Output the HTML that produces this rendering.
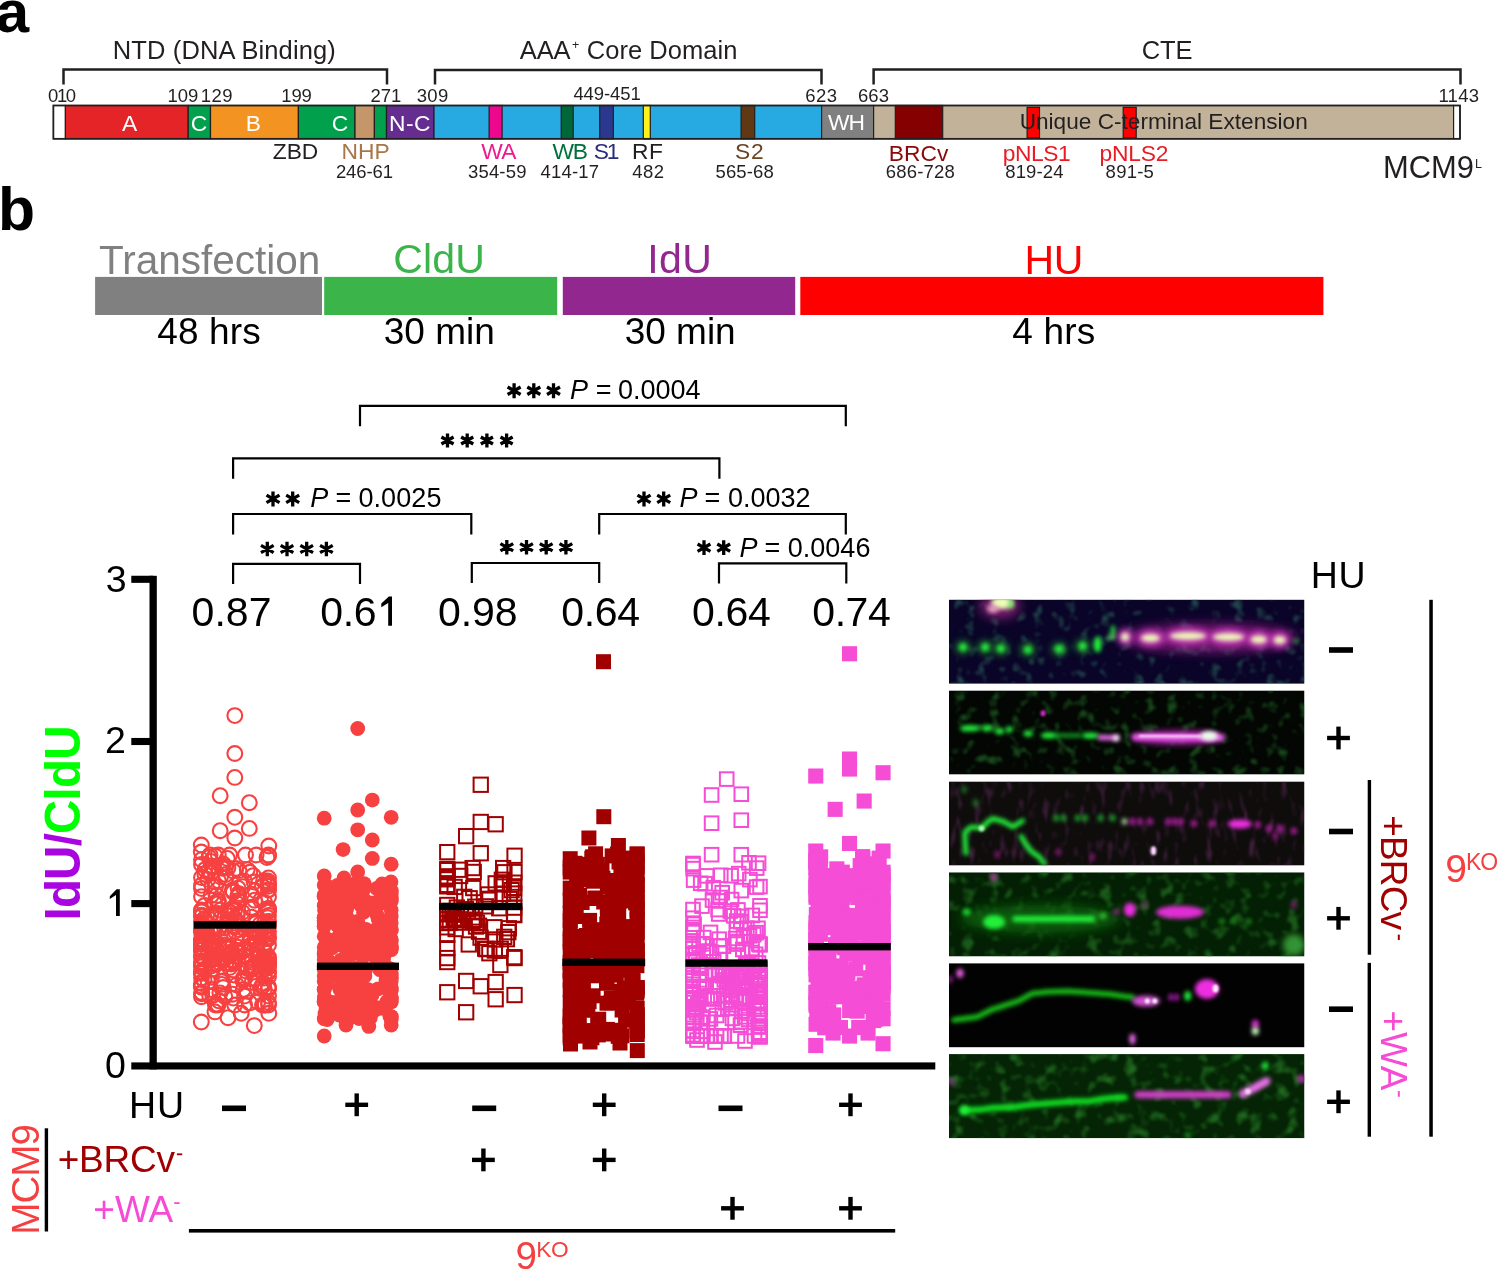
<!DOCTYPE html>
<html><head><meta charset="utf-8"><style>
html,body{margin:0;padding:0;background:#fff;overflow:hidden}
svg{display:block;will-change:transform}
text{font-family:"Liberation Sans", sans-serif}
</style></head><body>
<svg width="1498" height="1270" viewBox="0 0 1498 1270">
<defs><filter id="b2" filterUnits="userSpaceOnUse" x="900" y="550" width="450" height="620"><feGaussianBlur stdDeviation="2.0"/></filter><filter id="b3" filterUnits="userSpaceOnUse" x="900" y="550" width="450" height="620"><feGaussianBlur stdDeviation="3.2"/></filter><filter id="b6" filterUnits="userSpaceOnUse" x="900" y="550" width="450" height="620"><feGaussianBlur stdDeviation="6"/></filter><filter id="b1" filterUnits="userSpaceOnUse" x="900" y="550" width="450" height="620"><feGaussianBlur stdDeviation="1.2"/></filter><filter id="n0" filterUnits="userSpaceOnUse" x="900" y="550" width="450" height="620"><feTurbulence type="fractalNoise" baseFrequency="0.09" numOctaves="2" seed="3"/><feColorMatrix type="matrix" values="0 0 0 0 0.05  0 0 0 0 0.3  0 0 0 0 0.18  4.0 0 0 0 -2.2"/><feGaussianBlur stdDeviation="1.3"/></filter><filter id="n1" filterUnits="userSpaceOnUse" x="900" y="550" width="450" height="620"><feTurbulence type="fractalNoise" baseFrequency="0.09" numOctaves="2" seed="5"/><feColorMatrix type="matrix" values="0 0 0 0 0.04  0 0 0 0 0.4  0 0 0 0 0.05  4.0 0 0 0 -2.15"/><feGaussianBlur stdDeviation="1.3"/></filter><filter id="n2" filterUnits="userSpaceOnUse" x="900" y="550" width="450" height="620"><feTurbulence type="fractalNoise" baseFrequency="0.16 0.05" numOctaves="2" seed="7"/><feColorMatrix type="matrix" values="0 0 0 0 0.3  0 0 0 0 0.05  0 0 0 0 0.28  4.0 0 0 0 -2.2"/><feGaussianBlur stdDeviation="1.3"/></filter><filter id="n3" filterUnits="userSpaceOnUse" x="900" y="550" width="450" height="620"><feTurbulence type="fractalNoise" baseFrequency="0.08" numOctaves="2" seed="9"/><feColorMatrix type="matrix" values="0 0 0 0 0.04  0 0 0 0 0.35  0 0 0 0 0.04  4.0 0 0 0 -2.1"/><feGaussianBlur stdDeviation="1.3"/></filter><filter id="n5" filterUnits="userSpaceOnUse" x="900" y="550" width="450" height="620"><feTurbulence type="fractalNoise" baseFrequency="0.08" numOctaves="2" seed="11"/><feColorMatrix type="matrix" values="0 0 0 0 0.04  0 0 0 0 0.4  0 0 0 0 0.04  3.5 0 0 0 -1.8"/><feGaussianBlur stdDeviation="1.3"/></filter><clipPath id="cp0"><rect x="949" y="599.6" width="355.5" height="84.2"/></clipPath><clipPath id="cp1"><rect x="949" y="690.4" width="355.5" height="84.2"/></clipPath><clipPath id="cp2"><rect x="949" y="781.4" width="355.5" height="84.2"/></clipPath><clipPath id="cp3"><rect x="949" y="872.3" width="355.5" height="84.2"/></clipPath><clipPath id="cp4"><rect x="949" y="963.2" width="355.5" height="84.2"/></clipPath><clipPath id="cp5"><rect x="949" y="1054.1" width="355.5" height="84.2"/></clipPath></defs>
<text x="-4.15" y="32.20" font-size="60" fill="#000" font-weight="bold" >a</text>
<path d="M63.5 84.5 V69.6 H387 V84.5" stroke="#231f20" stroke-width="2.5" fill="none" />
<path d="M435 84.5 V70 H821.5 V84.5" stroke="#231f20" stroke-width="2.5" fill="none" />
<path d="M873.6 84.5 V69.6 H1460.5 V84.5" stroke="#231f20" stroke-width="2.5" fill="none" />
<text x="112.80" y="59.00" font-size="25.5" fill="#231f20" style="letter-spacing:0.120px" >NTD (DNA Binding)</text>
<text x="519.84" y="59.00" font-size="25.5" fill="#231f20" style="letter-spacing:-0.118px" >AAA</text>
<text x="571.91" y="48.60" font-size="12.5" fill="#231f20" >+</text>
<text x="586.73" y="59.00" font-size="25.5" fill="#231f20" style="letter-spacing:0.057px" >Core Domain</text>
<text x="1141.72" y="58.80" font-size="25.5" fill="#231f20" style="letter-spacing:-0.121px" >CTE</text>
<text x="47.96" y="101.80" font-size="18.5" fill="#231f20" >0</text>
<text x="57.11" y="101.80" font-size="18.5" fill="#231f20" style="letter-spacing:-1.554px" >10</text>
<text x="167.41" y="101.80" font-size="18.5" fill="#231f20" style="letter-spacing:0.036px" >109</text>
<text x="200.81" y="101.80" font-size="18.5" fill="#231f20" style="letter-spacing:0.386px" >129</text>
<text x="281.21" y="101.80" font-size="18.5" fill="#231f20" style="letter-spacing:-0.114px" >199</text>
<text x="370.38" y="101.80" font-size="18.5" fill="#231f20" style="letter-spacing:-0.023px" >271</text>
<text x="416.71" y="101.80" font-size="18.5" fill="#231f20" style="letter-spacing:0.339px" >309</text>
<text x="573.38" y="100.40" font-size="18.5" fill="#231f20" style="letter-spacing:-0.083px" >449-451</text>
<text x="805.18" y="101.80" font-size="18.5" fill="#231f20" style="letter-spacing:0.481px" >623</text>
<text x="857.88" y="101.80" font-size="18.5" fill="#231f20" style="letter-spacing:0.181px" >663</text>
<text x="1438.41" y="101.80" font-size="18.5" fill="#231f20" style="letter-spacing:0.266px" >1143</text>
<rect x="53.4" y="105.5" width="12.00" height="33.3" fill="#ffffff" stroke="#231f20" stroke-width="1.2"/>
<rect x="65.4" y="105.5" width="122.80" height="33.3" fill="#e52428" stroke="#231f20" stroke-width="1.2"/>
<rect x="188.2" y="105.5" width="22.30" height="33.3" fill="#00a04c" stroke="#231f20" stroke-width="1.2"/>
<rect x="210.5" y="105.5" width="87.90" height="33.3" fill="#f39322" stroke="#231f20" stroke-width="1.2"/>
<rect x="298.4" y="105.5" width="56.60" height="33.3" fill="#00a04c" stroke="#231f20" stroke-width="1.2"/>
<rect x="355" y="105.5" width="19.40" height="33.3" fill="#c4966a" stroke="#231f20" stroke-width="1.2"/>
<rect x="374.4" y="105.5" width="12.10" height="33.3" fill="#00a04c" stroke="#231f20" stroke-width="1.2"/>
<rect x="386.5" y="105.5" width="47.50" height="33.3" fill="#652d90" stroke="#231f20" stroke-width="1.2"/>
<rect x="434" y="105.5" width="387.60" height="33.3" fill="#27aae1" stroke="#231f20" stroke-width="1.2"/>
<rect x="489.1" y="105.5" width="13.00" height="33.3" fill="#ec078c" stroke="#231f20" stroke-width="1.2"/>
<rect x="561.2" y="105.5" width="12.00" height="33.3" fill="#006838" stroke="#231f20" stroke-width="1.2"/>
<rect x="599.7" y="105.5" width="13.60" height="33.3" fill="#2b388f" stroke="#231f20" stroke-width="1.2"/>
<rect x="643.3" y="105.5" width="7.00" height="33.3" fill="#fff21a" stroke="#231f20" stroke-width="1.2"/>
<rect x="741.1" y="105.5" width="13.60" height="33.3" fill="#603813" stroke="#231f20" stroke-width="1.2"/>
<rect x="821.6" y="105.5" width="52.00" height="33.3" fill="#808080" stroke="#231f20" stroke-width="1.2"/>
<rect x="873.6" y="105.5" width="580.00" height="33.3" fill="#c2b299" stroke="#231f20" stroke-width="1.2"/>
<rect x="895.3" y="105.5" width="47.40" height="33.3" fill="#850000" stroke="#231f20" stroke-width="1.2"/>
<rect x="1453.6" y="105.5" width="6.40" height="33.3" fill="#ffffff" stroke="#231f20" stroke-width="1.2"/>
<rect x="1027.1" y="107.3" width="12.40" height="30.6" fill="#ff0000" stroke="#231f20" stroke-width="1.2"/>
<rect x="1123.2" y="107.3" width="13.00" height="30.6" fill="#ff0000" stroke="#231f20" stroke-width="1.2"/>
<rect x="53.4" y="105.5" width="1406.60" height="33.3" fill="none" stroke="#231f20" stroke-width="1.7"/>
<text x="122.04" y="130.90" font-size="22.8" fill="#fff" >A</text>
<text x="190.86" y="130.90" font-size="22.8" fill="#fff" >C</text>
<text x="245.82" y="130.90" font-size="22.8" fill="#fff" >B</text>
<text x="331.86" y="130.90" font-size="22.8" fill="#fff" >C</text>
<text x="389.02" y="130.90" font-size="22.8" fill="#fff" style="letter-spacing:0.405px" >N-C</text>
<text x="828.09" y="129.90" font-size="22.8" fill="#fff" style="letter-spacing:-1.024px" >WH</text>
<text x="1019.65" y="128.80" font-size="22.6" fill="#231f20" style="letter-spacing:0.020px" >Unique C-terminal Extension</text>
<text x="272.86" y="158.60" font-size="22.8" fill="#231f20" style="letter-spacing:-0.138px" >ZBD</text>
<text x="341.52" y="158.60" font-size="22.8" fill="#a87748" >NHP</text>
<text x="481.19" y="158.70" font-size="22.8" fill="#ec1c8c" style="letter-spacing:-0.639px" >WA</text>
<text x="552.39" y="158.70" font-size="22.8" fill="#00703c" style="letter-spacing:-1.054px" >WB</text>
<text x="593.87" y="158.70" font-size="22.8" fill="#282d7c" style="letter-spacing:-2.264px" >S1</text>
<text x="631.92" y="158.70" font-size="22.8" fill="#231f20" style="letter-spacing:0.512px" >RF</text>
<text x="734.97" y="158.70" font-size="22.8" fill="#6b4420" style="letter-spacing:0.793px" >S2</text>
<text x="888.82" y="160.90" font-size="22.8" fill="#8a0a0a" style="letter-spacing:0.024px" >BRCv</text>
<text x="1002.82" y="160.80" font-size="22.8" fill="#e81c24" style="letter-spacing:-0.436px" >pNLS1</text>
<text x="1099.52" y="160.80" font-size="22.8" fill="#e81c24" style="letter-spacing:-0.197px" >pNLS2</text>
<text x="335.88" y="178.30" font-size="18.5" fill="#231f20" style="letter-spacing:-0.095px" >246-61</text>
<text x="468.01" y="178.30" font-size="18.5" fill="#231f20" style="letter-spacing:0.169px" >354-59</text>
<text x="540.58" y="178.30" font-size="18.5" fill="#231f20" style="letter-spacing:0.172px" >414-17</text>
<text x="632.28" y="178.30" font-size="18.5" fill="#231f20" style="letter-spacing:0.396px" >482</text>
<text x="715.46" y="178.30" font-size="18.5" fill="#231f20" style="letter-spacing:0.149px" >565-68</text>
<text x="885.68" y="178.30" font-size="18.5" fill="#231f20" style="letter-spacing:0.219px" >686-728</text>
<text x="1005.31" y="178.30" font-size="18.5" fill="#231f20" style="letter-spacing:0.103px" >819-24</text>
<text x="1105.61" y="178.30" font-size="18.5" fill="#231f20" style="letter-spacing:0.228px" >891-5</text>
<text x="1382.95" y="177.80" font-size="30.9" fill="#231f20" >MCM9</text>
<text x="1474.97" y="167.80" font-size="12.5" fill="#231f20" >L</text>
<text x="-1.95" y="230.20" font-size="60.7" fill="#000" font-weight="bold" >b</text>
<rect x="95.10" y="276.90" width="226.90" height="38.10" fill="#808080" />
<rect x="324.20" y="276.90" width="233.00" height="38.10" fill="#3bb44a" />
<rect x="562.80" y="276.90" width="232.40" height="38.10" fill="#92278f" />
<rect x="800.30" y="276.90" width="523.10" height="38.10" fill="#ff0000" />
<text x="98.99" y="273.60" font-size="40.5" fill="#808080" >Transfection</text>
<text x="393.35" y="273.20" font-size="41" fill="#3bb44a" style="letter-spacing:0.102px" >CldU</text>
<text x="647.31" y="273.20" font-size="41" fill="#92278f" style="letter-spacing:0.356px" >IdU</text>
<text x="1024.42" y="273.60" font-size="41" fill="#ff0000" style="letter-spacing:-0.185px" >HU</text>
<text x="157.27" y="344.20" font-size="37" fill="#000" style="letter-spacing:0.134px" >48 hrs</text>
<text x="383.81" y="344.00" font-size="37" fill="#000" >30 min</text>
<text x="624.81" y="344.00" font-size="37" fill="#000" style="letter-spacing:-0.040px" >30 min</text>
<text x="1012.27" y="343.90" font-size="37" fill="#000" style="letter-spacing:0.199px" >4 hrs</text>
<path d="M360 426.3 V405.9 H845.8 V426.3" stroke="#000" stroke-width="2.2" fill="none" />
<path d="M233.1 478.7 V458.3 H719.4 V478.7" stroke="#000" stroke-width="2.2" fill="none" />
<path d="M233.1 534.4 V514.0 H471.3 V534.4" stroke="#000" stroke-width="2.2" fill="none" />
<path d="M599.2 534.4 V514.0 H845.8 V534.4" stroke="#000" stroke-width="2.2" fill="none" />
<path d="M233.1 583.9 V563.9 H360 V583.9" stroke="#000" stroke-width="2.2" fill="none" />
<path d="M471.8 583.0 V563.0 H599.2 V583.0" stroke="#000" stroke-width="2.2" fill="none" />
<path d="M719.0 583.5 V563.3 H846.3 V583.5" stroke="#000" stroke-width="2.2" fill="none" />
<path d="M514.10 383.30V398.30M507.61 387.05L520.60 394.55M507.61 394.55L520.60 387.05M533.80 383.30V398.30M527.31 387.05L540.30 394.55M527.31 394.55L540.30 387.05M553.50 383.30V398.30M547.00 387.05L560.00 394.55M547.00 394.55L560.00 387.05" stroke="#000" stroke-width="3.3" fill="none" />
<text x="570.09" y="399.40" font-size="27" fill="#000" font-style="italic" >P</text>
<text x="595.72" y="399.40" font-size="27" fill="#000" >=</text>
<text x="617.92" y="399.40" font-size="27" fill="#000" >0.0004</text>
<path d="M447.50 433.50V447.50M441.44 437.00L453.56 444.00M441.44 444.00L453.56 437.00M467.20 433.50V447.50M461.14 437.00L473.26 444.00M461.14 444.00L473.26 437.00M486.90 433.50V447.50M480.84 437.00L492.96 444.00M480.84 444.00L492.96 437.00M506.60 433.50V447.50M500.54 437.00L512.66 444.00M500.54 444.00L512.66 437.00" stroke="#000" stroke-width="3.3" fill="none" />
<path d="M273.00 491.40V506.40M266.50 495.15L279.50 502.65M266.50 502.65L279.50 495.15M292.70 491.40V506.40M286.20 495.15L299.19 502.65M286.20 502.65L299.19 495.15" stroke="#000" stroke-width="3.3" fill="none" />
<text x="310.29" y="506.80" font-size="27" fill="#000" font-style="italic" >P</text>
<text x="335.42" y="506.80" font-size="27" fill="#000" >=</text>
<text x="358.42" y="506.80" font-size="27" fill="#000" style="letter-spacing:0.082px" >0.0025</text>
<path d="M644.00 491.40V506.40M637.50 495.15L650.50 502.65M637.50 502.65L650.50 495.15M663.70 491.40V506.40M657.21 495.15L670.20 502.65M657.21 502.65L670.20 495.15" stroke="#000" stroke-width="3.3" fill="none" />
<text x="679.59" y="507.40" font-size="27" fill="#000" font-style="italic" >P</text>
<text x="704.52" y="507.40" font-size="27" fill="#000" >=</text>
<text x="728.02" y="507.40" font-size="27" fill="#000" >0.0032</text>
<path d="M267.30 541.70V556.30M260.98 545.35L273.62 552.65M260.98 552.65L273.62 545.35M287.00 541.70V556.30M280.68 545.35L293.32 552.65M280.68 552.65L293.32 545.35M306.70 541.70V556.30M300.38 545.35L313.02 552.65M300.38 552.65L313.02 545.35M326.40 541.70V556.30M320.08 545.35L332.72 552.65M320.08 552.65L332.72 545.35" stroke="#000" stroke-width="3.3" fill="none" />
<path d="M506.80 539.90V554.60M500.43 543.58L513.17 550.92M500.43 550.92L513.17 543.58M526.50 539.90V554.60M520.13 543.58L532.87 550.92M520.13 550.92L532.87 543.58M546.20 539.90V554.60M539.83 543.58L552.57 550.92M539.83 550.92L552.57 543.58M565.90 539.90V554.60M559.53 543.58L572.27 550.92M559.53 550.92L572.27 543.58" stroke="#000" stroke-width="3.3" fill="none" />
<path d="M704.00 540.30V555.10M697.59 544.00L710.41 551.40M697.59 551.40L710.41 544.00M723.70 540.30V555.10M717.29 544.00L730.11 551.40M717.29 551.40L730.11 544.00" stroke="#000" stroke-width="3.3" fill="none" />
<text x="739.59" y="556.60" font-size="27" fill="#000" font-style="italic" >P</text>
<text x="764.52" y="556.60" font-size="27" fill="#000" >=</text>
<text x="787.82" y="556.60" font-size="27" fill="#000" >0.0046</text>
<text x="320.36" y="626.00" font-size="41" fill="#000" style="letter-spacing:-0.354px" >0.6</text>
<path d="M392.0 596.5L392.0 625.8L388.2 625.8L388.2 603.0L381.3 607.3L381.3 603.5L388.80 596.5Z" fill="#000"/>
<text x="191.56" y="626.00" font-size="41" fill="#000" style="letter-spacing:0.048px" >0.87</text>
<text x="437.96" y="626.00" font-size="41" fill="#000" style="letter-spacing:-0.087px" >0.98</text>
<text x="561.26" y="626.00" font-size="41" fill="#000" style="letter-spacing:-0.359px" >0.64</text>
<text x="692.06" y="626.00" font-size="41" fill="#000" style="letter-spacing:-0.359px" >0.64</text>
<text x="812.36" y="626.00" font-size="41" fill="#000" style="letter-spacing:-0.492px" >0.74</text>
<rect x="149.50" y="575.80" width="7.30" height="493.60" fill="#000" />
<rect x="131.30" y="1062.40" width="804.00" height="7.10" fill="#000" />
<rect x="131.30" y="575.75" width="22.00" height="7.10" fill="#000" />
<rect x="131.30" y="737.95" width="22.00" height="7.10" fill="#000" />
<rect x="131.30" y="900.05" width="22.00" height="7.10" fill="#000" />
<path d="M119.8 889.3L119.8 915.9L116.0 915.9L116.0 895.0L109.8 898.9L109.8 896.3L116.60 889.3Z" fill="#000"/>
<text x="105.69" y="591.60" font-size="37.5" fill="#000" >3</text>
<text x="104.92" y="753.40" font-size="37.5" fill="#000" >2</text>
<text x="105.10" y="1078.40" font-size="37.5" fill="#000" >0</text>
<text transform="translate(80.45,917.3) rotate(-90) scale(1,1.035)" x="-3.21" y="0" font-size="47.5" font-weight="bold" fill="#a805e0" style="letter-spacing:-0.787px">IdU/</text>
<text transform="translate(80.45,917.3) rotate(-90) scale(1,1.035)" x="83.36" y="0" font-size="47.5" font-weight="bold" fill="#00ff00" style="letter-spacing:-0.787px">CldU</text>
<circle cx="234.8" cy="715.6" r="7.4" fill="none" stroke="#f74141" stroke-width="2.1"/>
<circle cx="234.8" cy="753.5" r="7.4" fill="none" stroke="#f74141" stroke-width="2.1"/>
<circle cx="234.8" cy="777.4" r="7.4" fill="none" stroke="#f74141" stroke-width="2.1"/>
<circle cx="220.2" cy="795.7" r="7.4" fill="none" stroke="#f74141" stroke-width="2.1"/>
<circle cx="249.3" cy="802.7" r="7.4" fill="none" stroke="#f74141" stroke-width="2.1"/>
<circle cx="234.8" cy="817.3" r="7.4" fill="none" stroke="#f74141" stroke-width="2.1"/>
<circle cx="220.2" cy="830.7" r="7.4" fill="none" stroke="#f74141" stroke-width="2.1"/>
<circle cx="249.3" cy="828.4" r="7.4" fill="none" stroke="#f74141" stroke-width="2.1"/>
<circle cx="234.8" cy="838.0" r="7.4" fill="none" stroke="#f74141" stroke-width="2.1"/>
<circle cx="201.3" cy="1022.0" r="7.4" fill="none" stroke="#f74141" stroke-width="2.1"/>
<circle cx="254.3" cy="1025.6" r="7.4" fill="none" stroke="#f74141" stroke-width="2.1"/>
<circle cx="228.0" cy="1017.7" r="7.4" fill="none" stroke="#f74141" stroke-width="2.1"/>
<circle cx="268.8" cy="1013.3" r="7.4" fill="none" stroke="#f74141" stroke-width="2.1"/>
<circle cx="215.0" cy="1011.9" r="7.4" fill="none" stroke="#f74141" stroke-width="2.1"/>
<circle cx="241.2" cy="1013.3" r="7.4" fill="none" stroke="#f74141" stroke-width="2.1"/>
<circle cx="201.3" cy="845.0" r="7.4" fill="none" stroke="#f74141" stroke-width="2.1"/>
<circle cx="268.8" cy="846.0" r="7.4" fill="none" stroke="#f74141" stroke-width="2.1"/>
<circle cx="201.3" cy="852.0" r="7.4" fill="none" stroke="#f74141" stroke-width="2.1"/>
<circle cx="215.0" cy="856.0" r="7.4" fill="none" stroke="#f74141" stroke-width="2.1"/>
<circle cx="211.6" cy="865.9" r="7.4" fill="none" stroke="#f74141" stroke-width="2.1"/>
<circle cx="226.0" cy="924.5" r="7.4" fill="none" stroke="#f74141" stroke-width="2.1"/>
<circle cx="206.2" cy="934.5" r="7.4" fill="none" stroke="#f74141" stroke-width="2.1"/>
<circle cx="256.9" cy="943.9" r="7.4" fill="none" stroke="#f74141" stroke-width="2.1"/>
<circle cx="268.5" cy="987.6" r="7.4" fill="none" stroke="#f74141" stroke-width="2.1"/>
<circle cx="238.8" cy="893.6" r="7.4" fill="none" stroke="#f74141" stroke-width="2.1"/>
<circle cx="239.0" cy="870.5" r="7.4" fill="none" stroke="#f74141" stroke-width="2.1"/>
<circle cx="214.1" cy="958.1" r="7.4" fill="none" stroke="#f74141" stroke-width="2.1"/>
<circle cx="239.3" cy="929.5" r="7.4" fill="none" stroke="#f74141" stroke-width="2.1"/>
<circle cx="253.6" cy="966.9" r="7.4" fill="none" stroke="#f74141" stroke-width="2.1"/>
<circle cx="213.5" cy="867.3" r="7.4" fill="none" stroke="#f74141" stroke-width="2.1"/>
<circle cx="234.7" cy="918.3" r="7.4" fill="none" stroke="#f74141" stroke-width="2.1"/>
<circle cx="242.3" cy="912.2" r="7.4" fill="none" stroke="#f74141" stroke-width="2.1"/>
<circle cx="264.0" cy="933.3" r="7.4" fill="none" stroke="#f74141" stroke-width="2.1"/>
<circle cx="201.5" cy="941.0" r="7.4" fill="none" stroke="#f74141" stroke-width="2.1"/>
<circle cx="268.5" cy="908.8" r="7.4" fill="none" stroke="#f74141" stroke-width="2.1"/>
<circle cx="201.5" cy="996.7" r="7.4" fill="none" stroke="#f74141" stroke-width="2.1"/>
<circle cx="246.0" cy="971.0" r="7.4" fill="none" stroke="#f74141" stroke-width="2.1"/>
<circle cx="244.9" cy="978.3" r="7.4" fill="none" stroke="#f74141" stroke-width="2.1"/>
<circle cx="227.3" cy="858.4" r="7.4" fill="none" stroke="#f74141" stroke-width="2.1"/>
<circle cx="212.8" cy="995.6" r="7.4" fill="none" stroke="#f74141" stroke-width="2.1"/>
<circle cx="218.1" cy="958.5" r="7.4" fill="none" stroke="#f74141" stroke-width="2.1"/>
<circle cx="201.5" cy="910.0" r="7.4" fill="none" stroke="#f74141" stroke-width="2.1"/>
<circle cx="230.3" cy="952.8" r="7.4" fill="none" stroke="#f74141" stroke-width="2.1"/>
<circle cx="267.6" cy="912.1" r="7.4" fill="none" stroke="#f74141" stroke-width="2.1"/>
<circle cx="207.1" cy="931.8" r="7.4" fill="none" stroke="#f74141" stroke-width="2.1"/>
<circle cx="201.5" cy="930.0" r="7.4" fill="none" stroke="#f74141" stroke-width="2.1"/>
<circle cx="229.6" cy="855.0" r="7.4" fill="none" stroke="#f74141" stroke-width="2.1"/>
<circle cx="236.0" cy="956.4" r="7.4" fill="none" stroke="#f74141" stroke-width="2.1"/>
<circle cx="261.8" cy="986.2" r="7.4" fill="none" stroke="#f74141" stroke-width="2.1"/>
<circle cx="268.5" cy="896.9" r="7.4" fill="none" stroke="#f74141" stroke-width="2.1"/>
<circle cx="233.8" cy="975.0" r="7.4" fill="none" stroke="#f74141" stroke-width="2.1"/>
<circle cx="208.9" cy="870.4" r="7.4" fill="none" stroke="#f74141" stroke-width="2.1"/>
<circle cx="237.5" cy="947.1" r="7.4" fill="none" stroke="#f74141" stroke-width="2.1"/>
<circle cx="215.4" cy="1005.0" r="7.4" fill="none" stroke="#f74141" stroke-width="2.1"/>
<circle cx="265.5" cy="926.1" r="7.4" fill="none" stroke="#f74141" stroke-width="2.1"/>
<circle cx="234.2" cy="927.1" r="7.4" fill="none" stroke="#f74141" stroke-width="2.1"/>
<circle cx="211.2" cy="966.1" r="7.4" fill="none" stroke="#f74141" stroke-width="2.1"/>
<circle cx="247.9" cy="961.0" r="7.4" fill="none" stroke="#f74141" stroke-width="2.1"/>
<circle cx="247.7" cy="968.7" r="7.4" fill="none" stroke="#f74141" stroke-width="2.1"/>
<circle cx="244.6" cy="1005.0" r="7.4" fill="none" stroke="#f74141" stroke-width="2.1"/>
<circle cx="268.5" cy="908.4" r="7.4" fill="none" stroke="#f74141" stroke-width="2.1"/>
<circle cx="237.8" cy="900.7" r="7.4" fill="none" stroke="#f74141" stroke-width="2.1"/>
<circle cx="201.5" cy="977.7" r="7.4" fill="none" stroke="#f74141" stroke-width="2.1"/>
<circle cx="216.7" cy="895.4" r="7.4" fill="none" stroke="#f74141" stroke-width="2.1"/>
<circle cx="203.4" cy="929.6" r="7.4" fill="none" stroke="#f74141" stroke-width="2.1"/>
<circle cx="265.6" cy="963.9" r="7.4" fill="none" stroke="#f74141" stroke-width="2.1"/>
<circle cx="268.5" cy="909.7" r="7.4" fill="none" stroke="#f74141" stroke-width="2.1"/>
<circle cx="216.7" cy="950.0" r="7.4" fill="none" stroke="#f74141" stroke-width="2.1"/>
<circle cx="201.5" cy="986.0" r="7.4" fill="none" stroke="#f74141" stroke-width="2.1"/>
<circle cx="255.1" cy="890.6" r="7.4" fill="none" stroke="#f74141" stroke-width="2.1"/>
<circle cx="201.5" cy="864.5" r="7.4" fill="none" stroke="#f74141" stroke-width="2.1"/>
<circle cx="254.4" cy="966.8" r="7.4" fill="none" stroke="#f74141" stroke-width="2.1"/>
<circle cx="228.4" cy="963.7" r="7.4" fill="none" stroke="#f74141" stroke-width="2.1"/>
<circle cx="210.0" cy="855.0" r="7.4" fill="none" stroke="#f74141" stroke-width="2.1"/>
<circle cx="201.5" cy="944.4" r="7.4" fill="none" stroke="#f74141" stroke-width="2.1"/>
<circle cx="264.3" cy="927.5" r="7.4" fill="none" stroke="#f74141" stroke-width="2.1"/>
<circle cx="201.5" cy="932.6" r="7.4" fill="none" stroke="#f74141" stroke-width="2.1"/>
<circle cx="268.5" cy="884.2" r="7.4" fill="none" stroke="#f74141" stroke-width="2.1"/>
<circle cx="201.5" cy="927.5" r="7.4" fill="none" stroke="#f74141" stroke-width="2.1"/>
<circle cx="218.9" cy="962.2" r="7.4" fill="none" stroke="#f74141" stroke-width="2.1"/>
<circle cx="262.5" cy="886.4" r="7.4" fill="none" stroke="#f74141" stroke-width="2.1"/>
<circle cx="268.5" cy="986.7" r="7.4" fill="none" stroke="#f74141" stroke-width="2.1"/>
<circle cx="211.7" cy="948.1" r="7.4" fill="none" stroke="#f74141" stroke-width="2.1"/>
<circle cx="201.5" cy="971.4" r="7.4" fill="none" stroke="#f74141" stroke-width="2.1"/>
<circle cx="211.0" cy="873.1" r="7.4" fill="none" stroke="#f74141" stroke-width="2.1"/>
<circle cx="247.2" cy="869.6" r="7.4" fill="none" stroke="#f74141" stroke-width="2.1"/>
<circle cx="201.5" cy="942.2" r="7.4" fill="none" stroke="#f74141" stroke-width="2.1"/>
<circle cx="253.2" cy="875.6" r="7.4" fill="none" stroke="#f74141" stroke-width="2.1"/>
<circle cx="268.5" cy="910.7" r="7.4" fill="none" stroke="#f74141" stroke-width="2.1"/>
<circle cx="201.5" cy="922.9" r="7.4" fill="none" stroke="#f74141" stroke-width="2.1"/>
<circle cx="233.5" cy="959.9" r="7.4" fill="none" stroke="#f74141" stroke-width="2.1"/>
<circle cx="268.5" cy="988.9" r="7.4" fill="none" stroke="#f74141" stroke-width="2.1"/>
<circle cx="231.5" cy="909.2" r="7.4" fill="none" stroke="#f74141" stroke-width="2.1"/>
<circle cx="230.2" cy="955.7" r="7.4" fill="none" stroke="#f74141" stroke-width="2.1"/>
<circle cx="209.7" cy="995.9" r="7.4" fill="none" stroke="#f74141" stroke-width="2.1"/>
<circle cx="226.0" cy="962.8" r="7.4" fill="none" stroke="#f74141" stroke-width="2.1"/>
<circle cx="207.8" cy="879.4" r="7.4" fill="none" stroke="#f74141" stroke-width="2.1"/>
<circle cx="216.5" cy="1004.1" r="7.4" fill="none" stroke="#f74141" stroke-width="2.1"/>
<circle cx="229.7" cy="967.4" r="7.4" fill="none" stroke="#f74141" stroke-width="2.1"/>
<circle cx="226.0" cy="877.8" r="7.4" fill="none" stroke="#f74141" stroke-width="2.1"/>
<circle cx="236.2" cy="950.2" r="7.4" fill="none" stroke="#f74141" stroke-width="2.1"/>
<circle cx="201.5" cy="973.3" r="7.4" fill="none" stroke="#f74141" stroke-width="2.1"/>
<circle cx="201.5" cy="923.7" r="7.4" fill="none" stroke="#f74141" stroke-width="2.1"/>
<circle cx="252.1" cy="982.4" r="7.4" fill="none" stroke="#f74141" stroke-width="2.1"/>
<circle cx="264.9" cy="1005.0" r="7.4" fill="none" stroke="#f74141" stroke-width="2.1"/>
<circle cx="236.0" cy="920.7" r="7.4" fill="none" stroke="#f74141" stroke-width="2.1"/>
<circle cx="201.5" cy="962.2" r="7.4" fill="none" stroke="#f74141" stroke-width="2.1"/>
<circle cx="264.4" cy="975.2" r="7.4" fill="none" stroke="#f74141" stroke-width="2.1"/>
<circle cx="258.9" cy="962.2" r="7.4" fill="none" stroke="#f74141" stroke-width="2.1"/>
<circle cx="238.6" cy="895.2" r="7.4" fill="none" stroke="#f74141" stroke-width="2.1"/>
<circle cx="236.8" cy="903.3" r="7.4" fill="none" stroke="#f74141" stroke-width="2.1"/>
<circle cx="212.3" cy="944.8" r="7.4" fill="none" stroke="#f74141" stroke-width="2.1"/>
<circle cx="252.4" cy="966.4" r="7.4" fill="none" stroke="#f74141" stroke-width="2.1"/>
<circle cx="213.4" cy="963.7" r="7.4" fill="none" stroke="#f74141" stroke-width="2.1"/>
<circle cx="250.6" cy="938.3" r="7.4" fill="none" stroke="#f74141" stroke-width="2.1"/>
<circle cx="233.3" cy="870.9" r="7.4" fill="none" stroke="#f74141" stroke-width="2.1"/>
<circle cx="268.5" cy="936.9" r="7.4" fill="none" stroke="#f74141" stroke-width="2.1"/>
<circle cx="268.5" cy="1002.4" r="7.4" fill="none" stroke="#f74141" stroke-width="2.1"/>
<circle cx="257.3" cy="950.4" r="7.4" fill="none" stroke="#f74141" stroke-width="2.1"/>
<circle cx="224.8" cy="945.0" r="7.4" fill="none" stroke="#f74141" stroke-width="2.1"/>
<circle cx="218.6" cy="945.6" r="7.4" fill="none" stroke="#f74141" stroke-width="2.1"/>
<circle cx="257.9" cy="955.6" r="7.4" fill="none" stroke="#f74141" stroke-width="2.1"/>
<circle cx="217.7" cy="913.5" r="7.4" fill="none" stroke="#f74141" stroke-width="2.1"/>
<circle cx="219.1" cy="1000.9" r="7.4" fill="none" stroke="#f74141" stroke-width="2.1"/>
<circle cx="217.9" cy="901.4" r="7.4" fill="none" stroke="#f74141" stroke-width="2.1"/>
<circle cx="201.6" cy="940.6" r="7.4" fill="none" stroke="#f74141" stroke-width="2.1"/>
<circle cx="235.2" cy="931.2" r="7.4" fill="none" stroke="#f74141" stroke-width="2.1"/>
<circle cx="207.5" cy="934.9" r="7.4" fill="none" stroke="#f74141" stroke-width="2.1"/>
<circle cx="203.0" cy="940.4" r="7.4" fill="none" stroke="#f74141" stroke-width="2.1"/>
<circle cx="251.8" cy="962.4" r="7.4" fill="none" stroke="#f74141" stroke-width="2.1"/>
<circle cx="268.5" cy="963.1" r="7.4" fill="none" stroke="#f74141" stroke-width="2.1"/>
<circle cx="220.5" cy="876.7" r="7.4" fill="none" stroke="#f74141" stroke-width="2.1"/>
<circle cx="268.5" cy="976.8" r="7.4" fill="none" stroke="#f74141" stroke-width="2.1"/>
<circle cx="236.6" cy="985.1" r="7.4" fill="none" stroke="#f74141" stroke-width="2.1"/>
<circle cx="201.5" cy="942.6" r="7.4" fill="none" stroke="#f74141" stroke-width="2.1"/>
<circle cx="201.5" cy="987.2" r="7.4" fill="none" stroke="#f74141" stroke-width="2.1"/>
<circle cx="268.5" cy="938.8" r="7.4" fill="none" stroke="#f74141" stroke-width="2.1"/>
<circle cx="243.5" cy="928.4" r="7.4" fill="none" stroke="#f74141" stroke-width="2.1"/>
<circle cx="254.9" cy="930.4" r="7.4" fill="none" stroke="#f74141" stroke-width="2.1"/>
<circle cx="245.7" cy="949.1" r="7.4" fill="none" stroke="#f74141" stroke-width="2.1"/>
<circle cx="218.4" cy="929.0" r="7.4" fill="none" stroke="#f74141" stroke-width="2.1"/>
<circle cx="251.1" cy="929.1" r="7.4" fill="none" stroke="#f74141" stroke-width="2.1"/>
<circle cx="233.6" cy="970.0" r="7.4" fill="none" stroke="#f74141" stroke-width="2.1"/>
<circle cx="244.6" cy="996.1" r="7.4" fill="none" stroke="#f74141" stroke-width="2.1"/>
<circle cx="218.5" cy="900.7" r="7.4" fill="none" stroke="#f74141" stroke-width="2.1"/>
<circle cx="202.3" cy="928.3" r="7.4" fill="none" stroke="#f74141" stroke-width="2.1"/>
<circle cx="246.8" cy="991.3" r="7.4" fill="none" stroke="#f74141" stroke-width="2.1"/>
<circle cx="232.6" cy="994.2" r="7.4" fill="none" stroke="#f74141" stroke-width="2.1"/>
<circle cx="267.0" cy="857.6" r="7.4" fill="none" stroke="#f74141" stroke-width="2.1"/>
<circle cx="256.4" cy="922.4" r="7.4" fill="none" stroke="#f74141" stroke-width="2.1"/>
<circle cx="215.6" cy="886.6" r="7.4" fill="none" stroke="#f74141" stroke-width="2.1"/>
<circle cx="211.0" cy="989.5" r="7.4" fill="none" stroke="#f74141" stroke-width="2.1"/>
<circle cx="201.5" cy="949.8" r="7.4" fill="none" stroke="#f74141" stroke-width="2.1"/>
<circle cx="209.0" cy="857.3" r="7.4" fill="none" stroke="#f74141" stroke-width="2.1"/>
<circle cx="212.2" cy="957.2" r="7.4" fill="none" stroke="#f74141" stroke-width="2.1"/>
<circle cx="250.2" cy="936.0" r="7.4" fill="none" stroke="#f74141" stroke-width="2.1"/>
<circle cx="209.6" cy="919.4" r="7.4" fill="none" stroke="#f74141" stroke-width="2.1"/>
<circle cx="264.5" cy="965.8" r="7.4" fill="none" stroke="#f74141" stroke-width="2.1"/>
<circle cx="251.1" cy="969.7" r="7.4" fill="none" stroke="#f74141" stroke-width="2.1"/>
<circle cx="201.5" cy="950.0" r="7.4" fill="none" stroke="#f74141" stroke-width="2.1"/>
<circle cx="219.9" cy="992.9" r="7.4" fill="none" stroke="#f74141" stroke-width="2.1"/>
<circle cx="264.2" cy="978.0" r="7.4" fill="none" stroke="#f74141" stroke-width="2.1"/>
<circle cx="235.7" cy="868.5" r="7.4" fill="none" stroke="#f74141" stroke-width="2.1"/>
<circle cx="268.5" cy="996.1" r="7.4" fill="none" stroke="#f74141" stroke-width="2.1"/>
<circle cx="249.7" cy="1002.9" r="7.4" fill="none" stroke="#f74141" stroke-width="2.1"/>
<circle cx="231.7" cy="951.7" r="7.4" fill="none" stroke="#f74141" stroke-width="2.1"/>
<circle cx="204.8" cy="874.1" r="7.4" fill="none" stroke="#f74141" stroke-width="2.1"/>
<circle cx="224.5" cy="927.8" r="7.4" fill="none" stroke="#f74141" stroke-width="2.1"/>
<circle cx="245.5" cy="855.0" r="7.4" fill="none" stroke="#f74141" stroke-width="2.1"/>
<circle cx="227.9" cy="948.7" r="7.4" fill="none" stroke="#f74141" stroke-width="2.1"/>
<circle cx="268.5" cy="957.0" r="7.4" fill="none" stroke="#f74141" stroke-width="2.1"/>
<circle cx="223.8" cy="919.1" r="7.4" fill="none" stroke="#f74141" stroke-width="2.1"/>
<circle cx="217.9" cy="903.7" r="7.4" fill="none" stroke="#f74141" stroke-width="2.1"/>
<circle cx="255.7" cy="923.5" r="7.4" fill="none" stroke="#f74141" stroke-width="2.1"/>
<circle cx="259.8" cy="934.3" r="7.4" fill="none" stroke="#f74141" stroke-width="2.1"/>
<circle cx="251.9" cy="908.9" r="7.4" fill="none" stroke="#f74141" stroke-width="2.1"/>
<circle cx="225.6" cy="934.4" r="7.4" fill="none" stroke="#f74141" stroke-width="2.1"/>
<circle cx="201.5" cy="964.8" r="7.4" fill="none" stroke="#f74141" stroke-width="2.1"/>
<circle cx="230.4" cy="912.4" r="7.4" fill="none" stroke="#f74141" stroke-width="2.1"/>
<circle cx="201.5" cy="877.5" r="7.4" fill="none" stroke="#f74141" stroke-width="2.1"/>
<circle cx="268.5" cy="964.2" r="7.4" fill="none" stroke="#f74141" stroke-width="2.1"/>
<circle cx="263.6" cy="983.3" r="7.4" fill="none" stroke="#f74141" stroke-width="2.1"/>
<circle cx="201.5" cy="888.6" r="7.4" fill="none" stroke="#f74141" stroke-width="2.1"/>
<circle cx="266.6" cy="961.9" r="7.4" fill="none" stroke="#f74141" stroke-width="2.1"/>
<circle cx="268.5" cy="882.5" r="7.4" fill="none" stroke="#f74141" stroke-width="2.1"/>
<circle cx="201.6" cy="925.5" r="7.4" fill="none" stroke="#f74141" stroke-width="2.1"/>
<circle cx="266.0" cy="934.2" r="7.4" fill="none" stroke="#f74141" stroke-width="2.1"/>
<circle cx="252.7" cy="930.6" r="7.4" fill="none" stroke="#f74141" stroke-width="2.1"/>
<circle cx="264.7" cy="930.4" r="7.4" fill="none" stroke="#f74141" stroke-width="2.1"/>
<circle cx="237.5" cy="896.8" r="7.4" fill="none" stroke="#f74141" stroke-width="2.1"/>
<circle cx="257.7" cy="1002.0" r="7.4" fill="none" stroke="#f74141" stroke-width="2.1"/>
<circle cx="238.1" cy="888.2" r="7.4" fill="none" stroke="#f74141" stroke-width="2.1"/>
<circle cx="214.5" cy="952.1" r="7.4" fill="none" stroke="#f74141" stroke-width="2.1"/>
<circle cx="216.8" cy="964.0" r="7.4" fill="none" stroke="#f74141" stroke-width="2.1"/>
<circle cx="234.5" cy="962.7" r="7.4" fill="none" stroke="#f74141" stroke-width="2.1"/>
<circle cx="228.1" cy="915.8" r="7.4" fill="none" stroke="#f74141" stroke-width="2.1"/>
<circle cx="234.7" cy="1005.0" r="7.4" fill="none" stroke="#f74141" stroke-width="2.1"/>
<circle cx="214.5" cy="927.5" r="7.4" fill="none" stroke="#f74141" stroke-width="2.1"/>
<circle cx="243.3" cy="989.5" r="7.4" fill="none" stroke="#f74141" stroke-width="2.1"/>
<circle cx="262.5" cy="1005.0" r="7.4" fill="none" stroke="#f74141" stroke-width="2.1"/>
<circle cx="263.3" cy="985.6" r="7.4" fill="none" stroke="#f74141" stroke-width="2.1"/>
<circle cx="249.1" cy="942.6" r="7.4" fill="none" stroke="#f74141" stroke-width="2.1"/>
<circle cx="249.2" cy="946.7" r="7.4" fill="none" stroke="#f74141" stroke-width="2.1"/>
<circle cx="214.3" cy="933.7" r="7.4" fill="none" stroke="#f74141" stroke-width="2.1"/>
<circle cx="222.4" cy="980.9" r="7.4" fill="none" stroke="#f74141" stroke-width="2.1"/>
<circle cx="268.5" cy="945.1" r="7.4" fill="none" stroke="#f74141" stroke-width="2.1"/>
<circle cx="220.2" cy="953.8" r="7.4" fill="none" stroke="#f74141" stroke-width="2.1"/>
<circle cx="201.5" cy="929.6" r="7.4" fill="none" stroke="#f74141" stroke-width="2.1"/>
<circle cx="222.2" cy="868.2" r="7.4" fill="none" stroke="#f74141" stroke-width="2.1"/>
<circle cx="214.6" cy="903.3" r="7.4" fill="none" stroke="#f74141" stroke-width="2.1"/>
<circle cx="233.3" cy="892.2" r="7.4" fill="none" stroke="#f74141" stroke-width="2.1"/>
<circle cx="228.6" cy="946.1" r="7.4" fill="none" stroke="#f74141" stroke-width="2.1"/>
<circle cx="255.3" cy="939.6" r="7.4" fill="none" stroke="#f74141" stroke-width="2.1"/>
<circle cx="225.8" cy="947.9" r="7.4" fill="none" stroke="#f74141" stroke-width="2.1"/>
<circle cx="201.5" cy="928.1" r="7.4" fill="none" stroke="#f74141" stroke-width="2.1"/>
<circle cx="201.8" cy="992.5" r="7.4" fill="none" stroke="#f74141" stroke-width="2.1"/>
<circle cx="264.7" cy="902.6" r="7.4" fill="none" stroke="#f74141" stroke-width="2.1"/>
<circle cx="233.3" cy="998.1" r="7.4" fill="none" stroke="#f74141" stroke-width="2.1"/>
<circle cx="218.3" cy="855.0" r="7.4" fill="none" stroke="#f74141" stroke-width="2.1"/>
<circle cx="255.3" cy="978.4" r="7.4" fill="none" stroke="#f74141" stroke-width="2.1"/>
<circle cx="242.2" cy="938.6" r="7.4" fill="none" stroke="#f74141" stroke-width="2.1"/>
<circle cx="225.7" cy="866.9" r="7.4" fill="none" stroke="#f74141" stroke-width="2.1"/>
<circle cx="251.9" cy="944.2" r="7.4" fill="none" stroke="#f74141" stroke-width="2.1"/>
<circle cx="223.3" cy="987.5" r="7.4" fill="none" stroke="#f74141" stroke-width="2.1"/>
<circle cx="268.5" cy="886.3" r="7.4" fill="none" stroke="#f74141" stroke-width="2.1"/>
<circle cx="267.7" cy="881.0" r="7.4" fill="none" stroke="#f74141" stroke-width="2.1"/>
<circle cx="232.4" cy="890.2" r="7.4" fill="none" stroke="#f74141" stroke-width="2.1"/>
<circle cx="253.3" cy="972.0" r="7.4" fill="none" stroke="#f74141" stroke-width="2.1"/>
<circle cx="220.2" cy="938.9" r="7.4" fill="none" stroke="#f74141" stroke-width="2.1"/>
<circle cx="218.9" cy="945.9" r="7.4" fill="none" stroke="#f74141" stroke-width="2.1"/>
<circle cx="262.3" cy="960.6" r="7.4" fill="none" stroke="#f74141" stroke-width="2.1"/>
<circle cx="218.4" cy="880.7" r="7.4" fill="none" stroke="#f74141" stroke-width="2.1"/>
<circle cx="232.6" cy="925.9" r="7.4" fill="none" stroke="#f74141" stroke-width="2.1"/>
<circle cx="260.6" cy="900.2" r="7.4" fill="none" stroke="#f74141" stroke-width="2.1"/>
<circle cx="201.5" cy="946.7" r="7.4" fill="none" stroke="#f74141" stroke-width="2.1"/>
<circle cx="266.7" cy="968.2" r="7.4" fill="none" stroke="#f74141" stroke-width="2.1"/>
<circle cx="268.5" cy="971.2" r="7.4" fill="none" stroke="#f74141" stroke-width="2.1"/>
<circle cx="201.9" cy="961.5" r="7.4" fill="none" stroke="#f74141" stroke-width="2.1"/>
<circle cx="204.0" cy="919.4" r="7.4" fill="none" stroke="#f74141" stroke-width="2.1"/>
<circle cx="268.5" cy="925.6" r="7.4" fill="none" stroke="#f74141" stroke-width="2.1"/>
<circle cx="268.5" cy="855.0" r="7.4" fill="none" stroke="#f74141" stroke-width="2.1"/>
<circle cx="243.1" cy="978.6" r="7.4" fill="none" stroke="#f74141" stroke-width="2.1"/>
<circle cx="228.8" cy="954.6" r="7.4" fill="none" stroke="#f74141" stroke-width="2.1"/>
<circle cx="237.3" cy="914.7" r="7.4" fill="none" stroke="#f74141" stroke-width="2.1"/>
<circle cx="267.7" cy="917.7" r="7.4" fill="none" stroke="#f74141" stroke-width="2.1"/>
<circle cx="251.4" cy="917.1" r="7.4" fill="none" stroke="#f74141" stroke-width="2.1"/>
<circle cx="252.9" cy="951.7" r="7.4" fill="none" stroke="#f74141" stroke-width="2.1"/>
<circle cx="228.6" cy="920.1" r="7.4" fill="none" stroke="#f74141" stroke-width="2.1"/>
<circle cx="209.1" cy="943.7" r="7.4" fill="none" stroke="#f74141" stroke-width="2.1"/>
<circle cx="225.9" cy="874.5" r="7.4" fill="none" stroke="#f74141" stroke-width="2.1"/>
<circle cx="211.0" cy="914.5" r="7.4" fill="none" stroke="#f74141" stroke-width="2.1"/>
<circle cx="263.6" cy="880.8" r="7.4" fill="none" stroke="#f74141" stroke-width="2.1"/>
<circle cx="212.3" cy="969.1" r="7.4" fill="none" stroke="#f74141" stroke-width="2.1"/>
<circle cx="254.6" cy="900.2" r="7.4" fill="none" stroke="#f74141" stroke-width="2.1"/>
<circle cx="201.5" cy="927.4" r="7.4" fill="none" stroke="#f74141" stroke-width="2.1"/>
<circle cx="263.6" cy="950.3" r="7.4" fill="none" stroke="#f74141" stroke-width="2.1"/>
<circle cx="201.5" cy="983.5" r="7.4" fill="none" stroke="#f74141" stroke-width="2.1"/>
<circle cx="242.7" cy="886.6" r="7.4" fill="none" stroke="#f74141" stroke-width="2.1"/>
<circle cx="264.4" cy="943.3" r="7.4" fill="none" stroke="#f74141" stroke-width="2.1"/>
<circle cx="211.5" cy="977.3" r="7.4" fill="none" stroke="#f74141" stroke-width="2.1"/>
<circle cx="260.7" cy="955.8" r="7.4" fill="none" stroke="#f74141" stroke-width="2.1"/>
<circle cx="223.2" cy="863.9" r="7.4" fill="none" stroke="#f74141" stroke-width="2.1"/>
<circle cx="245.0" cy="955.3" r="7.4" fill="none" stroke="#f74141" stroke-width="2.1"/>
<circle cx="227.6" cy="911.2" r="7.4" fill="none" stroke="#f74141" stroke-width="2.1"/>
<circle cx="267.6" cy="934.5" r="7.4" fill="none" stroke="#f74141" stroke-width="2.1"/>
<circle cx="242.9" cy="980.5" r="7.4" fill="none" stroke="#f74141" stroke-width="2.1"/>
<circle cx="268.5" cy="962.9" r="7.4" fill="none" stroke="#f74141" stroke-width="2.1"/>
<circle cx="231.1" cy="964.1" r="7.4" fill="none" stroke="#f74141" stroke-width="2.1"/>
<circle cx="244.1" cy="928.2" r="7.4" fill="none" stroke="#f74141" stroke-width="2.1"/>
<circle cx="205.1" cy="869.5" r="7.4" fill="none" stroke="#f74141" stroke-width="2.1"/>
<circle cx="265.2" cy="1005.0" r="7.4" fill="none" stroke="#f74141" stroke-width="2.1"/>
<circle cx="256.1" cy="855.0" r="7.4" fill="none" stroke="#f74141" stroke-width="2.1"/>
<circle cx="268.5" cy="960.3" r="7.4" fill="none" stroke="#f74141" stroke-width="2.1"/>
<circle cx="249.8" cy="872.3" r="7.4" fill="none" stroke="#f74141" stroke-width="2.1"/>
<circle cx="268.5" cy="959.3" r="7.4" fill="none" stroke="#f74141" stroke-width="2.1"/>
<circle cx="201.5" cy="916.6" r="7.4" fill="none" stroke="#f74141" stroke-width="2.1"/>
<circle cx="268.5" cy="931.4" r="7.4" fill="none" stroke="#f74141" stroke-width="2.1"/>
<circle cx="204.0" cy="980.0" r="7.4" fill="none" stroke="#f74141" stroke-width="2.1"/>
<circle cx="264.2" cy="989.3" r="7.4" fill="none" stroke="#f74141" stroke-width="2.1"/>
<circle cx="254.1" cy="882.0" r="7.4" fill="none" stroke="#f74141" stroke-width="2.1"/>
<circle cx="260.0" cy="924.6" r="7.4" fill="none" stroke="#f74141" stroke-width="2.1"/>
<circle cx="260.6" cy="988.5" r="7.4" fill="none" stroke="#f74141" stroke-width="2.1"/>
<circle cx="254.9" cy="932.6" r="7.4" fill="none" stroke="#f74141" stroke-width="2.1"/>
<circle cx="201.5" cy="938.8" r="7.4" fill="none" stroke="#f74141" stroke-width="2.1"/>
<circle cx="251.3" cy="894.1" r="7.4" fill="none" stroke="#f74141" stroke-width="2.1"/>
<circle cx="268.5" cy="1005.0" r="7.4" fill="none" stroke="#f74141" stroke-width="2.1"/>
<circle cx="268.5" cy="967.1" r="7.4" fill="none" stroke="#f74141" stroke-width="2.1"/>
<circle cx="221.0" cy="917.7" r="7.4" fill="none" stroke="#f74141" stroke-width="2.1"/>
<circle cx="204.7" cy="918.7" r="7.4" fill="none" stroke="#f74141" stroke-width="2.1"/>
<circle cx="204.6" cy="905.5" r="7.4" fill="none" stroke="#f74141" stroke-width="2.1"/>
<circle cx="237.3" cy="921.8" r="7.4" fill="none" stroke="#f74141" stroke-width="2.1"/>
<circle cx="210.5" cy="945.6" r="7.4" fill="none" stroke="#f74141" stroke-width="2.1"/>
<circle cx="255.2" cy="922.6" r="7.4" fill="none" stroke="#f74141" stroke-width="2.1"/>
<circle cx="211.2" cy="895.5" r="7.4" fill="none" stroke="#f74141" stroke-width="2.1"/>
<circle cx="201.5" cy="915.3" r="7.4" fill="none" stroke="#f74141" stroke-width="2.1"/>
<circle cx="268.5" cy="889.6" r="7.4" fill="none" stroke="#f74141" stroke-width="2.1"/>
<circle cx="234.5" cy="910.6" r="7.4" fill="none" stroke="#f74141" stroke-width="2.1"/>
<circle cx="205.6" cy="943.8" r="7.4" fill="none" stroke="#f74141" stroke-width="2.1"/>
<circle cx="201.5" cy="955.6" r="7.4" fill="none" stroke="#f74141" stroke-width="2.1"/>
<circle cx="264.5" cy="951.2" r="7.4" fill="none" stroke="#f74141" stroke-width="2.1"/>
<circle cx="244.5" cy="881.2" r="7.4" fill="none" stroke="#f74141" stroke-width="2.1"/>
<circle cx="221.6" cy="984.4" r="7.4" fill="none" stroke="#f74141" stroke-width="2.1"/>
<circle cx="268.5" cy="856.0" r="7.4" fill="none" stroke="#f74141" stroke-width="2.1"/>
<circle cx="268.5" cy="921.8" r="7.4" fill="none" stroke="#f74141" stroke-width="2.1"/>
<circle cx="268.5" cy="915.4" r="7.4" fill="none" stroke="#f74141" stroke-width="2.1"/>
<circle cx="224.0" cy="959.3" r="7.4" fill="none" stroke="#f74141" stroke-width="2.1"/>
<circle cx="201.5" cy="896.6" r="7.4" fill="none" stroke="#f74141" stroke-width="2.1"/>
<circle cx="268.5" cy="921.5" r="7.4" fill="none" stroke="#f74141" stroke-width="2.1"/>
<circle cx="201.5" cy="911.8" r="7.4" fill="none" stroke="#f74141" stroke-width="2.1"/>
<circle cx="201.5" cy="966.9" r="7.4" fill="none" stroke="#f74141" stroke-width="2.1"/>
<circle cx="260.5" cy="933.9" r="7.4" fill="none" stroke="#f74141" stroke-width="2.1"/>
<circle cx="262.3" cy="958.9" r="7.4" fill="none" stroke="#f74141" stroke-width="2.1"/>
<circle cx="267.1" cy="966.4" r="7.4" fill="none" stroke="#f74141" stroke-width="2.1"/>
<circle cx="268.5" cy="890.1" r="7.4" fill="none" stroke="#f74141" stroke-width="2.1"/>
<circle cx="201.5" cy="885.3" r="7.4" fill="none" stroke="#f74141" stroke-width="2.1"/>
<circle cx="239.4" cy="953.1" r="7.4" fill="none" stroke="#f74141" stroke-width="2.1"/>
<circle cx="212.3" cy="960.1" r="7.4" fill="none" stroke="#f74141" stroke-width="2.1"/>
<circle cx="210.8" cy="861.4" r="7.4" fill="none" stroke="#f74141" stroke-width="2.1"/>
<circle cx="204.6" cy="969.3" r="7.4" fill="none" stroke="#f74141" stroke-width="2.1"/>
<circle cx="265.5" cy="938.8" r="7.4" fill="none" stroke="#f74141" stroke-width="2.1"/>
<circle cx="260.4" cy="961.7" r="7.4" fill="none" stroke="#f74141" stroke-width="2.1"/>
<circle cx="218.0" cy="1005.0" r="7.4" fill="none" stroke="#f74141" stroke-width="2.1"/>
<circle cx="201.5" cy="949.7" r="7.4" fill="none" stroke="#f74141" stroke-width="2.1"/>
<circle cx="208.2" cy="954.6" r="7.4" fill="none" stroke="#f74141" stroke-width="2.1"/>
<circle cx="215.2" cy="928.1" r="7.4" fill="none" stroke="#f74141" stroke-width="2.1"/>
<circle cx="220.4" cy="910.2" r="7.4" fill="none" stroke="#f74141" stroke-width="2.1"/>
<circle cx="266.1" cy="938.6" r="7.4" fill="none" stroke="#f74141" stroke-width="2.1"/>
<circle cx="201.5" cy="859.7" r="7.4" fill="none" stroke="#f74141" stroke-width="2.1"/>
<circle cx="208.1" cy="981.9" r="7.4" fill="none" stroke="#f74141" stroke-width="2.1"/>
<circle cx="257.0" cy="949.6" r="7.4" fill="none" stroke="#f74141" stroke-width="2.1"/>
<circle cx="230.7" cy="919.9" r="7.4" fill="none" stroke="#f74141" stroke-width="2.1"/>
<circle cx="224.8" cy="996.5" r="7.4" fill="none" stroke="#f74141" stroke-width="2.1"/>
<circle cx="256.8" cy="943.9" r="7.4" fill="none" stroke="#f74141" stroke-width="2.1"/>
<circle cx="268.5" cy="972.8" r="7.4" fill="none" stroke="#f74141" stroke-width="2.1"/>
<circle cx="201.5" cy="993.7" r="7.4" fill="none" stroke="#f74141" stroke-width="2.1"/>
<circle cx="244.1" cy="948.9" r="7.4" fill="none" stroke="#f74141" stroke-width="2.1"/>
<circle cx="268.5" cy="877.9" r="7.4" fill="none" stroke="#f74141" stroke-width="2.1"/>
<circle cx="227.9" cy="867.9" r="7.4" fill="none" stroke="#f74141" stroke-width="2.1"/>
<circle cx="201.5" cy="921.8" r="7.4" fill="none" stroke="#f74141" stroke-width="2.1"/>
<circle cx="213.0" cy="949.6" r="7.4" fill="none" stroke="#f74141" stroke-width="2.1"/>
<circle cx="201.5" cy="973.0" r="7.4" fill="none" stroke="#f74141" stroke-width="2.1"/>
<circle cx="252.0" cy="907.3" r="7.4" fill="none" stroke="#f74141" stroke-width="2.1"/>
<circle cx="211.9" cy="954.3" r="7.4" fill="none" stroke="#f74141" stroke-width="2.1"/>
<circle cx="212.9" cy="942.3" r="7.4" fill="none" stroke="#f74141" stroke-width="2.1"/>
<circle cx="232.5" cy="890.7" r="7.4" fill="none" stroke="#f74141" stroke-width="2.1"/>
<circle cx="221.7" cy="981.5" r="7.4" fill="none" stroke="#f74141" stroke-width="2.1"/>
<circle cx="212.0" cy="885.5" r="7.4" fill="none" stroke="#f74141" stroke-width="2.1"/>
<circle cx="236.5" cy="923.4" r="7.4" fill="none" stroke="#f74141" stroke-width="2.1"/>
<circle cx="201.5" cy="956.7" r="7.4" fill="none" stroke="#f74141" stroke-width="2.1"/>
<rect x="194.00" y="921.30" width="82.30" height="7.40" fill="#000" />
<circle cx="357.7" cy="728.5" r="7.4" fill="#f74141"/>
<circle cx="372.3" cy="800.1" r="7.4" fill="#f74141"/>
<circle cx="357.7" cy="810.0" r="7.4" fill="#f74141"/>
<circle cx="324.2" cy="818.2" r="7.4" fill="#f74141"/>
<circle cx="391.2" cy="817.3" r="7.4" fill="#f74141"/>
<circle cx="357.7" cy="829.8" r="7.4" fill="#f74141"/>
<circle cx="372.3" cy="840.0" r="7.4" fill="#f74141"/>
<circle cx="343.1" cy="849.6" r="7.4" fill="#f74141"/>
<circle cx="372.3" cy="858.4" r="7.4" fill="#f74141"/>
<circle cx="391.2" cy="864.2" r="7.4" fill="#f74141"/>
<circle cx="357.7" cy="872.0" r="7.4" fill="#f74141"/>
<circle cx="324.2" cy="1036.0" r="7.4" fill="#f74141"/>
<circle cx="346.0" cy="1025.0" r="7.4" fill="#f74141"/>
<circle cx="368.8" cy="1026.4" r="7.4" fill="#f74141"/>
<circle cx="391.2" cy="1025.0" r="7.4" fill="#f74141"/>
<circle cx="324.2" cy="876.0" r="7.4" fill="#f74141"/>
<circle cx="344.0" cy="878.0" r="7.4" fill="#f74141"/>
<circle cx="391.0" cy="882.0" r="7.4" fill="#f74141"/>
<circle cx="324.2" cy="895.0" r="7.4" fill="#f74141"/>
<circle cx="391.0" cy="900.0" r="7.4" fill="#f74141"/>
<circle cx="337.3" cy="903.7" r="7.4" fill="#f74141"/>
<circle cx="344.4" cy="923.7" r="7.4" fill="#f74141"/>
<circle cx="331.5" cy="1007.9" r="7.4" fill="#f74141"/>
<circle cx="383.5" cy="946.6" r="7.4" fill="#f74141"/>
<circle cx="381.4" cy="942.8" r="7.4" fill="#f74141"/>
<circle cx="389.9" cy="923.6" r="7.4" fill="#f74141"/>
<circle cx="341.4" cy="984.1" r="7.4" fill="#f74141"/>
<circle cx="340.4" cy="999.8" r="7.4" fill="#f74141"/>
<circle cx="363.6" cy="971.7" r="7.4" fill="#f74141"/>
<circle cx="324.2" cy="976.1" r="7.4" fill="#f74141"/>
<circle cx="354.6" cy="925.9" r="7.4" fill="#f74141"/>
<circle cx="330.8" cy="940.5" r="7.4" fill="#f74141"/>
<circle cx="324.2" cy="917.3" r="7.4" fill="#f74141"/>
<circle cx="354.7" cy="968.2" r="7.4" fill="#f74141"/>
<circle cx="369.4" cy="1010.4" r="7.4" fill="#f74141"/>
<circle cx="368.1" cy="989.6" r="7.4" fill="#f74141"/>
<circle cx="357.0" cy="1016.5" r="7.4" fill="#f74141"/>
<circle cx="360.6" cy="905.0" r="7.4" fill="#f74141"/>
<circle cx="324.2" cy="954.1" r="7.4" fill="#f74141"/>
<circle cx="362.7" cy="957.1" r="7.4" fill="#f74141"/>
<circle cx="358.5" cy="970.6" r="7.4" fill="#f74141"/>
<circle cx="391.2" cy="939.2" r="7.4" fill="#f74141"/>
<circle cx="324.2" cy="1018.7" r="7.4" fill="#f74141"/>
<circle cx="358.6" cy="1010.8" r="7.4" fill="#f74141"/>
<circle cx="365.3" cy="970.3" r="7.4" fill="#f74141"/>
<circle cx="349.8" cy="891.4" r="7.4" fill="#f74141"/>
<circle cx="385.5" cy="969.1" r="7.4" fill="#f74141"/>
<circle cx="363.1" cy="898.0" r="7.4" fill="#f74141"/>
<circle cx="351.0" cy="1013.6" r="7.4" fill="#f74141"/>
<circle cx="391.2" cy="946.3" r="7.4" fill="#f74141"/>
<circle cx="386.5" cy="892.4" r="7.4" fill="#f74141"/>
<circle cx="324.2" cy="947.3" r="7.4" fill="#f74141"/>
<circle cx="339.3" cy="1015.0" r="7.4" fill="#f74141"/>
<circle cx="367.0" cy="995.2" r="7.4" fill="#f74141"/>
<circle cx="391.2" cy="1019.5" r="7.4" fill="#f74141"/>
<circle cx="367.7" cy="989.8" r="7.4" fill="#f74141"/>
<circle cx="376.7" cy="914.6" r="7.4" fill="#f74141"/>
<circle cx="370.3" cy="1017.7" r="7.4" fill="#f74141"/>
<circle cx="356.5" cy="993.3" r="7.4" fill="#f74141"/>
<circle cx="391.2" cy="916.6" r="7.4" fill="#f74141"/>
<circle cx="356.3" cy="941.7" r="7.4" fill="#f74141"/>
<circle cx="368.4" cy="932.7" r="7.4" fill="#f74141"/>
<circle cx="391.2" cy="890.8" r="7.4" fill="#f74141"/>
<circle cx="391.2" cy="990.4" r="7.4" fill="#f74141"/>
<circle cx="379.9" cy="969.7" r="7.4" fill="#f74141"/>
<circle cx="325.0" cy="1013.4" r="7.4" fill="#f74141"/>
<circle cx="341.0" cy="896.9" r="7.4" fill="#f74141"/>
<circle cx="339.9" cy="989.4" r="7.4" fill="#f74141"/>
<circle cx="334.4" cy="1006.9" r="7.4" fill="#f74141"/>
<circle cx="324.2" cy="966.5" r="7.4" fill="#f74141"/>
<circle cx="389.7" cy="895.4" r="7.4" fill="#f74141"/>
<circle cx="391.2" cy="910.0" r="7.4" fill="#f74141"/>
<circle cx="359.8" cy="984.6" r="7.4" fill="#f74141"/>
<circle cx="383.3" cy="959.0" r="7.4" fill="#f74141"/>
<circle cx="339.9" cy="902.1" r="7.4" fill="#f74141"/>
<circle cx="328.1" cy="947.0" r="7.4" fill="#f74141"/>
<circle cx="357.1" cy="951.3" r="7.4" fill="#f74141"/>
<circle cx="382.0" cy="883.9" r="7.4" fill="#f74141"/>
<circle cx="391.2" cy="978.3" r="7.4" fill="#f74141"/>
<circle cx="344.1" cy="946.8" r="7.4" fill="#f74141"/>
<circle cx="391.2" cy="975.6" r="7.4" fill="#f74141"/>
<circle cx="348.3" cy="971.6" r="7.4" fill="#f74141"/>
<circle cx="327.3" cy="983.9" r="7.4" fill="#f74141"/>
<circle cx="324.2" cy="953.0" r="7.4" fill="#f74141"/>
<circle cx="384.3" cy="887.6" r="7.4" fill="#f74141"/>
<circle cx="366.1" cy="929.4" r="7.4" fill="#f74141"/>
<circle cx="391.2" cy="929.8" r="7.4" fill="#f74141"/>
<circle cx="361.3" cy="1008.0" r="7.4" fill="#f74141"/>
<circle cx="347.1" cy="917.5" r="7.4" fill="#f74141"/>
<circle cx="343.6" cy="931.7" r="7.4" fill="#f74141"/>
<circle cx="346.6" cy="1017.8" r="7.4" fill="#f74141"/>
<circle cx="391.2" cy="1016.6" r="7.4" fill="#f74141"/>
<circle cx="377.3" cy="928.3" r="7.4" fill="#f74141"/>
<circle cx="344.2" cy="963.3" r="7.4" fill="#f74141"/>
<circle cx="376.7" cy="888.5" r="7.4" fill="#f74141"/>
<circle cx="383.5" cy="957.7" r="7.4" fill="#f74141"/>
<circle cx="344.3" cy="883.9" r="7.4" fill="#f74141"/>
<circle cx="385.9" cy="966.4" r="7.4" fill="#f74141"/>
<circle cx="377.1" cy="1007.6" r="7.4" fill="#f74141"/>
<circle cx="365.5" cy="968.9" r="7.4" fill="#f74141"/>
<circle cx="364.2" cy="976.3" r="7.4" fill="#f74141"/>
<circle cx="368.9" cy="945.7" r="7.4" fill="#f74141"/>
<circle cx="331.0" cy="907.8" r="7.4" fill="#f74141"/>
<circle cx="376.1" cy="1008.2" r="7.4" fill="#f74141"/>
<circle cx="348.9" cy="995.7" r="7.4" fill="#f74141"/>
<circle cx="391.2" cy="1001.2" r="7.4" fill="#f74141"/>
<circle cx="326.5" cy="885.8" r="7.4" fill="#f74141"/>
<circle cx="362.9" cy="1008.2" r="7.4" fill="#f74141"/>
<circle cx="359.2" cy="996.0" r="7.4" fill="#f74141"/>
<circle cx="352.4" cy="978.3" r="7.4" fill="#f74141"/>
<circle cx="328.7" cy="976.2" r="7.4" fill="#f74141"/>
<circle cx="390.7" cy="973.3" r="7.4" fill="#f74141"/>
<circle cx="375.8" cy="958.2" r="7.4" fill="#f74141"/>
<circle cx="355.8" cy="1005.7" r="7.4" fill="#f74141"/>
<circle cx="352.8" cy="884.3" r="7.4" fill="#f74141"/>
<circle cx="390.3" cy="1000.6" r="7.4" fill="#f74141"/>
<circle cx="332.3" cy="947.7" r="7.4" fill="#f74141"/>
<circle cx="362.3" cy="944.8" r="7.4" fill="#f74141"/>
<circle cx="386.0" cy="933.1" r="7.4" fill="#f74141"/>
<circle cx="370.8" cy="902.8" r="7.4" fill="#f74141"/>
<circle cx="343.8" cy="959.4" r="7.4" fill="#f74141"/>
<circle cx="369.1" cy="1004.9" r="7.4" fill="#f74141"/>
<circle cx="324.2" cy="981.3" r="7.4" fill="#f74141"/>
<circle cx="325.2" cy="972.1" r="7.4" fill="#f74141"/>
<circle cx="324.2" cy="936.3" r="7.4" fill="#f74141"/>
<circle cx="364.4" cy="1014.2" r="7.4" fill="#f74141"/>
<circle cx="324.2" cy="926.3" r="7.4" fill="#f74141"/>
<circle cx="391.2" cy="947.4" r="7.4" fill="#f74141"/>
<circle cx="388.9" cy="899.0" r="7.4" fill="#f74141"/>
<circle cx="324.2" cy="969.3" r="7.4" fill="#f74141"/>
<circle cx="350.0" cy="990.7" r="7.4" fill="#f74141"/>
<circle cx="391.2" cy="923.1" r="7.4" fill="#f74141"/>
<circle cx="389.5" cy="979.3" r="7.4" fill="#f74141"/>
<circle cx="391.2" cy="1002.1" r="7.4" fill="#f74141"/>
<circle cx="325.2" cy="903.7" r="7.4" fill="#f74141"/>
<circle cx="391.2" cy="1016.8" r="7.4" fill="#f74141"/>
<circle cx="350.2" cy="934.5" r="7.4" fill="#f74141"/>
<circle cx="339.9" cy="944.8" r="7.4" fill="#f74141"/>
<circle cx="345.7" cy="919.7" r="7.4" fill="#f74141"/>
<circle cx="385.9" cy="987.6" r="7.4" fill="#f74141"/>
<circle cx="391.2" cy="997.2" r="7.4" fill="#f74141"/>
<circle cx="324.2" cy="920.5" r="7.4" fill="#f74141"/>
<circle cx="391.2" cy="930.5" r="7.4" fill="#f74141"/>
<circle cx="361.3" cy="992.2" r="7.4" fill="#f74141"/>
<circle cx="374.5" cy="1010.6" r="7.4" fill="#f74141"/>
<circle cx="364.9" cy="975.8" r="7.4" fill="#f74141"/>
<circle cx="338.0" cy="917.9" r="7.4" fill="#f74141"/>
<circle cx="377.2" cy="946.0" r="7.4" fill="#f74141"/>
<circle cx="378.2" cy="988.8" r="7.4" fill="#f74141"/>
<circle cx="363.0" cy="1005.9" r="7.4" fill="#f74141"/>
<circle cx="391.2" cy="948.3" r="7.4" fill="#f74141"/>
<circle cx="336.9" cy="909.3" r="7.4" fill="#f74141"/>
<circle cx="371.2" cy="932.7" r="7.4" fill="#f74141"/>
<circle cx="351.2" cy="953.9" r="7.4" fill="#f74141"/>
<circle cx="327.2" cy="1019.6" r="7.4" fill="#f74141"/>
<circle cx="331.3" cy="969.7" r="7.4" fill="#f74141"/>
<circle cx="324.2" cy="926.3" r="7.4" fill="#f74141"/>
<circle cx="343.0" cy="966.2" r="7.4" fill="#f74141"/>
<circle cx="337.9" cy="1002.3" r="7.4" fill="#f74141"/>
<circle cx="363.5" cy="912.3" r="7.4" fill="#f74141"/>
<circle cx="391.2" cy="941.4" r="7.4" fill="#f74141"/>
<circle cx="324.2" cy="917.8" r="7.4" fill="#f74141"/>
<circle cx="337.7" cy="907.8" r="7.4" fill="#f74141"/>
<circle cx="327.6" cy="959.4" r="7.4" fill="#f74141"/>
<circle cx="391.2" cy="949.7" r="7.4" fill="#f74141"/>
<circle cx="324.2" cy="1001.2" r="7.4" fill="#f74141"/>
<circle cx="386.0" cy="979.8" r="7.4" fill="#f74141"/>
<circle cx="345.6" cy="914.9" r="7.4" fill="#f74141"/>
<circle cx="385.9" cy="952.4" r="7.4" fill="#f74141"/>
<circle cx="381.1" cy="933.8" r="7.4" fill="#f74141"/>
<circle cx="372.5" cy="906.6" r="7.4" fill="#f74141"/>
<circle cx="391.2" cy="891.1" r="7.4" fill="#f74141"/>
<circle cx="326.1" cy="1008.9" r="7.4" fill="#f74141"/>
<circle cx="358.6" cy="984.3" r="7.4" fill="#f74141"/>
<circle cx="356.6" cy="896.8" r="7.4" fill="#f74141"/>
<circle cx="324.6" cy="910.3" r="7.4" fill="#f74141"/>
<circle cx="363.7" cy="943.5" r="7.4" fill="#f74141"/>
<circle cx="355.7" cy="933.9" r="7.4" fill="#f74141"/>
<circle cx="349.3" cy="935.0" r="7.4" fill="#f74141"/>
<circle cx="378.3" cy="1008.3" r="7.4" fill="#f74141"/>
<circle cx="391.2" cy="981.3" r="7.4" fill="#f74141"/>
<circle cx="326.6" cy="1010.1" r="7.4" fill="#f74141"/>
<circle cx="386.8" cy="1001.7" r="7.4" fill="#f74141"/>
<circle cx="324.2" cy="989.6" r="7.4" fill="#f74141"/>
<circle cx="391.2" cy="998.4" r="7.4" fill="#f74141"/>
<circle cx="354.5" cy="929.5" r="7.4" fill="#f74141"/>
<circle cx="391.2" cy="898.8" r="7.4" fill="#f74141"/>
<circle cx="346.4" cy="983.8" r="7.4" fill="#f74141"/>
<circle cx="354.4" cy="1004.8" r="7.4" fill="#f74141"/>
<circle cx="334.2" cy="940.3" r="7.4" fill="#f74141"/>
<circle cx="325.9" cy="961.2" r="7.4" fill="#f74141"/>
<circle cx="378.1" cy="918.7" r="7.4" fill="#f74141"/>
<circle cx="354.8" cy="949.1" r="7.4" fill="#f74141"/>
<circle cx="358.6" cy="969.4" r="7.4" fill="#f74141"/>
<circle cx="324.2" cy="959.7" r="7.4" fill="#f74141"/>
<circle cx="324.2" cy="918.3" r="7.4" fill="#f74141"/>
<circle cx="348.6" cy="1018.8" r="7.4" fill="#f74141"/>
<circle cx="324.2" cy="896.4" r="7.4" fill="#f74141"/>
<circle cx="384.2" cy="890.9" r="7.4" fill="#f74141"/>
<circle cx="343.9" cy="1017.1" r="7.4" fill="#f74141"/>
<circle cx="378.3" cy="929.7" r="7.4" fill="#f74141"/>
<circle cx="324.3" cy="997.0" r="7.4" fill="#f74141"/>
<circle cx="336.6" cy="942.6" r="7.4" fill="#f74141"/>
<circle cx="324.2" cy="920.9" r="7.4" fill="#f74141"/>
<circle cx="380.7" cy="954.5" r="7.4" fill="#f74141"/>
<circle cx="336.0" cy="965.3" r="7.4" fill="#f74141"/>
<circle cx="391.2" cy="987.3" r="7.4" fill="#f74141"/>
<circle cx="333.4" cy="974.8" r="7.4" fill="#f74141"/>
<circle cx="337.1" cy="925.2" r="7.4" fill="#f74141"/>
<circle cx="370.6" cy="954.2" r="7.4" fill="#f74141"/>
<circle cx="324.2" cy="954.0" r="7.4" fill="#f74141"/>
<circle cx="343.1" cy="970.6" r="7.4" fill="#f74141"/>
<circle cx="324.2" cy="885.1" r="7.4" fill="#f74141"/>
<circle cx="391.2" cy="901.3" r="7.4" fill="#f74141"/>
<circle cx="340.8" cy="960.1" r="7.4" fill="#f74141"/>
<circle cx="324.2" cy="905.4" r="7.4" fill="#f74141"/>
<circle cx="364.1" cy="883.6" r="7.4" fill="#f74141"/>
<circle cx="354.1" cy="953.6" r="7.4" fill="#f74141"/>
<circle cx="372.1" cy="994.9" r="7.4" fill="#f74141"/>
<circle cx="391.2" cy="989.7" r="7.4" fill="#f74141"/>
<circle cx="324.2" cy="922.9" r="7.4" fill="#f74141"/>
<circle cx="373.2" cy="944.2" r="7.4" fill="#f74141"/>
<circle cx="378.1" cy="901.4" r="7.4" fill="#f74141"/>
<circle cx="330.1" cy="967.8" r="7.4" fill="#f74141"/>
<circle cx="345.1" cy="959.1" r="7.4" fill="#f74141"/>
<circle cx="324.2" cy="896.2" r="7.4" fill="#f74141"/>
<circle cx="337.3" cy="885.4" r="7.4" fill="#f74141"/>
<circle cx="362.8" cy="954.6" r="7.4" fill="#f74141"/>
<circle cx="331.1" cy="1002.1" r="7.4" fill="#f74141"/>
<circle cx="327.2" cy="899.9" r="7.4" fill="#f74141"/>
<circle cx="357.8" cy="921.3" r="7.4" fill="#f74141"/>
<circle cx="351.4" cy="901.8" r="7.4" fill="#f74141"/>
<circle cx="381.9" cy="903.2" r="7.4" fill="#f74141"/>
<circle cx="374.2" cy="905.5" r="7.4" fill="#f74141"/>
<circle cx="391.2" cy="978.1" r="7.4" fill="#f74141"/>
<circle cx="364.6" cy="888.0" r="7.4" fill="#f74141"/>
<circle cx="324.2" cy="989.4" r="7.4" fill="#f74141"/>
<circle cx="340.3" cy="928.9" r="7.4" fill="#f74141"/>
<circle cx="389.9" cy="993.2" r="7.4" fill="#f74141"/>
<circle cx="391.2" cy="999.1" r="7.4" fill="#f74141"/>
<circle cx="358.9" cy="1014.2" r="7.4" fill="#f74141"/>
<circle cx="324.2" cy="1002.3" r="7.4" fill="#f74141"/>
<circle cx="325.0" cy="897.9" r="7.4" fill="#f74141"/>
<circle cx="345.9" cy="910.5" r="7.4" fill="#f74141"/>
<circle cx="339.3" cy="940.6" r="7.4" fill="#f74141"/>
<circle cx="391.0" cy="945.2" r="7.4" fill="#f74141"/>
<circle cx="389.9" cy="1016.3" r="7.4" fill="#f74141"/>
<circle cx="382.2" cy="968.1" r="7.4" fill="#f74141"/>
<circle cx="391.2" cy="969.1" r="7.4" fill="#f74141"/>
<circle cx="324.2" cy="968.1" r="7.4" fill="#f74141"/>
<circle cx="359.1" cy="942.4" r="7.4" fill="#f74141"/>
<circle cx="391.2" cy="898.5" r="7.4" fill="#f74141"/>
<circle cx="335.4" cy="891.3" r="7.4" fill="#f74141"/>
<circle cx="391.2" cy="894.6" r="7.4" fill="#f74141"/>
<circle cx="386.6" cy="943.3" r="7.4" fill="#f74141"/>
<circle cx="383.5" cy="1008.4" r="7.4" fill="#f74141"/>
<circle cx="342.6" cy="983.8" r="7.4" fill="#f74141"/>
<circle cx="343.4" cy="945.2" r="7.4" fill="#f74141"/>
<circle cx="339.0" cy="936.0" r="7.4" fill="#f74141"/>
<circle cx="348.8" cy="1005.2" r="7.4" fill="#f74141"/>
<circle cx="356.2" cy="995.2" r="7.4" fill="#f74141"/>
<circle cx="346.6" cy="908.9" r="7.4" fill="#f74141"/>
<circle cx="389.2" cy="937.3" r="7.4" fill="#f74141"/>
<circle cx="324.2" cy="1001.1" r="7.4" fill="#f74141"/>
<circle cx="361.5" cy="950.3" r="7.4" fill="#f74141"/>
<circle cx="390.4" cy="923.5" r="7.4" fill="#f74141"/>
<circle cx="334.8" cy="892.2" r="7.4" fill="#f74141"/>
<circle cx="391.2" cy="973.1" r="7.4" fill="#f74141"/>
<circle cx="380.1" cy="931.5" r="7.4" fill="#f74141"/>
<circle cx="359.1" cy="1018.5" r="7.4" fill="#f74141"/>
<rect x="316.90" y="962.60" width="82.10" height="7.40" fill="#000" />
<rect x="473.6" y="777.6" width="14.3" height="14.3" fill="none" stroke="#a00000" stroke-width="2.0"/>
<rect x="473.6" y="814.8" width="14.3" height="14.3" fill="none" stroke="#a00000" stroke-width="2.0"/>
<rect x="488.5" y="817.1" width="14.3" height="14.3" fill="none" stroke="#a00000" stroke-width="2.0"/>
<rect x="459.0" y="829.0" width="14.3" height="14.3" fill="none" stroke="#a00000" stroke-width="2.0"/>
<rect x="440.1" y="845.0" width="14.3" height="14.3" fill="none" stroke="#a00000" stroke-width="2.0"/>
<rect x="473.6" y="846.1" width="14.3" height="14.3" fill="none" stroke="#a00000" stroke-width="2.0"/>
<rect x="507.4" y="848.6" width="14.3" height="14.3" fill="none" stroke="#a00000" stroke-width="2.0"/>
<rect x="493.2" y="957.9" width="14.3" height="14.3" fill="none" stroke="#a00000" stroke-width="2.0"/>
<rect x="459.0" y="973.8" width="14.3" height="14.3" fill="none" stroke="#a00000" stroke-width="2.0"/>
<rect x="473.6" y="979.1" width="14.3" height="14.3" fill="none" stroke="#a00000" stroke-width="2.0"/>
<rect x="488.5" y="974.9" width="14.3" height="14.3" fill="none" stroke="#a00000" stroke-width="2.0"/>
<rect x="440.1" y="985.1" width="14.3" height="14.3" fill="none" stroke="#a00000" stroke-width="2.0"/>
<rect x="507.4" y="987.9" width="14.3" height="14.3" fill="none" stroke="#a00000" stroke-width="2.0"/>
<rect x="488.5" y="992.1" width="14.3" height="14.3" fill="none" stroke="#a00000" stroke-width="2.0"/>
<rect x="459.0" y="1005.1" width="14.3" height="14.3" fill="none" stroke="#a00000" stroke-width="2.0"/>
<rect x="440.1" y="954.9" width="14.3" height="14.3" fill="none" stroke="#a00000" stroke-width="2.0"/>
<rect x="507.4" y="950.9" width="14.3" height="14.3" fill="none" stroke="#a00000" stroke-width="2.0"/>
<rect x="440.1" y="862.9" width="14.3" height="14.3" fill="none" stroke="#a00000" stroke-width="2.0"/>
<rect x="507.4" y="864.9" width="14.3" height="14.3" fill="none" stroke="#a00000" stroke-width="2.0"/>
<rect x="502.6" y="891.9" width="14.3" height="14.3" fill="none" stroke="#a00000" stroke-width="2.0"/>
<rect x="481.0" y="887.3" width="14.3" height="14.3" fill="none" stroke="#a00000" stroke-width="2.0"/>
<rect x="440.1" y="927.7" width="14.3" height="14.3" fill="none" stroke="#a00000" stroke-width="2.0"/>
<rect x="471.9" y="924.6" width="14.3" height="14.3" fill="none" stroke="#a00000" stroke-width="2.0"/>
<rect x="440.1" y="915.9" width="14.3" height="14.3" fill="none" stroke="#a00000" stroke-width="2.0"/>
<rect x="447.9" y="911.5" width="14.3" height="14.3" fill="none" stroke="#a00000" stroke-width="2.0"/>
<rect x="440.1" y="907.2" width="14.3" height="14.3" fill="none" stroke="#a00000" stroke-width="2.0"/>
<rect x="465.5" y="860.9" width="14.3" height="14.3" fill="none" stroke="#a00000" stroke-width="2.0"/>
<rect x="488.5" y="876.2" width="14.3" height="14.3" fill="none" stroke="#a00000" stroke-width="2.0"/>
<rect x="461.6" y="937.3" width="14.3" height="14.3" fill="none" stroke="#a00000" stroke-width="2.0"/>
<rect x="469.8" y="915.6" width="14.3" height="14.3" fill="none" stroke="#a00000" stroke-width="2.0"/>
<rect x="449.8" y="913.2" width="14.3" height="14.3" fill="none" stroke="#a00000" stroke-width="2.0"/>
<rect x="501.7" y="921.1" width="14.3" height="14.3" fill="none" stroke="#a00000" stroke-width="2.0"/>
<rect x="440.1" y="941.1" width="14.3" height="14.3" fill="none" stroke="#a00000" stroke-width="2.0"/>
<rect x="440.1" y="862.9" width="14.3" height="14.3" fill="none" stroke="#a00000" stroke-width="2.0"/>
<rect x="473.4" y="930.5" width="14.3" height="14.3" fill="none" stroke="#a00000" stroke-width="2.0"/>
<rect x="506.9" y="907.4" width="14.3" height="14.3" fill="none" stroke="#a00000" stroke-width="2.0"/>
<rect x="466.1" y="880.9" width="14.3" height="14.3" fill="none" stroke="#a00000" stroke-width="2.0"/>
<rect x="440.1" y="869.8" width="14.3" height="14.3" fill="none" stroke="#a00000" stroke-width="2.0"/>
<rect x="466.9" y="912.5" width="14.3" height="14.3" fill="none" stroke="#a00000" stroke-width="2.0"/>
<rect x="507.1" y="886.4" width="14.3" height="14.3" fill="none" stroke="#a00000" stroke-width="2.0"/>
<rect x="481.9" y="891.7" width="14.3" height="14.3" fill="none" stroke="#a00000" stroke-width="2.0"/>
<rect x="494.7" y="872.6" width="14.3" height="14.3" fill="none" stroke="#a00000" stroke-width="2.0"/>
<rect x="440.1" y="950.9" width="14.3" height="14.3" fill="none" stroke="#a00000" stroke-width="2.0"/>
<rect x="507.1" y="950.0" width="14.3" height="14.3" fill="none" stroke="#a00000" stroke-width="2.0"/>
<rect x="507.1" y="908.0" width="14.3" height="14.3" fill="none" stroke="#a00000" stroke-width="2.0"/>
<rect x="440.1" y="877.8" width="14.3" height="14.3" fill="none" stroke="#a00000" stroke-width="2.0"/>
<rect x="482.3" y="892.6" width="14.3" height="14.3" fill="none" stroke="#a00000" stroke-width="2.0"/>
<rect x="440.1" y="861.8" width="14.3" height="14.3" fill="none" stroke="#a00000" stroke-width="2.0"/>
<rect x="487.7" y="943.4" width="14.3" height="14.3" fill="none" stroke="#a00000" stroke-width="2.0"/>
<rect x="446.6" y="911.3" width="14.3" height="14.3" fill="none" stroke="#a00000" stroke-width="2.0"/>
<rect x="478.0" y="941.5" width="14.3" height="14.3" fill="none" stroke="#a00000" stroke-width="2.0"/>
<rect x="449.7" y="900.4" width="14.3" height="14.3" fill="none" stroke="#a00000" stroke-width="2.0"/>
<rect x="449.8" y="906.7" width="14.3" height="14.3" fill="none" stroke="#a00000" stroke-width="2.0"/>
<rect x="445.2" y="905.0" width="14.3" height="14.3" fill="none" stroke="#a00000" stroke-width="2.0"/>
<rect x="468.9" y="919.4" width="14.3" height="14.3" fill="none" stroke="#a00000" stroke-width="2.0"/>
<rect x="478.8" y="899.2" width="14.3" height="14.3" fill="none" stroke="#a00000" stroke-width="2.0"/>
<rect x="482.2" y="946.1" width="14.3" height="14.3" fill="none" stroke="#a00000" stroke-width="2.0"/>
<rect x="452.9" y="862.6" width="14.3" height="14.3" fill="none" stroke="#a00000" stroke-width="2.0"/>
<rect x="466.6" y="864.8" width="14.3" height="14.3" fill="none" stroke="#a00000" stroke-width="2.0"/>
<rect x="456.0" y="915.5" width="14.3" height="14.3" fill="none" stroke="#a00000" stroke-width="2.0"/>
<rect x="479.4" y="942.0" width="14.3" height="14.3" fill="none" stroke="#a00000" stroke-width="2.0"/>
<rect x="468.1" y="899.6" width="14.3" height="14.3" fill="none" stroke="#a00000" stroke-width="2.0"/>
<rect x="440.1" y="870.9" width="14.3" height="14.3" fill="none" stroke="#a00000" stroke-width="2.0"/>
<rect x="460.8" y="904.4" width="14.3" height="14.3" fill="none" stroke="#a00000" stroke-width="2.0"/>
<rect x="440.1" y="920.2" width="14.3" height="14.3" fill="none" stroke="#a00000" stroke-width="2.0"/>
<rect x="465.4" y="914.2" width="14.3" height="14.3" fill="none" stroke="#a00000" stroke-width="2.0"/>
<rect x="462.5" y="891.1" width="14.3" height="14.3" fill="none" stroke="#a00000" stroke-width="2.0"/>
<rect x="504.5" y="883.0" width="14.3" height="14.3" fill="none" stroke="#a00000" stroke-width="2.0"/>
<rect x="440.1" y="878.1" width="14.3" height="14.3" fill="none" stroke="#a00000" stroke-width="2.0"/>
<rect x="458.8" y="902.0" width="14.3" height="14.3" fill="none" stroke="#a00000" stroke-width="2.0"/>
<rect x="440.1" y="869.2" width="14.3" height="14.3" fill="none" stroke="#a00000" stroke-width="2.0"/>
<rect x="496.0" y="860.9" width="14.3" height="14.3" fill="none" stroke="#a00000" stroke-width="2.0"/>
<rect x="440.1" y="912.4" width="14.3" height="14.3" fill="none" stroke="#a00000" stroke-width="2.0"/>
<rect x="467.2" y="913.1" width="14.3" height="14.3" fill="none" stroke="#a00000" stroke-width="2.0"/>
<rect x="471.9" y="918.6" width="14.3" height="14.3" fill="none" stroke="#a00000" stroke-width="2.0"/>
<rect x="507.1" y="900.5" width="14.3" height="14.3" fill="none" stroke="#a00000" stroke-width="2.0"/>
<rect x="440.1" y="872.2" width="14.3" height="14.3" fill="none" stroke="#a00000" stroke-width="2.0"/>
<rect x="448.5" y="921.9" width="14.3" height="14.3" fill="none" stroke="#a00000" stroke-width="2.0"/>
<rect x="497.1" y="929.7" width="14.3" height="14.3" fill="none" stroke="#a00000" stroke-width="2.0"/>
<rect x="488.2" y="932.3" width="14.3" height="14.3" fill="none" stroke="#a00000" stroke-width="2.0"/>
<rect x="492.1" y="901.1" width="14.3" height="14.3" fill="none" stroke="#a00000" stroke-width="2.0"/>
<rect x="499.8" y="932.0" width="14.3" height="14.3" fill="none" stroke="#a00000" stroke-width="2.0"/>
<rect x="453.0" y="868.8" width="14.3" height="14.3" fill="none" stroke="#a00000" stroke-width="2.0"/>
<rect x="494.8" y="877.3" width="14.3" height="14.3" fill="none" stroke="#a00000" stroke-width="2.0"/>
<rect x="496.6" y="876.4" width="14.3" height="14.3" fill="none" stroke="#a00000" stroke-width="2.0"/>
<rect x="507.1" y="875.5" width="14.3" height="14.3" fill="none" stroke="#a00000" stroke-width="2.0"/>
<rect x="493.6" y="941.6" width="14.3" height="14.3" fill="none" stroke="#a00000" stroke-width="2.0"/>
<rect x="487.2" y="920.1" width="14.3" height="14.3" fill="none" stroke="#a00000" stroke-width="2.0"/>
<rect x="440.1" y="897.8" width="14.3" height="14.3" fill="none" stroke="#a00000" stroke-width="2.0"/>
<rect x="501.2" y="925.0" width="14.3" height="14.3" fill="none" stroke="#a00000" stroke-width="2.0"/>
<rect x="442.7" y="903.8" width="14.3" height="14.3" fill="none" stroke="#a00000" stroke-width="2.0"/>
<rect x="442.7" y="915.6" width="14.3" height="14.3" fill="none" stroke="#a00000" stroke-width="2.0"/>
<rect x="452.1" y="912.2" width="14.3" height="14.3" fill="none" stroke="#a00000" stroke-width="2.0"/>
<rect x="457.1" y="889.7" width="14.3" height="14.3" fill="none" stroke="#a00000" stroke-width="2.0"/>
<rect x="495.9" y="886.6" width="14.3" height="14.3" fill="none" stroke="#a00000" stroke-width="2.0"/>
<rect x="497.3" y="865.1" width="14.3" height="14.3" fill="none" stroke="#a00000" stroke-width="2.0"/>
<rect x="447.5" y="879.8" width="14.3" height="14.3" fill="none" stroke="#a00000" stroke-width="2.0"/>
<rect x="440.1" y="879.2" width="14.3" height="14.3" fill="none" stroke="#a00000" stroke-width="2.0"/>
<rect x="506.9" y="880.7" width="14.3" height="14.3" fill="none" stroke="#a00000" stroke-width="2.0"/>
<rect x="439.10" y="902.80" width="83.30" height="7.40" fill="#000" />
<rect x="596.0" y="654.2" width="15" height="15" fill="#a00000"/>
<rect x="596.3" y="809.2" width="15" height="15" fill="#a00000"/>
<rect x="581.4" y="830.5" width="15" height="15" fill="#a00000"/>
<rect x="610.9" y="838.0" width="15" height="15" fill="#a00000"/>
<rect x="629.8" y="1043.1" width="15" height="15" fill="#a00000"/>
<rect x="563.0" y="1036.5" width="15" height="15" fill="#a00000"/>
<rect x="582.5" y="1034.5" width="15" height="15" fill="#a00000"/>
<rect x="612.5" y="1035.5" width="15" height="15" fill="#a00000"/>
<rect x="586.1" y="1023.1" width="15" height="15" fill="#a00000"/>
<rect x="585.5" y="939.6" width="15" height="15" fill="#a00000"/>
<rect x="618.9" y="962.6" width="15" height="15" fill="#a00000"/>
<rect x="608.0" y="884.0" width="15" height="15" fill="#a00000"/>
<rect x="619.4" y="991.0" width="15" height="15" fill="#a00000"/>
<rect x="575.4" y="1023.6" width="15" height="15" fill="#a00000"/>
<rect x="629.7" y="878.1" width="15" height="15" fill="#a00000"/>
<rect x="615.0" y="889.6" width="15" height="15" fill="#a00000"/>
<rect x="627.3" y="876.9" width="15" height="15" fill="#a00000"/>
<rect x="568.9" y="964.5" width="15" height="15" fill="#a00000"/>
<rect x="608.7" y="936.5" width="15" height="15" fill="#a00000"/>
<rect x="610.0" y="846.6" width="15" height="15" fill="#a00000"/>
<rect x="571.6" y="965.4" width="15" height="15" fill="#a00000"/>
<rect x="571.6" y="977.8" width="15" height="15" fill="#a00000"/>
<rect x="578.8" y="963.2" width="15" height="15" fill="#a00000"/>
<rect x="591.2" y="1021.5" width="15" height="15" fill="#a00000"/>
<rect x="573.1" y="1028.6" width="15" height="15" fill="#a00000"/>
<rect x="629.7" y="1000.9" width="15" height="15" fill="#a00000"/>
<rect x="582.1" y="912.9" width="15" height="15" fill="#a00000"/>
<rect x="566.7" y="898.0" width="15" height="15" fill="#a00000"/>
<rect x="609.7" y="929.3" width="15" height="15" fill="#a00000"/>
<rect x="584.4" y="933.1" width="15" height="15" fill="#a00000"/>
<rect x="574.0" y="858.9" width="15" height="15" fill="#a00000"/>
<rect x="629.2" y="985.8" width="15" height="15" fill="#a00000"/>
<rect x="610.7" y="1028.8" width="15" height="15" fill="#a00000"/>
<rect x="570.0" y="936.9" width="15" height="15" fill="#a00000"/>
<rect x="575.4" y="947.1" width="15" height="15" fill="#a00000"/>
<rect x="624.3" y="966.0" width="15" height="15" fill="#a00000"/>
<rect x="625.4" y="967.5" width="15" height="15" fill="#a00000"/>
<rect x="579.2" y="871.4" width="15" height="15" fill="#a00000"/>
<rect x="614.6" y="1002.5" width="15" height="15" fill="#a00000"/>
<rect x="575.1" y="964.8" width="15" height="15" fill="#a00000"/>
<rect x="562.7" y="864.6" width="15" height="15" fill="#a00000"/>
<rect x="583.5" y="960.8" width="15" height="15" fill="#a00000"/>
<rect x="606.1" y="912.1" width="15" height="15" fill="#a00000"/>
<rect x="571.8" y="1017.5" width="15" height="15" fill="#a00000"/>
<rect x="629.7" y="890.3" width="15" height="15" fill="#a00000"/>
<rect x="600.7" y="963.0" width="15" height="15" fill="#a00000"/>
<rect x="629.7" y="1014.8" width="15" height="15" fill="#a00000"/>
<rect x="629.7" y="924.6" width="15" height="15" fill="#a00000"/>
<rect x="629.4" y="958.2" width="15" height="15" fill="#a00000"/>
<rect x="572.2" y="888.0" width="15" height="15" fill="#a00000"/>
<rect x="605.4" y="920.6" width="15" height="15" fill="#a00000"/>
<rect x="629.7" y="935.1" width="15" height="15" fill="#a00000"/>
<rect x="587.7" y="851.5" width="15" height="15" fill="#a00000"/>
<rect x="618.5" y="941.1" width="15" height="15" fill="#a00000"/>
<rect x="567.5" y="855.8" width="15" height="15" fill="#a00000"/>
<rect x="622.4" y="857.2" width="15" height="15" fill="#a00000"/>
<rect x="626.8" y="878.5" width="15" height="15" fill="#a00000"/>
<rect x="588.1" y="846.3" width="15" height="15" fill="#a00000"/>
<rect x="629.7" y="951.6" width="15" height="15" fill="#a00000"/>
<rect x="599.1" y="942.1" width="15" height="15" fill="#a00000"/>
<rect x="598.5" y="962.5" width="15" height="15" fill="#a00000"/>
<rect x="589.6" y="959.4" width="15" height="15" fill="#a00000"/>
<rect x="616.9" y="980.7" width="15" height="15" fill="#a00000"/>
<rect x="606.8" y="951.2" width="15" height="15" fill="#a00000"/>
<rect x="587.4" y="968.3" width="15" height="15" fill="#a00000"/>
<rect x="620.7" y="944.7" width="15" height="15" fill="#a00000"/>
<rect x="619.5" y="887.1" width="15" height="15" fill="#a00000"/>
<rect x="609.0" y="873.0" width="15" height="15" fill="#a00000"/>
<rect x="599.9" y="1021.9" width="15" height="15" fill="#a00000"/>
<rect x="578.8" y="928.0" width="15" height="15" fill="#a00000"/>
<rect x="577.9" y="1026.6" width="15" height="15" fill="#a00000"/>
<rect x="612.9" y="886.9" width="15" height="15" fill="#a00000"/>
<rect x="562.7" y="880.6" width="15" height="15" fill="#a00000"/>
<rect x="610.2" y="887.9" width="15" height="15" fill="#a00000"/>
<rect x="599.0" y="975.8" width="15" height="15" fill="#a00000"/>
<rect x="623.6" y="951.5" width="15" height="15" fill="#a00000"/>
<rect x="562.7" y="995.2" width="15" height="15" fill="#a00000"/>
<rect x="596.4" y="940.4" width="15" height="15" fill="#a00000"/>
<rect x="562.7" y="962.7" width="15" height="15" fill="#a00000"/>
<rect x="562.7" y="931.5" width="15" height="15" fill="#a00000"/>
<rect x="599.2" y="1026.5" width="15" height="15" fill="#a00000"/>
<rect x="594.5" y="862.9" width="15" height="15" fill="#a00000"/>
<rect x="604.2" y="921.1" width="15" height="15" fill="#a00000"/>
<rect x="565.5" y="976.8" width="15" height="15" fill="#a00000"/>
<rect x="629.7" y="901.6" width="15" height="15" fill="#a00000"/>
<rect x="591.2" y="1011.7" width="15" height="15" fill="#a00000"/>
<rect x="621.1" y="950.8" width="15" height="15" fill="#a00000"/>
<rect x="629.7" y="876.9" width="15" height="15" fill="#a00000"/>
<rect x="585.6" y="988.3" width="15" height="15" fill="#a00000"/>
<rect x="618.0" y="868.4" width="15" height="15" fill="#a00000"/>
<rect x="612.1" y="1022.8" width="15" height="15" fill="#a00000"/>
<rect x="565.6" y="958.4" width="15" height="15" fill="#a00000"/>
<rect x="599.5" y="995.7" width="15" height="15" fill="#a00000"/>
<rect x="624.7" y="971.8" width="15" height="15" fill="#a00000"/>
<rect x="575.6" y="929.0" width="15" height="15" fill="#a00000"/>
<rect x="629.7" y="866.7" width="15" height="15" fill="#a00000"/>
<rect x="570.1" y="995.2" width="15" height="15" fill="#a00000"/>
<rect x="599.8" y="899.7" width="15" height="15" fill="#a00000"/>
<rect x="588.2" y="872.5" width="15" height="15" fill="#a00000"/>
<rect x="629.7" y="1022.9" width="15" height="15" fill="#a00000"/>
<rect x="585.6" y="873.7" width="15" height="15" fill="#a00000"/>
<rect x="621.2" y="995.2" width="15" height="15" fill="#a00000"/>
<rect x="574.9" y="998.5" width="15" height="15" fill="#a00000"/>
<rect x="589.0" y="934.5" width="15" height="15" fill="#a00000"/>
<rect x="619.3" y="919.1" width="15" height="15" fill="#a00000"/>
<rect x="562.7" y="913.0" width="15" height="15" fill="#a00000"/>
<rect x="583.6" y="870.0" width="15" height="15" fill="#a00000"/>
<rect x="576.9" y="998.7" width="15" height="15" fill="#a00000"/>
<rect x="584.9" y="933.1" width="15" height="15" fill="#a00000"/>
<rect x="629.7" y="846.6" width="15" height="15" fill="#a00000"/>
<rect x="585.1" y="849.3" width="15" height="15" fill="#a00000"/>
<rect x="628.8" y="854.0" width="15" height="15" fill="#a00000"/>
<rect x="607.7" y="896.5" width="15" height="15" fill="#a00000"/>
<rect x="596.2" y="894.5" width="15" height="15" fill="#a00000"/>
<rect x="598.1" y="1024.5" width="15" height="15" fill="#a00000"/>
<rect x="562.7" y="1016.6" width="15" height="15" fill="#a00000"/>
<rect x="562.7" y="1008.6" width="15" height="15" fill="#a00000"/>
<rect x="605.1" y="964.2" width="15" height="15" fill="#a00000"/>
<rect x="581.6" y="994.2" width="15" height="15" fill="#a00000"/>
<rect x="562.7" y="972.9" width="15" height="15" fill="#a00000"/>
<rect x="613.8" y="983.8" width="15" height="15" fill="#a00000"/>
<rect x="605.3" y="911.0" width="15" height="15" fill="#a00000"/>
<rect x="589.9" y="856.8" width="15" height="15" fill="#a00000"/>
<rect x="584.4" y="1030.3" width="15" height="15" fill="#a00000"/>
<rect x="587.3" y="891.0" width="15" height="15" fill="#a00000"/>
<rect x="586.1" y="870.9" width="15" height="15" fill="#a00000"/>
<rect x="621.1" y="930.2" width="15" height="15" fill="#a00000"/>
<rect x="600.8" y="902.1" width="15" height="15" fill="#a00000"/>
<rect x="567.1" y="901.9" width="15" height="15" fill="#a00000"/>
<rect x="611.4" y="948.6" width="15" height="15" fill="#a00000"/>
<rect x="629.7" y="859.2" width="15" height="15" fill="#a00000"/>
<rect x="624.7" y="954.9" width="15" height="15" fill="#a00000"/>
<rect x="586.4" y="933.0" width="15" height="15" fill="#a00000"/>
<rect x="629.7" y="980.4" width="15" height="15" fill="#a00000"/>
<rect x="629.7" y="905.2" width="15" height="15" fill="#a00000"/>
<rect x="622.8" y="947.7" width="15" height="15" fill="#a00000"/>
<rect x="604.7" y="889.8" width="15" height="15" fill="#a00000"/>
<rect x="565.9" y="929.3" width="15" height="15" fill="#a00000"/>
<rect x="629.7" y="1007.1" width="15" height="15" fill="#a00000"/>
<rect x="575.9" y="982.7" width="15" height="15" fill="#a00000"/>
<rect x="562.7" y="860.3" width="15" height="15" fill="#a00000"/>
<rect x="629.7" y="980.0" width="15" height="15" fill="#a00000"/>
<rect x="580.8" y="965.6" width="15" height="15" fill="#a00000"/>
<rect x="584.3" y="850.7" width="15" height="15" fill="#a00000"/>
<rect x="620.8" y="850.6" width="15" height="15" fill="#a00000"/>
<rect x="603.6" y="995.2" width="15" height="15" fill="#a00000"/>
<rect x="620.5" y="994.4" width="15" height="15" fill="#a00000"/>
<rect x="603.8" y="990.6" width="15" height="15" fill="#a00000"/>
<rect x="629.7" y="893.6" width="15" height="15" fill="#a00000"/>
<rect x="563.6" y="1018.5" width="15" height="15" fill="#a00000"/>
<rect x="628.9" y="856.0" width="15" height="15" fill="#a00000"/>
<rect x="611.2" y="907.1" width="15" height="15" fill="#a00000"/>
<rect x="573.2" y="872.2" width="15" height="15" fill="#a00000"/>
<rect x="568.7" y="997.7" width="15" height="15" fill="#a00000"/>
<rect x="598.8" y="955.5" width="15" height="15" fill="#a00000"/>
<rect x="606.7" y="958.0" width="15" height="15" fill="#a00000"/>
<rect x="612.4" y="893.7" width="15" height="15" fill="#a00000"/>
<rect x="613.8" y="990.6" width="15" height="15" fill="#a00000"/>
<rect x="614.5" y="1028.3" width="15" height="15" fill="#a00000"/>
<rect x="581.3" y="943.4" width="15" height="15" fill="#a00000"/>
<rect x="562.7" y="892.8" width="15" height="15" fill="#a00000"/>
<rect x="569.4" y="996.8" width="15" height="15" fill="#a00000"/>
<rect x="562.7" y="1030.5" width="15" height="15" fill="#a00000"/>
<rect x="613.4" y="862.3" width="15" height="15" fill="#a00000"/>
<rect x="571.7" y="856.8" width="15" height="15" fill="#a00000"/>
<rect x="599.9" y="879.5" width="15" height="15" fill="#a00000"/>
<rect x="629.7" y="983.4" width="15" height="15" fill="#a00000"/>
<rect x="562.7" y="944.3" width="15" height="15" fill="#a00000"/>
<rect x="610.2" y="928.1" width="15" height="15" fill="#a00000"/>
<rect x="562.7" y="964.5" width="15" height="15" fill="#a00000"/>
<rect x="616.3" y="931.5" width="15" height="15" fill="#a00000"/>
<rect x="623.2" y="865.7" width="15" height="15" fill="#a00000"/>
<rect x="567.1" y="966.2" width="15" height="15" fill="#a00000"/>
<rect x="620.6" y="856.7" width="15" height="15" fill="#a00000"/>
<rect x="590.2" y="1017.4" width="15" height="15" fill="#a00000"/>
<rect x="562.7" y="851.2" width="15" height="15" fill="#a00000"/>
<rect x="610.2" y="890.7" width="15" height="15" fill="#a00000"/>
<rect x="584.5" y="925.1" width="15" height="15" fill="#a00000"/>
<rect x="621.6" y="938.7" width="15" height="15" fill="#a00000"/>
<rect x="562.7" y="934.8" width="15" height="15" fill="#a00000"/>
<rect x="629.7" y="1023.9" width="15" height="15" fill="#a00000"/>
<rect x="582.8" y="862.0" width="15" height="15" fill="#a00000"/>
<rect x="621.1" y="892.2" width="15" height="15" fill="#a00000"/>
<rect x="603.6" y="1024.4" width="15" height="15" fill="#a00000"/>
<rect x="566.2" y="991.8" width="15" height="15" fill="#a00000"/>
<rect x="629.7" y="854.1" width="15" height="15" fill="#a00000"/>
<rect x="592.1" y="926.8" width="15" height="15" fill="#a00000"/>
<rect x="625.4" y="973.6" width="15" height="15" fill="#a00000"/>
<rect x="562.7" y="1027.7" width="15" height="15" fill="#a00000"/>
<rect x="623.8" y="873.7" width="15" height="15" fill="#a00000"/>
<rect x="569.2" y="877.1" width="15" height="15" fill="#a00000"/>
<rect x="568.7" y="909.0" width="15" height="15" fill="#a00000"/>
<rect x="629.7" y="1010.4" width="15" height="15" fill="#a00000"/>
<rect x="562.7" y="954.9" width="15" height="15" fill="#a00000"/>
<rect x="604.7" y="848.4" width="15" height="15" fill="#a00000"/>
<rect x="602.6" y="953.0" width="15" height="15" fill="#a00000"/>
<rect x="611.5" y="854.5" width="15" height="15" fill="#a00000"/>
<rect x="562.7" y="1009.8" width="15" height="15" fill="#a00000"/>
<rect x="595.4" y="870.9" width="15" height="15" fill="#a00000"/>
<rect x="574.7" y="973.7" width="15" height="15" fill="#a00000"/>
<rect x="612.2" y="939.1" width="15" height="15" fill="#a00000"/>
<rect x="586.4" y="938.3" width="15" height="15" fill="#a00000"/>
<rect x="629.7" y="1027.0" width="15" height="15" fill="#a00000"/>
<rect x="562.7" y="982.3" width="15" height="15" fill="#a00000"/>
<rect x="574.6" y="895.0" width="15" height="15" fill="#a00000"/>
<rect x="565.6" y="940.6" width="15" height="15" fill="#a00000"/>
<rect x="600.0" y="913.3" width="15" height="15" fill="#a00000"/>
<rect x="608.8" y="967.6" width="15" height="15" fill="#a00000"/>
<rect x="599.5" y="974.6" width="15" height="15" fill="#a00000"/>
<rect x="629.7" y="920.2" width="15" height="15" fill="#a00000"/>
<rect x="590.8" y="1027.4" width="15" height="15" fill="#a00000"/>
<rect x="588.5" y="922.2" width="15" height="15" fill="#a00000"/>
<rect x="629.6" y="846.5" width="15" height="15" fill="#a00000"/>
<rect x="624.8" y="893.1" width="15" height="15" fill="#a00000"/>
<rect x="588.0" y="890.5" width="15" height="15" fill="#a00000"/>
<rect x="570.5" y="1003.2" width="15" height="15" fill="#a00000"/>
<rect x="562.7" y="921.4" width="15" height="15" fill="#a00000"/>
<rect x="608.6" y="928.2" width="15" height="15" fill="#a00000"/>
<rect x="593.2" y="953.5" width="15" height="15" fill="#a00000"/>
<rect x="606.1" y="933.5" width="15" height="15" fill="#a00000"/>
<rect x="599.3" y="916.5" width="15" height="15" fill="#a00000"/>
<rect x="629.7" y="911.9" width="15" height="15" fill="#a00000"/>
<rect x="628.1" y="895.3" width="15" height="15" fill="#a00000"/>
<rect x="618.1" y="859.0" width="15" height="15" fill="#a00000"/>
<rect x="562.7" y="1018.3" width="15" height="15" fill="#a00000"/>
<rect x="580.3" y="1002.8" width="15" height="15" fill="#a00000"/>
<rect x="629.7" y="943.1" width="15" height="15" fill="#a00000"/>
<rect x="577.5" y="872.1" width="15" height="15" fill="#a00000"/>
<rect x="629.7" y="943.5" width="15" height="15" fill="#a00000"/>
<rect x="617.2" y="890.1" width="15" height="15" fill="#a00000"/>
<rect x="617.8" y="931.6" width="15" height="15" fill="#a00000"/>
<rect x="618.1" y="1012.7" width="15" height="15" fill="#a00000"/>
<rect x="562.7" y="905.7" width="15" height="15" fill="#a00000"/>
<rect x="620.6" y="925.5" width="15" height="15" fill="#a00000"/>
<rect x="609.8" y="915.7" width="15" height="15" fill="#a00000"/>
<rect x="607.1" y="943.2" width="15" height="15" fill="#a00000"/>
<rect x="607.1" y="896.9" width="15" height="15" fill="#a00000"/>
<rect x="592.6" y="866.4" width="15" height="15" fill="#a00000"/>
<rect x="562.30" y="958.60" width="82.90" height="7.40" fill="#000" />
<rect x="719.9" y="772.3" width="13.6" height="13.6" fill="none" stroke="#f54dd5" stroke-width="2.0"/>
<rect x="704.8" y="788.2" width="13.6" height="13.6" fill="none" stroke="#f54dd5" stroke-width="2.0"/>
<rect x="734.5" y="787.4" width="13.6" height="13.6" fill="none" stroke="#f54dd5" stroke-width="2.0"/>
<rect x="704.8" y="816.4" width="13.6" height="13.6" fill="none" stroke="#f54dd5" stroke-width="2.0"/>
<rect x="734.5" y="813.4" width="13.6" height="13.6" fill="none" stroke="#f54dd5" stroke-width="2.0"/>
<rect x="704.8" y="847.9" width="13.6" height="13.6" fill="none" stroke="#f54dd5" stroke-width="2.0"/>
<rect x="734.5" y="847.9" width="13.6" height="13.6" fill="none" stroke="#f54dd5" stroke-width="2.0"/>
<rect x="690.2" y="1033.2" width="13.6" height="13.6" fill="none" stroke="#f54dd5" stroke-width="2.0"/>
<rect x="708.2" y="1035.2" width="13.6" height="13.6" fill="none" stroke="#f54dd5" stroke-width="2.0"/>
<rect x="738.2" y="1034.2" width="13.6" height="13.6" fill="none" stroke="#f54dd5" stroke-width="2.0"/>
<rect x="753.2" y="1030.2" width="13.6" height="13.6" fill="none" stroke="#f54dd5" stroke-width="2.0"/>
<rect x="735.2" y="974.4" width="13.6" height="13.6" fill="none" stroke="#f54dd5" stroke-width="2.0"/>
<rect x="718.9" y="963.6" width="13.6" height="13.6" fill="none" stroke="#f54dd5" stroke-width="2.0"/>
<rect x="739.9" y="977.8" width="13.6" height="13.6" fill="none" stroke="#f54dd5" stroke-width="2.0"/>
<rect x="686.3" y="953.0" width="13.6" height="13.6" fill="none" stroke="#f54dd5" stroke-width="2.0"/>
<rect x="747.6" y="962.1" width="13.6" height="13.6" fill="none" stroke="#f54dd5" stroke-width="2.0"/>
<rect x="715.6" y="963.1" width="13.6" height="13.6" fill="none" stroke="#f54dd5" stroke-width="2.0"/>
<rect x="750.4" y="978.8" width="13.6" height="13.6" fill="none" stroke="#f54dd5" stroke-width="2.0"/>
<rect x="686.2" y="920.6" width="13.6" height="13.6" fill="none" stroke="#f54dd5" stroke-width="2.0"/>
<rect x="736.7" y="930.2" width="13.6" height="13.6" fill="none" stroke="#f54dd5" stroke-width="2.0"/>
<rect x="703.4" y="989.0" width="13.6" height="13.6" fill="none" stroke="#f54dd5" stroke-width="2.0"/>
<rect x="751.7" y="956.2" width="13.6" height="13.6" fill="none" stroke="#f54dd5" stroke-width="2.0"/>
<rect x="699.8" y="869.1" width="13.6" height="13.6" fill="none" stroke="#f54dd5" stroke-width="2.0"/>
<rect x="712.5" y="963.3" width="13.6" height="13.6" fill="none" stroke="#f54dd5" stroke-width="2.0"/>
<rect x="686.2" y="902.8" width="13.6" height="13.6" fill="none" stroke="#f54dd5" stroke-width="2.0"/>
<rect x="715.4" y="885.9" width="13.6" height="13.6" fill="none" stroke="#f54dd5" stroke-width="2.0"/>
<rect x="712.8" y="946.4" width="13.6" height="13.6" fill="none" stroke="#f54dd5" stroke-width="2.0"/>
<rect x="686.8" y="991.6" width="13.6" height="13.6" fill="none" stroke="#f54dd5" stroke-width="2.0"/>
<rect x="753.2" y="1019.8" width="13.6" height="13.6" fill="none" stroke="#f54dd5" stroke-width="2.0"/>
<rect x="737.8" y="980.8" width="13.6" height="13.6" fill="none" stroke="#f54dd5" stroke-width="2.0"/>
<rect x="686.2" y="992.0" width="13.6" height="13.6" fill="none" stroke="#f54dd5" stroke-width="2.0"/>
<rect x="686.2" y="1028.0" width="13.6" height="13.6" fill="none" stroke="#f54dd5" stroke-width="2.0"/>
<rect x="718.5" y="996.1" width="13.6" height="13.6" fill="none" stroke="#f54dd5" stroke-width="2.0"/>
<rect x="714.2" y="1029.2" width="13.6" height="13.6" fill="none" stroke="#f54dd5" stroke-width="2.0"/>
<rect x="686.2" y="977.4" width="13.6" height="13.6" fill="none" stroke="#f54dd5" stroke-width="2.0"/>
<rect x="752.0" y="937.1" width="13.6" height="13.6" fill="none" stroke="#f54dd5" stroke-width="2.0"/>
<rect x="711.9" y="907.2" width="13.6" height="13.6" fill="none" stroke="#f54dd5" stroke-width="2.0"/>
<rect x="745.5" y="908.6" width="13.6" height="13.6" fill="none" stroke="#f54dd5" stroke-width="2.0"/>
<rect x="711.7" y="967.9" width="13.6" height="13.6" fill="none" stroke="#f54dd5" stroke-width="2.0"/>
<rect x="706.6" y="991.6" width="13.6" height="13.6" fill="none" stroke="#f54dd5" stroke-width="2.0"/>
<rect x="753.2" y="879.8" width="13.6" height="13.6" fill="none" stroke="#f54dd5" stroke-width="2.0"/>
<rect x="753.2" y="1027.3" width="13.6" height="13.6" fill="none" stroke="#f54dd5" stroke-width="2.0"/>
<rect x="686.2" y="856.7" width="13.6" height="13.6" fill="none" stroke="#f54dd5" stroke-width="2.0"/>
<rect x="749.9" y="861.3" width="13.6" height="13.6" fill="none" stroke="#f54dd5" stroke-width="2.0"/>
<rect x="715.6" y="1002.0" width="13.6" height="13.6" fill="none" stroke="#f54dd5" stroke-width="2.0"/>
<rect x="713.4" y="890.7" width="13.6" height="13.6" fill="none" stroke="#f54dd5" stroke-width="2.0"/>
<rect x="698.3" y="876.9" width="13.6" height="13.6" fill="none" stroke="#f54dd5" stroke-width="2.0"/>
<rect x="745.2" y="941.7" width="13.6" height="13.6" fill="none" stroke="#f54dd5" stroke-width="2.0"/>
<rect x="734.5" y="883.8" width="13.6" height="13.6" fill="none" stroke="#f54dd5" stroke-width="2.0"/>
<rect x="734.5" y="994.7" width="13.6" height="13.6" fill="none" stroke="#f54dd5" stroke-width="2.0"/>
<rect x="696.8" y="979.7" width="13.6" height="13.6" fill="none" stroke="#f54dd5" stroke-width="2.0"/>
<rect x="717.4" y="1029.2" width="13.6" height="13.6" fill="none" stroke="#f54dd5" stroke-width="2.0"/>
<rect x="689.6" y="1005.7" width="13.6" height="13.6" fill="none" stroke="#f54dd5" stroke-width="2.0"/>
<rect x="714.6" y="1016.0" width="13.6" height="13.6" fill="none" stroke="#f54dd5" stroke-width="2.0"/>
<rect x="696.9" y="930.8" width="13.6" height="13.6" fill="none" stroke="#f54dd5" stroke-width="2.0"/>
<rect x="744.8" y="978.2" width="13.6" height="13.6" fill="none" stroke="#f54dd5" stroke-width="2.0"/>
<rect x="706.9" y="955.0" width="13.6" height="13.6" fill="none" stroke="#f54dd5" stroke-width="2.0"/>
<rect x="686.2" y="970.9" width="13.6" height="13.6" fill="none" stroke="#f54dd5" stroke-width="2.0"/>
<rect x="711.7" y="894.1" width="13.6" height="13.6" fill="none" stroke="#f54dd5" stroke-width="2.0"/>
<rect x="692.5" y="973.1" width="13.6" height="13.6" fill="none" stroke="#f54dd5" stroke-width="2.0"/>
<rect x="693.9" y="876.5" width="13.6" height="13.6" fill="none" stroke="#f54dd5" stroke-width="2.0"/>
<rect x="686.2" y="941.4" width="13.6" height="13.6" fill="none" stroke="#f54dd5" stroke-width="2.0"/>
<rect x="736.5" y="992.2" width="13.6" height="13.6" fill="none" stroke="#f54dd5" stroke-width="2.0"/>
<rect x="744.1" y="971.6" width="13.6" height="13.6" fill="none" stroke="#f54dd5" stroke-width="2.0"/>
<rect x="692.1" y="968.4" width="13.6" height="13.6" fill="none" stroke="#f54dd5" stroke-width="2.0"/>
<rect x="686.2" y="1029.2" width="13.6" height="13.6" fill="none" stroke="#f54dd5" stroke-width="2.0"/>
<rect x="725.1" y="1001.2" width="13.6" height="13.6" fill="none" stroke="#f54dd5" stroke-width="2.0"/>
<rect x="706.3" y="978.4" width="13.6" height="13.6" fill="none" stroke="#f54dd5" stroke-width="2.0"/>
<rect x="718.4" y="967.1" width="13.6" height="13.6" fill="none" stroke="#f54dd5" stroke-width="2.0"/>
<rect x="686.2" y="934.4" width="13.6" height="13.6" fill="none" stroke="#f54dd5" stroke-width="2.0"/>
<rect x="693.8" y="990.9" width="13.6" height="13.6" fill="none" stroke="#f54dd5" stroke-width="2.0"/>
<rect x="688.6" y="946.5" width="13.6" height="13.6" fill="none" stroke="#f54dd5" stroke-width="2.0"/>
<rect x="714.0" y="868.5" width="13.6" height="13.6" fill="none" stroke="#f54dd5" stroke-width="2.0"/>
<rect x="735.4" y="960.9" width="13.6" height="13.6" fill="none" stroke="#f54dd5" stroke-width="2.0"/>
<rect x="692.2" y="937.3" width="13.6" height="13.6" fill="none" stroke="#f54dd5" stroke-width="2.0"/>
<rect x="703.7" y="925.6" width="13.6" height="13.6" fill="none" stroke="#f54dd5" stroke-width="2.0"/>
<rect x="696.5" y="948.2" width="13.6" height="13.6" fill="none" stroke="#f54dd5" stroke-width="2.0"/>
<rect x="724.3" y="970.3" width="13.6" height="13.6" fill="none" stroke="#f54dd5" stroke-width="2.0"/>
<rect x="749.8" y="880.3" width="13.6" height="13.6" fill="none" stroke="#f54dd5" stroke-width="2.0"/>
<rect x="686.2" y="857.8" width="13.6" height="13.6" fill="none" stroke="#f54dd5" stroke-width="2.0"/>
<rect x="753.2" y="977.2" width="13.6" height="13.6" fill="none" stroke="#f54dd5" stroke-width="2.0"/>
<rect x="736.0" y="942.7" width="13.6" height="13.6" fill="none" stroke="#f54dd5" stroke-width="2.0"/>
<rect x="742.6" y="929.0" width="13.6" height="13.6" fill="none" stroke="#f54dd5" stroke-width="2.0"/>
<rect x="693.5" y="1015.7" width="13.6" height="13.6" fill="none" stroke="#f54dd5" stroke-width="2.0"/>
<rect x="702.5" y="944.5" width="13.6" height="13.6" fill="none" stroke="#f54dd5" stroke-width="2.0"/>
<rect x="686.2" y="1013.8" width="13.6" height="13.6" fill="none" stroke="#f54dd5" stroke-width="2.0"/>
<rect x="692.8" y="981.3" width="13.6" height="13.6" fill="none" stroke="#f54dd5" stroke-width="2.0"/>
<rect x="691.8" y="958.2" width="13.6" height="13.6" fill="none" stroke="#f54dd5" stroke-width="2.0"/>
<rect x="707.5" y="992.1" width="13.6" height="13.6" fill="none" stroke="#f54dd5" stroke-width="2.0"/>
<rect x="739.0" y="956.7" width="13.6" height="13.6" fill="none" stroke="#f54dd5" stroke-width="2.0"/>
<rect x="697.4" y="989.2" width="13.6" height="13.6" fill="none" stroke="#f54dd5" stroke-width="2.0"/>
<rect x="748.2" y="978.5" width="13.6" height="13.6" fill="none" stroke="#f54dd5" stroke-width="2.0"/>
<rect x="686.4" y="861.8" width="13.6" height="13.6" fill="none" stroke="#f54dd5" stroke-width="2.0"/>
<rect x="708.3" y="968.2" width="13.6" height="13.6" fill="none" stroke="#f54dd5" stroke-width="2.0"/>
<rect x="686.2" y="992.1" width="13.6" height="13.6" fill="none" stroke="#f54dd5" stroke-width="2.0"/>
<rect x="734.3" y="970.6" width="13.6" height="13.6" fill="none" stroke="#f54dd5" stroke-width="2.0"/>
<rect x="750.9" y="984.9" width="13.6" height="13.6" fill="none" stroke="#f54dd5" stroke-width="2.0"/>
<rect x="741.7" y="1012.6" width="13.6" height="13.6" fill="none" stroke="#f54dd5" stroke-width="2.0"/>
<rect x="742.0" y="957.9" width="13.6" height="13.6" fill="none" stroke="#f54dd5" stroke-width="2.0"/>
<rect x="741.5" y="1006.7" width="13.6" height="13.6" fill="none" stroke="#f54dd5" stroke-width="2.0"/>
<rect x="750.6" y="994.6" width="13.6" height="13.6" fill="none" stroke="#f54dd5" stroke-width="2.0"/>
<rect x="753.2" y="1002.7" width="13.6" height="13.6" fill="none" stroke="#f54dd5" stroke-width="2.0"/>
<rect x="725.6" y="972.4" width="13.6" height="13.6" fill="none" stroke="#f54dd5" stroke-width="2.0"/>
<rect x="686.2" y="991.3" width="13.6" height="13.6" fill="none" stroke="#f54dd5" stroke-width="2.0"/>
<rect x="749.3" y="925.9" width="13.6" height="13.6" fill="none" stroke="#f54dd5" stroke-width="2.0"/>
<rect x="729.9" y="914.3" width="13.6" height="13.6" fill="none" stroke="#f54dd5" stroke-width="2.0"/>
<rect x="742.2" y="856.0" width="13.6" height="13.6" fill="none" stroke="#f54dd5" stroke-width="2.0"/>
<rect x="687.3" y="917.4" width="13.6" height="13.6" fill="none" stroke="#f54dd5" stroke-width="2.0"/>
<rect x="753.2" y="972.2" width="13.6" height="13.6" fill="none" stroke="#f54dd5" stroke-width="2.0"/>
<rect x="691.8" y="996.9" width="13.6" height="13.6" fill="none" stroke="#f54dd5" stroke-width="2.0"/>
<rect x="688.4" y="1000.7" width="13.6" height="13.6" fill="none" stroke="#f54dd5" stroke-width="2.0"/>
<rect x="753.2" y="995.6" width="13.6" height="13.6" fill="none" stroke="#f54dd5" stroke-width="2.0"/>
<rect x="732.0" y="977.1" width="13.6" height="13.6" fill="none" stroke="#f54dd5" stroke-width="2.0"/>
<rect x="686.2" y="968.3" width="13.6" height="13.6" fill="none" stroke="#f54dd5" stroke-width="2.0"/>
<rect x="709.8" y="1008.7" width="13.6" height="13.6" fill="none" stroke="#f54dd5" stroke-width="2.0"/>
<rect x="753.2" y="995.6" width="13.6" height="13.6" fill="none" stroke="#f54dd5" stroke-width="2.0"/>
<rect x="686.2" y="1023.7" width="13.6" height="13.6" fill="none" stroke="#f54dd5" stroke-width="2.0"/>
<rect x="686.8" y="873.3" width="13.6" height="13.6" fill="none" stroke="#f54dd5" stroke-width="2.0"/>
<rect x="724.1" y="983.4" width="13.6" height="13.6" fill="none" stroke="#f54dd5" stroke-width="2.0"/>
<rect x="752.2" y="986.2" width="13.6" height="13.6" fill="none" stroke="#f54dd5" stroke-width="2.0"/>
<rect x="695.2" y="899.3" width="13.6" height="13.6" fill="none" stroke="#f54dd5" stroke-width="2.0"/>
<rect x="720.7" y="975.2" width="13.6" height="13.6" fill="none" stroke="#f54dd5" stroke-width="2.0"/>
<rect x="733.7" y="1018.4" width="13.6" height="13.6" fill="none" stroke="#f54dd5" stroke-width="2.0"/>
<rect x="686.2" y="941.9" width="13.6" height="13.6" fill="none" stroke="#f54dd5" stroke-width="2.0"/>
<rect x="751.6" y="1007.4" width="13.6" height="13.6" fill="none" stroke="#f54dd5" stroke-width="2.0"/>
<rect x="686.2" y="923.0" width="13.6" height="13.6" fill="none" stroke="#f54dd5" stroke-width="2.0"/>
<rect x="753.2" y="997.0" width="13.6" height="13.6" fill="none" stroke="#f54dd5" stroke-width="2.0"/>
<rect x="695.4" y="1010.3" width="13.6" height="13.6" fill="none" stroke="#f54dd5" stroke-width="2.0"/>
<rect x="725.6" y="1011.6" width="13.6" height="13.6" fill="none" stroke="#f54dd5" stroke-width="2.0"/>
<rect x="729.2" y="988.3" width="13.6" height="13.6" fill="none" stroke="#f54dd5" stroke-width="2.0"/>
<rect x="705.7" y="893.2" width="13.6" height="13.6" fill="none" stroke="#f54dd5" stroke-width="2.0"/>
<rect x="740.1" y="921.4" width="13.6" height="13.6" fill="none" stroke="#f54dd5" stroke-width="2.0"/>
<rect x="753.2" y="903.5" width="13.6" height="13.6" fill="none" stroke="#f54dd5" stroke-width="2.0"/>
<rect x="724.7" y="993.3" width="13.6" height="13.6" fill="none" stroke="#f54dd5" stroke-width="2.0"/>
<rect x="695.6" y="1024.5" width="13.6" height="13.6" fill="none" stroke="#f54dd5" stroke-width="2.0"/>
<rect x="686.2" y="925.7" width="13.6" height="13.6" fill="none" stroke="#f54dd5" stroke-width="2.0"/>
<rect x="753.2" y="990.4" width="13.6" height="13.6" fill="none" stroke="#f54dd5" stroke-width="2.0"/>
<rect x="732.7" y="971.4" width="13.6" height="13.6" fill="none" stroke="#f54dd5" stroke-width="2.0"/>
<rect x="753.2" y="962.0" width="13.6" height="13.6" fill="none" stroke="#f54dd5" stroke-width="2.0"/>
<rect x="703.6" y="1012.1" width="13.6" height="13.6" fill="none" stroke="#f54dd5" stroke-width="2.0"/>
<rect x="750.8" y="1000.0" width="13.6" height="13.6" fill="none" stroke="#f54dd5" stroke-width="2.0"/>
<rect x="742.3" y="990.7" width="13.6" height="13.6" fill="none" stroke="#f54dd5" stroke-width="2.0"/>
<rect x="696.4" y="937.0" width="13.6" height="13.6" fill="none" stroke="#f54dd5" stroke-width="2.0"/>
<rect x="731.1" y="903.1" width="13.6" height="13.6" fill="none" stroke="#f54dd5" stroke-width="2.0"/>
<rect x="747.7" y="1029.2" width="13.6" height="13.6" fill="none" stroke="#f54dd5" stroke-width="2.0"/>
<rect x="728.4" y="979.6" width="13.6" height="13.6" fill="none" stroke="#f54dd5" stroke-width="2.0"/>
<rect x="753.2" y="968.1" width="13.6" height="13.6" fill="none" stroke="#f54dd5" stroke-width="2.0"/>
<rect x="753.2" y="1009.3" width="13.6" height="13.6" fill="none" stroke="#f54dd5" stroke-width="2.0"/>
<rect x="686.2" y="973.2" width="13.6" height="13.6" fill="none" stroke="#f54dd5" stroke-width="2.0"/>
<rect x="740.3" y="960.6" width="13.6" height="13.6" fill="none" stroke="#f54dd5" stroke-width="2.0"/>
<rect x="686.2" y="923.8" width="13.6" height="13.6" fill="none" stroke="#f54dd5" stroke-width="2.0"/>
<rect x="753.2" y="1025.4" width="13.6" height="13.6" fill="none" stroke="#f54dd5" stroke-width="2.0"/>
<rect x="708.8" y="979.1" width="13.6" height="13.6" fill="none" stroke="#f54dd5" stroke-width="2.0"/>
<rect x="735.5" y="1004.1" width="13.6" height="13.6" fill="none" stroke="#f54dd5" stroke-width="2.0"/>
<rect x="731.9" y="866.8" width="13.6" height="13.6" fill="none" stroke="#f54dd5" stroke-width="2.0"/>
<rect x="724.6" y="965.4" width="13.6" height="13.6" fill="none" stroke="#f54dd5" stroke-width="2.0"/>
<rect x="700.5" y="991.8" width="13.6" height="13.6" fill="none" stroke="#f54dd5" stroke-width="2.0"/>
<rect x="743.3" y="990.0" width="13.6" height="13.6" fill="none" stroke="#f54dd5" stroke-width="2.0"/>
<rect x="694.6" y="1029.2" width="13.6" height="13.6" fill="none" stroke="#f54dd5" stroke-width="2.0"/>
<rect x="751.2" y="921.5" width="13.6" height="13.6" fill="none" stroke="#f54dd5" stroke-width="2.0"/>
<rect x="729.6" y="922.1" width="13.6" height="13.6" fill="none" stroke="#f54dd5" stroke-width="2.0"/>
<rect x="686.2" y="960.4" width="13.6" height="13.6" fill="none" stroke="#f54dd5" stroke-width="2.0"/>
<rect x="726.9" y="909.0" width="13.6" height="13.6" fill="none" stroke="#f54dd5" stroke-width="2.0"/>
<rect x="724.3" y="868.9" width="13.6" height="13.6" fill="none" stroke="#f54dd5" stroke-width="2.0"/>
<rect x="720.9" y="1001.7" width="13.6" height="13.6" fill="none" stroke="#f54dd5" stroke-width="2.0"/>
<rect x="737.4" y="971.2" width="13.6" height="13.6" fill="none" stroke="#f54dd5" stroke-width="2.0"/>
<rect x="751.7" y="970.8" width="13.6" height="13.6" fill="none" stroke="#f54dd5" stroke-width="2.0"/>
<rect x="717.5" y="973.1" width="13.6" height="13.6" fill="none" stroke="#f54dd5" stroke-width="2.0"/>
<rect x="748.9" y="947.5" width="13.6" height="13.6" fill="none" stroke="#f54dd5" stroke-width="2.0"/>
<rect x="723.5" y="904.2" width="13.6" height="13.6" fill="none" stroke="#f54dd5" stroke-width="2.0"/>
<rect x="686.2" y="1007.9" width="13.6" height="13.6" fill="none" stroke="#f54dd5" stroke-width="2.0"/>
<rect x="711.3" y="902.8" width="13.6" height="13.6" fill="none" stroke="#f54dd5" stroke-width="2.0"/>
<rect x="693.7" y="1029.2" width="13.6" height="13.6" fill="none" stroke="#f54dd5" stroke-width="2.0"/>
<rect x="753.2" y="1029.2" width="13.6" height="13.6" fill="none" stroke="#f54dd5" stroke-width="2.0"/>
<rect x="753.2" y="899.0" width="13.6" height="13.6" fill="none" stroke="#f54dd5" stroke-width="2.0"/>
<rect x="724.8" y="892.8" width="13.6" height="13.6" fill="none" stroke="#f54dd5" stroke-width="2.0"/>
<rect x="753.2" y="965.5" width="13.6" height="13.6" fill="none" stroke="#f54dd5" stroke-width="2.0"/>
<rect x="737.1" y="966.9" width="13.6" height="13.6" fill="none" stroke="#f54dd5" stroke-width="2.0"/>
<rect x="686.2" y="995.8" width="13.6" height="13.6" fill="none" stroke="#f54dd5" stroke-width="2.0"/>
<rect x="704.0" y="1029.2" width="13.6" height="13.6" fill="none" stroke="#f54dd5" stroke-width="2.0"/>
<rect x="751.4" y="1020.2" width="13.6" height="13.6" fill="none" stroke="#f54dd5" stroke-width="2.0"/>
<rect x="686.2" y="979.8" width="13.6" height="13.6" fill="none" stroke="#f54dd5" stroke-width="2.0"/>
<rect x="753.2" y="983.6" width="13.6" height="13.6" fill="none" stroke="#f54dd5" stroke-width="2.0"/>
<rect x="724.1" y="968.1" width="13.6" height="13.6" fill="none" stroke="#f54dd5" stroke-width="2.0"/>
<rect x="732.5" y="991.3" width="13.6" height="13.6" fill="none" stroke="#f54dd5" stroke-width="2.0"/>
<rect x="734.0" y="914.9" width="13.6" height="13.6" fill="none" stroke="#f54dd5" stroke-width="2.0"/>
<rect x="753.2" y="937.2" width="13.6" height="13.6" fill="none" stroke="#f54dd5" stroke-width="2.0"/>
<rect x="753.2" y="938.1" width="13.6" height="13.6" fill="none" stroke="#f54dd5" stroke-width="2.0"/>
<rect x="686.2" y="947.1" width="13.6" height="13.6" fill="none" stroke="#f54dd5" stroke-width="2.0"/>
<rect x="712.3" y="932.4" width="13.6" height="13.6" fill="none" stroke="#f54dd5" stroke-width="2.0"/>
<rect x="704.8" y="945.5" width="13.6" height="13.6" fill="none" stroke="#f54dd5" stroke-width="2.0"/>
<rect x="734.8" y="909.6" width="13.6" height="13.6" fill="none" stroke="#f54dd5" stroke-width="2.0"/>
<rect x="753.2" y="1002.4" width="13.6" height="13.6" fill="none" stroke="#f54dd5" stroke-width="2.0"/>
<rect x="711.6" y="980.2" width="13.6" height="13.6" fill="none" stroke="#f54dd5" stroke-width="2.0"/>
<rect x="686.2" y="1029.2" width="13.6" height="13.6" fill="none" stroke="#f54dd5" stroke-width="2.0"/>
<rect x="691.0" y="997.9" width="13.6" height="13.6" fill="none" stroke="#f54dd5" stroke-width="2.0"/>
<rect x="745.5" y="963.0" width="13.6" height="13.6" fill="none" stroke="#f54dd5" stroke-width="2.0"/>
<rect x="746.9" y="959.9" width="13.6" height="13.6" fill="none" stroke="#f54dd5" stroke-width="2.0"/>
<rect x="725.8" y="990.2" width="13.6" height="13.6" fill="none" stroke="#f54dd5" stroke-width="2.0"/>
<rect x="728.8" y="931.7" width="13.6" height="13.6" fill="none" stroke="#f54dd5" stroke-width="2.0"/>
<rect x="734.7" y="1014.9" width="13.6" height="13.6" fill="none" stroke="#f54dd5" stroke-width="2.0"/>
<rect x="713.0" y="979.4" width="13.6" height="13.6" fill="none" stroke="#f54dd5" stroke-width="2.0"/>
<rect x="729.7" y="937.3" width="13.6" height="13.6" fill="none" stroke="#f54dd5" stroke-width="2.0"/>
<rect x="747.1" y="1002.1" width="13.6" height="13.6" fill="none" stroke="#f54dd5" stroke-width="2.0"/>
<rect x="686.2" y="988.1" width="13.6" height="13.6" fill="none" stroke="#f54dd5" stroke-width="2.0"/>
<rect x="736.1" y="974.5" width="13.6" height="13.6" fill="none" stroke="#f54dd5" stroke-width="2.0"/>
<rect x="747.0" y="927.8" width="13.6" height="13.6" fill="none" stroke="#f54dd5" stroke-width="2.0"/>
<rect x="717.5" y="1029.2" width="13.6" height="13.6" fill="none" stroke="#f54dd5" stroke-width="2.0"/>
<rect x="689.2" y="946.2" width="13.6" height="13.6" fill="none" stroke="#f54dd5" stroke-width="2.0"/>
<rect x="713.9" y="939.1" width="13.6" height="13.6" fill="none" stroke="#f54dd5" stroke-width="2.0"/>
<rect x="686.2" y="986.2" width="13.6" height="13.6" fill="none" stroke="#f54dd5" stroke-width="2.0"/>
<rect x="686.2" y="911.4" width="13.6" height="13.6" fill="none" stroke="#f54dd5" stroke-width="2.0"/>
<rect x="750.3" y="988.0" width="13.6" height="13.6" fill="none" stroke="#f54dd5" stroke-width="2.0"/>
<rect x="729.6" y="968.9" width="13.6" height="13.6" fill="none" stroke="#f54dd5" stroke-width="2.0"/>
<rect x="727.3" y="948.7" width="13.6" height="13.6" fill="none" stroke="#f54dd5" stroke-width="2.0"/>
<rect x="730.5" y="934.7" width="13.6" height="13.6" fill="none" stroke="#f54dd5" stroke-width="2.0"/>
<rect x="723.7" y="994.2" width="13.6" height="13.6" fill="none" stroke="#f54dd5" stroke-width="2.0"/>
<rect x="686.2" y="1016.6" width="13.6" height="13.6" fill="none" stroke="#f54dd5" stroke-width="2.0"/>
<rect x="700.1" y="1029.2" width="13.6" height="13.6" fill="none" stroke="#f54dd5" stroke-width="2.0"/>
<rect x="709.8" y="1029.2" width="13.6" height="13.6" fill="none" stroke="#f54dd5" stroke-width="2.0"/>
<rect x="743.1" y="872.8" width="13.6" height="13.6" fill="none" stroke="#f54dd5" stroke-width="2.0"/>
<rect x="706.5" y="880.9" width="13.6" height="13.6" fill="none" stroke="#f54dd5" stroke-width="2.0"/>
<rect x="751.8" y="856.4" width="13.6" height="13.6" fill="none" stroke="#f54dd5" stroke-width="2.0"/>
<rect x="693.8" y="959.4" width="13.6" height="13.6" fill="none" stroke="#f54dd5" stroke-width="2.0"/>
<rect x="716.7" y="939.4" width="13.6" height="13.6" fill="none" stroke="#f54dd5" stroke-width="2.0"/>
<rect x="686.2" y="1000.9" width="13.6" height="13.6" fill="none" stroke="#f54dd5" stroke-width="2.0"/>
<rect x="688.3" y="1003.1" width="13.6" height="13.6" fill="none" stroke="#f54dd5" stroke-width="2.0"/>
<rect x="745.0" y="945.7" width="13.6" height="13.6" fill="none" stroke="#f54dd5" stroke-width="2.0"/>
<rect x="753.2" y="1019.2" width="13.6" height="13.6" fill="none" stroke="#f54dd5" stroke-width="2.0"/>
<rect x="686.2" y="1024.2" width="13.6" height="13.6" fill="none" stroke="#f54dd5" stroke-width="2.0"/>
<rect x="715.9" y="969.0" width="13.6" height="13.6" fill="none" stroke="#f54dd5" stroke-width="2.0"/>
<rect x="753.2" y="978.3" width="13.6" height="13.6" fill="none" stroke="#f54dd5" stroke-width="2.0"/>
<rect x="701.7" y="1015.4" width="13.6" height="13.6" fill="none" stroke="#f54dd5" stroke-width="2.0"/>
<rect x="737.8" y="1010.0" width="13.6" height="13.6" fill="none" stroke="#f54dd5" stroke-width="2.0"/>
<rect x="686.2" y="1014.3" width="13.6" height="13.6" fill="none" stroke="#f54dd5" stroke-width="2.0"/>
<rect x="753.2" y="971.6" width="13.6" height="13.6" fill="none" stroke="#f54dd5" stroke-width="2.0"/>
<rect x="716.9" y="989.1" width="13.6" height="13.6" fill="none" stroke="#f54dd5" stroke-width="2.0"/>
<rect x="730.7" y="1029.2" width="13.6" height="13.6" fill="none" stroke="#f54dd5" stroke-width="2.0"/>
<rect x="738.2" y="967.9" width="13.6" height="13.6" fill="none" stroke="#f54dd5" stroke-width="2.0"/>
<rect x="736.8" y="979.5" width="13.6" height="13.6" fill="none" stroke="#f54dd5" stroke-width="2.0"/>
<rect x="694.1" y="961.4" width="13.6" height="13.6" fill="none" stroke="#f54dd5" stroke-width="2.0"/>
<rect x="685.40" y="959.40" width="82.20" height="7.40" fill="#000" />
<rect x="842.0" y="646.2" width="15.1" height="15.1" fill="#f54dd5"/>
<rect x="842.0" y="751.5" width="15.1" height="15.1" fill="#f54dd5"/>
<rect x="842.0" y="761.5" width="15.1" height="15.1" fill="#f54dd5"/>
<rect x="808.2" y="768.5" width="15.1" height="15.1" fill="#f54dd5"/>
<rect x="875.5" y="765.2" width="15.1" height="15.1" fill="#f54dd5"/>
<rect x="827.6" y="801.8" width="15.1" height="15.1" fill="#f54dd5"/>
<rect x="856.6" y="793.5" width="15.1" height="15.1" fill="#f54dd5"/>
<rect x="842.0" y="835.9" width="15.1" height="15.1" fill="#f54dd5"/>
<rect x="808.2" y="1038.0" width="15.1" height="15.1" fill="#f54dd5"/>
<rect x="875.5" y="1036.2" width="15.1" height="15.1" fill="#f54dd5"/>
<rect x="825.5" y="1025.5" width="15.1" height="15.1" fill="#f54dd5"/>
<rect x="842.0" y="1028.5" width="15.1" height="15.1" fill="#f54dd5"/>
<rect x="860.5" y="1025.5" width="15.1" height="15.1" fill="#f54dd5"/>
<rect x="808.2" y="843.5" width="15.1" height="15.1" fill="#f54dd5"/>
<rect x="875.5" y="843.5" width="15.1" height="15.1" fill="#f54dd5"/>
<rect x="819.6" y="1011.5" width="15.1" height="15.1" fill="#f54dd5"/>
<rect x="834.6" y="907.2" width="15.1" height="15.1" fill="#f54dd5"/>
<rect x="808.5" y="967.3" width="15.1" height="15.1" fill="#f54dd5"/>
<rect x="825.8" y="1014.3" width="15.1" height="15.1" fill="#f54dd5"/>
<rect x="848.1" y="961.3" width="15.1" height="15.1" fill="#f54dd5"/>
<rect x="855.0" y="900.7" width="15.1" height="15.1" fill="#f54dd5"/>
<rect x="812.9" y="851.0" width="15.1" height="15.1" fill="#f54dd5"/>
<rect x="818.0" y="867.9" width="15.1" height="15.1" fill="#f54dd5"/>
<rect x="873.4" y="966.7" width="15.1" height="15.1" fill="#f54dd5"/>
<rect x="860.0" y="879.0" width="15.1" height="15.1" fill="#f54dd5"/>
<rect x="828.8" y="918.8" width="15.1" height="15.1" fill="#f54dd5"/>
<rect x="838.3" y="973.7" width="15.1" height="15.1" fill="#f54dd5"/>
<rect x="870.9" y="907.3" width="15.1" height="15.1" fill="#f54dd5"/>
<rect x="808.5" y="915.2" width="15.1" height="15.1" fill="#f54dd5"/>
<rect x="808.5" y="995.5" width="15.1" height="15.1" fill="#f54dd5"/>
<rect x="875.5" y="896.2" width="15.1" height="15.1" fill="#f54dd5"/>
<rect x="821.2" y="1004.1" width="15.1" height="15.1" fill="#f54dd5"/>
<rect x="852.6" y="949.4" width="15.1" height="15.1" fill="#f54dd5"/>
<rect x="820.6" y="873.2" width="15.1" height="15.1" fill="#f54dd5"/>
<rect x="874.3" y="914.3" width="15.1" height="15.1" fill="#f54dd5"/>
<rect x="846.6" y="886.9" width="15.1" height="15.1" fill="#f54dd5"/>
<rect x="809.4" y="995.1" width="15.1" height="15.1" fill="#f54dd5"/>
<rect x="873.0" y="911.0" width="15.1" height="15.1" fill="#f54dd5"/>
<rect x="817.7" y="984.0" width="15.1" height="15.1" fill="#f54dd5"/>
<rect x="833.0" y="938.4" width="15.1" height="15.1" fill="#f54dd5"/>
<rect x="825.1" y="985.4" width="15.1" height="15.1" fill="#f54dd5"/>
<rect x="834.0" y="980.0" width="15.1" height="15.1" fill="#f54dd5"/>
<rect x="821.4" y="886.1" width="15.1" height="15.1" fill="#f54dd5"/>
<rect x="832.9" y="958.8" width="15.1" height="15.1" fill="#f54dd5"/>
<rect x="866.7" y="857.1" width="15.1" height="15.1" fill="#f54dd5"/>
<rect x="864.5" y="888.8" width="15.1" height="15.1" fill="#f54dd5"/>
<rect x="837.8" y="868.4" width="15.1" height="15.1" fill="#f54dd5"/>
<rect x="856.1" y="864.6" width="15.1" height="15.1" fill="#f54dd5"/>
<rect x="840.6" y="878.3" width="15.1" height="15.1" fill="#f54dd5"/>
<rect x="837.9" y="868.8" width="15.1" height="15.1" fill="#f54dd5"/>
<rect x="832.6" y="929.1" width="15.1" height="15.1" fill="#f54dd5"/>
<rect x="808.5" y="860.8" width="15.1" height="15.1" fill="#f54dd5"/>
<rect x="858.3" y="945.3" width="15.1" height="15.1" fill="#f54dd5"/>
<rect x="875.5" y="867.4" width="15.1" height="15.1" fill="#f54dd5"/>
<rect x="808.5" y="889.7" width="15.1" height="15.1" fill="#f54dd5"/>
<rect x="866.4" y="885.0" width="15.1" height="15.1" fill="#f54dd5"/>
<rect x="826.2" y="1007.4" width="15.1" height="15.1" fill="#f54dd5"/>
<rect x="857.4" y="861.3" width="15.1" height="15.1" fill="#f54dd5"/>
<rect x="829.7" y="883.8" width="15.1" height="15.1" fill="#f54dd5"/>
<rect x="832.7" y="869.0" width="15.1" height="15.1" fill="#f54dd5"/>
<rect x="875.5" y="892.7" width="15.1" height="15.1" fill="#f54dd5"/>
<rect x="850.5" y="988.0" width="15.1" height="15.1" fill="#f54dd5"/>
<rect x="875.5" y="966.6" width="15.1" height="15.1" fill="#f54dd5"/>
<rect x="851.9" y="981.3" width="15.1" height="15.1" fill="#f54dd5"/>
<rect x="817.8" y="911.1" width="15.1" height="15.1" fill="#f54dd5"/>
<rect x="867.9" y="903.8" width="15.1" height="15.1" fill="#f54dd5"/>
<rect x="865.9" y="961.4" width="15.1" height="15.1" fill="#f54dd5"/>
<rect x="855.3" y="851.1" width="15.1" height="15.1" fill="#f54dd5"/>
<rect x="856.9" y="925.7" width="15.1" height="15.1" fill="#f54dd5"/>
<rect x="875.5" y="924.0" width="15.1" height="15.1" fill="#f54dd5"/>
<rect x="821.3" y="977.3" width="15.1" height="15.1" fill="#f54dd5"/>
<rect x="871.4" y="917.6" width="15.1" height="15.1" fill="#f54dd5"/>
<rect x="809.3" y="1011.6" width="15.1" height="15.1" fill="#f54dd5"/>
<rect x="840.4" y="936.5" width="15.1" height="15.1" fill="#f54dd5"/>
<rect x="875.5" y="964.1" width="15.1" height="15.1" fill="#f54dd5"/>
<rect x="869.2" y="881.5" width="15.1" height="15.1" fill="#f54dd5"/>
<rect x="829.2" y="983.4" width="15.1" height="15.1" fill="#f54dd5"/>
<rect x="873.8" y="978.4" width="15.1" height="15.1" fill="#f54dd5"/>
<rect x="820.3" y="919.5" width="15.1" height="15.1" fill="#f54dd5"/>
<rect x="846.5" y="980.9" width="15.1" height="15.1" fill="#f54dd5"/>
<rect x="864.5" y="875.1" width="15.1" height="15.1" fill="#f54dd5"/>
<rect x="875.5" y="930.2" width="15.1" height="15.1" fill="#f54dd5"/>
<rect x="834.3" y="893.4" width="15.1" height="15.1" fill="#f54dd5"/>
<rect x="826.8" y="920.0" width="15.1" height="15.1" fill="#f54dd5"/>
<rect x="808.5" y="948.5" width="15.1" height="15.1" fill="#f54dd5"/>
<rect x="808.5" y="877.3" width="15.1" height="15.1" fill="#f54dd5"/>
<rect x="813.8" y="989.4" width="15.1" height="15.1" fill="#f54dd5"/>
<rect x="875.5" y="1001.3" width="15.1" height="15.1" fill="#f54dd5"/>
<rect x="866.1" y="1013.0" width="15.1" height="15.1" fill="#f54dd5"/>
<rect x="871.6" y="918.6" width="15.1" height="15.1" fill="#f54dd5"/>
<rect x="869.7" y="866.4" width="15.1" height="15.1" fill="#f54dd5"/>
<rect x="827.9" y="898.2" width="15.1" height="15.1" fill="#f54dd5"/>
<rect x="808.5" y="920.7" width="15.1" height="15.1" fill="#f54dd5"/>
<rect x="865.3" y="987.3" width="15.1" height="15.1" fill="#f54dd5"/>
<rect x="842.8" y="868.5" width="15.1" height="15.1" fill="#f54dd5"/>
<rect x="852.5" y="949.3" width="15.1" height="15.1" fill="#f54dd5"/>
<rect x="808.5" y="923.4" width="15.1" height="15.1" fill="#f54dd5"/>
<rect x="825.4" y="914.2" width="15.1" height="15.1" fill="#f54dd5"/>
<rect x="875.5" y="959.1" width="15.1" height="15.1" fill="#f54dd5"/>
<rect x="872.5" y="892.7" width="15.1" height="15.1" fill="#f54dd5"/>
<rect x="808.5" y="955.8" width="15.1" height="15.1" fill="#f54dd5"/>
<rect x="853.5" y="986.0" width="15.1" height="15.1" fill="#f54dd5"/>
<rect x="840.3" y="965.1" width="15.1" height="15.1" fill="#f54dd5"/>
<rect x="851.8" y="879.5" width="15.1" height="15.1" fill="#f54dd5"/>
<rect x="808.5" y="1016.7" width="15.1" height="15.1" fill="#f54dd5"/>
<rect x="873.5" y="941.8" width="15.1" height="15.1" fill="#f54dd5"/>
<rect x="817.4" y="977.0" width="15.1" height="15.1" fill="#f54dd5"/>
<rect x="855.9" y="913.8" width="15.1" height="15.1" fill="#f54dd5"/>
<rect x="832.9" y="1020.0" width="15.1" height="15.1" fill="#f54dd5"/>
<rect x="867.3" y="867.9" width="15.1" height="15.1" fill="#f54dd5"/>
<rect x="867.7" y="954.4" width="15.1" height="15.1" fill="#f54dd5"/>
<rect x="839.9" y="926.6" width="15.1" height="15.1" fill="#f54dd5"/>
<rect x="844.8" y="907.8" width="15.1" height="15.1" fill="#f54dd5"/>
<rect x="829.5" y="988.0" width="15.1" height="15.1" fill="#f54dd5"/>
<rect x="853.8" y="982.8" width="15.1" height="15.1" fill="#f54dd5"/>
<rect x="816.3" y="956.7" width="15.1" height="15.1" fill="#f54dd5"/>
<rect x="845.3" y="883.5" width="15.1" height="15.1" fill="#f54dd5"/>
<rect x="848.1" y="980.7" width="15.1" height="15.1" fill="#f54dd5"/>
<rect x="865.4" y="960.0" width="15.1" height="15.1" fill="#f54dd5"/>
<rect x="812.8" y="926.7" width="15.1" height="15.1" fill="#f54dd5"/>
<rect x="859.8" y="856.3" width="15.1" height="15.1" fill="#f54dd5"/>
<rect x="875.5" y="973.3" width="15.1" height="15.1" fill="#f54dd5"/>
<rect x="813.1" y="849.3" width="15.1" height="15.1" fill="#f54dd5"/>
<rect x="855.1" y="849.1" width="15.1" height="15.1" fill="#f54dd5"/>
<rect x="826.2" y="970.8" width="15.1" height="15.1" fill="#f54dd5"/>
<rect x="808.5" y="852.6" width="15.1" height="15.1" fill="#f54dd5"/>
<rect x="814.4" y="882.6" width="15.1" height="15.1" fill="#f54dd5"/>
<rect x="813.4" y="908.5" width="15.1" height="15.1" fill="#f54dd5"/>
<rect x="858.5" y="998.9" width="15.1" height="15.1" fill="#f54dd5"/>
<rect x="870.6" y="893.9" width="15.1" height="15.1" fill="#f54dd5"/>
<rect x="812.7" y="857.5" width="15.1" height="15.1" fill="#f54dd5"/>
<rect x="808.5" y="984.6" width="15.1" height="15.1" fill="#f54dd5"/>
<rect x="831.3" y="933.0" width="15.1" height="15.1" fill="#f54dd5"/>
<rect x="870.7" y="944.8" width="15.1" height="15.1" fill="#f54dd5"/>
<rect x="818.8" y="967.6" width="15.1" height="15.1" fill="#f54dd5"/>
<rect x="856.5" y="887.9" width="15.1" height="15.1" fill="#f54dd5"/>
<rect x="875.5" y="864.7" width="15.1" height="15.1" fill="#f54dd5"/>
<rect x="821.3" y="970.2" width="15.1" height="15.1" fill="#f54dd5"/>
<rect x="808.5" y="955.5" width="15.1" height="15.1" fill="#f54dd5"/>
<rect x="875.5" y="945.6" width="15.1" height="15.1" fill="#f54dd5"/>
<rect x="821.4" y="948.6" width="15.1" height="15.1" fill="#f54dd5"/>
<rect x="850.9" y="889.9" width="15.1" height="15.1" fill="#f54dd5"/>
<rect x="836.8" y="940.2" width="15.1" height="15.1" fill="#f54dd5"/>
<rect x="810.5" y="973.0" width="15.1" height="15.1" fill="#f54dd5"/>
<rect x="827.9" y="958.5" width="15.1" height="15.1" fill="#f54dd5"/>
<rect x="849.6" y="1003.6" width="15.1" height="15.1" fill="#f54dd5"/>
<rect x="829.3" y="962.4" width="15.1" height="15.1" fill="#f54dd5"/>
<rect x="819.0" y="887.4" width="15.1" height="15.1" fill="#f54dd5"/>
<rect x="863.9" y="971.7" width="15.1" height="15.1" fill="#f54dd5"/>
<rect x="875.5" y="916.7" width="15.1" height="15.1" fill="#f54dd5"/>
<rect x="829.0" y="981.7" width="15.1" height="15.1" fill="#f54dd5"/>
<rect x="828.1" y="904.4" width="15.1" height="15.1" fill="#f54dd5"/>
<rect x="820.2" y="956.7" width="15.1" height="15.1" fill="#f54dd5"/>
<rect x="810.5" y="903.6" width="15.1" height="15.1" fill="#f54dd5"/>
<rect x="875.5" y="966.4" width="15.1" height="15.1" fill="#f54dd5"/>
<rect x="829.3" y="861.3" width="15.1" height="15.1" fill="#f54dd5"/>
<rect x="850.2" y="923.7" width="15.1" height="15.1" fill="#f54dd5"/>
<rect x="862.3" y="936.8" width="15.1" height="15.1" fill="#f54dd5"/>
<rect x="865.6" y="1009.8" width="15.1" height="15.1" fill="#f54dd5"/>
<rect x="855.7" y="940.5" width="15.1" height="15.1" fill="#f54dd5"/>
<rect x="857.0" y="902.6" width="15.1" height="15.1" fill="#f54dd5"/>
<rect x="860.0" y="863.6" width="15.1" height="15.1" fill="#f54dd5"/>
<rect x="808.5" y="854.9" width="15.1" height="15.1" fill="#f54dd5"/>
<rect x="808.5" y="859.3" width="15.1" height="15.1" fill="#f54dd5"/>
<rect x="810.8" y="961.6" width="15.1" height="15.1" fill="#f54dd5"/>
<rect x="875.5" y="923.7" width="15.1" height="15.1" fill="#f54dd5"/>
<rect x="834.8" y="864.6" width="15.1" height="15.1" fill="#f54dd5"/>
<rect x="808.5" y="853.9" width="15.1" height="15.1" fill="#f54dd5"/>
<rect x="808.5" y="939.6" width="15.1" height="15.1" fill="#f54dd5"/>
<rect x="829.6" y="989.2" width="15.1" height="15.1" fill="#f54dd5"/>
<rect x="835.7" y="889.7" width="15.1" height="15.1" fill="#f54dd5"/>
<rect x="862.5" y="970.2" width="15.1" height="15.1" fill="#f54dd5"/>
<rect x="868.2" y="927.2" width="15.1" height="15.1" fill="#f54dd5"/>
<rect x="814.6" y="1010.6" width="15.1" height="15.1" fill="#f54dd5"/>
<rect x="875.5" y="929.8" width="15.1" height="15.1" fill="#f54dd5"/>
<rect x="875.5" y="979.0" width="15.1" height="15.1" fill="#f54dd5"/>
<rect x="822.0" y="983.9" width="15.1" height="15.1" fill="#f54dd5"/>
<rect x="869.8" y="932.9" width="15.1" height="15.1" fill="#f54dd5"/>
<rect x="875.5" y="986.4" width="15.1" height="15.1" fill="#f54dd5"/>
<rect x="842.8" y="988.5" width="15.1" height="15.1" fill="#f54dd5"/>
<rect x="873.9" y="954.3" width="15.1" height="15.1" fill="#f54dd5"/>
<rect x="857.3" y="994.4" width="15.1" height="15.1" fill="#f54dd5"/>
<rect x="852.6" y="858.1" width="15.1" height="15.1" fill="#f54dd5"/>
<rect x="824.0" y="907.6" width="15.1" height="15.1" fill="#f54dd5"/>
<rect x="875.5" y="952.8" width="15.1" height="15.1" fill="#f54dd5"/>
<rect x="875.5" y="887.7" width="15.1" height="15.1" fill="#f54dd5"/>
<rect x="867.5" y="1011.8" width="15.1" height="15.1" fill="#f54dd5"/>
<rect x="849.8" y="916.3" width="15.1" height="15.1" fill="#f54dd5"/>
<rect x="871.6" y="850.6" width="15.1" height="15.1" fill="#f54dd5"/>
<rect x="859.1" y="980.8" width="15.1" height="15.1" fill="#f54dd5"/>
<rect x="869.5" y="989.0" width="15.1" height="15.1" fill="#f54dd5"/>
<rect x="811.9" y="1001.4" width="15.1" height="15.1" fill="#f54dd5"/>
<rect x="818.5" y="901.2" width="15.1" height="15.1" fill="#f54dd5"/>
<rect x="830.3" y="923.6" width="15.1" height="15.1" fill="#f54dd5"/>
<rect x="824.5" y="971.1" width="15.1" height="15.1" fill="#f54dd5"/>
<rect x="812.1" y="1002.5" width="15.1" height="15.1" fill="#f54dd5"/>
<rect x="829.9" y="981.6" width="15.1" height="15.1" fill="#f54dd5"/>
<rect x="808.5" y="984.9" width="15.1" height="15.1" fill="#f54dd5"/>
<rect x="875.5" y="1011.2" width="15.1" height="15.1" fill="#f54dd5"/>
<rect x="839.4" y="977.3" width="15.1" height="15.1" fill="#f54dd5"/>
<rect x="875.5" y="910.5" width="15.1" height="15.1" fill="#f54dd5"/>
<rect x="816.4" y="1000.9" width="15.1" height="15.1" fill="#f54dd5"/>
<rect x="808.5" y="887.5" width="15.1" height="15.1" fill="#f54dd5"/>
<rect x="813.0" y="975.9" width="15.1" height="15.1" fill="#f54dd5"/>
<rect x="839.4" y="917.6" width="15.1" height="15.1" fill="#f54dd5"/>
<rect x="875.5" y="901.7" width="15.1" height="15.1" fill="#f54dd5"/>
<rect x="868.4" y="929.4" width="15.1" height="15.1" fill="#f54dd5"/>
<rect x="875.5" y="975.6" width="15.1" height="15.1" fill="#f54dd5"/>
<rect x="869.7" y="951.6" width="15.1" height="15.1" fill="#f54dd5"/>
<rect x="808.5" y="931.7" width="15.1" height="15.1" fill="#f54dd5"/>
<rect x="867.4" y="962.9" width="15.1" height="15.1" fill="#f54dd5"/>
<rect x="832.7" y="910.9" width="15.1" height="15.1" fill="#f54dd5"/>
<rect x="808.5" y="961.1" width="15.1" height="15.1" fill="#f54dd5"/>
<rect x="839.4" y="946.4" width="15.1" height="15.1" fill="#f54dd5"/>
<rect x="817.2" y="1020.2" width="15.1" height="15.1" fill="#f54dd5"/>
<rect x="827.9" y="937.1" width="15.1" height="15.1" fill="#f54dd5"/>
<rect x="815.3" y="985.0" width="15.1" height="15.1" fill="#f54dd5"/>
<rect x="812.3" y="911.5" width="15.1" height="15.1" fill="#f54dd5"/>
<rect x="875.5" y="875.6" width="15.1" height="15.1" fill="#f54dd5"/>
<rect x="813.6" y="920.1" width="15.1" height="15.1" fill="#f54dd5"/>
<rect x="874.9" y="937.1" width="15.1" height="15.1" fill="#f54dd5"/>
<rect x="875.5" y="942.5" width="15.1" height="15.1" fill="#f54dd5"/>
<rect x="853.2" y="873.1" width="15.1" height="15.1" fill="#f54dd5"/>
<rect x="808.5" y="880.0" width="15.1" height="15.1" fill="#f54dd5"/>
<rect x="808.5" y="997.8" width="15.1" height="15.1" fill="#f54dd5"/>
<rect x="870.4" y="884.1" width="15.1" height="15.1" fill="#f54dd5"/>
<rect x="842.1" y="1003.0" width="15.1" height="15.1" fill="#f54dd5"/>
<rect x="808.5" y="936.3" width="15.1" height="15.1" fill="#f54dd5"/>
<rect x="808.5" y="873.2" width="15.1" height="15.1" fill="#f54dd5"/>
<rect x="862.3" y="921.4" width="15.1" height="15.1" fill="#f54dd5"/>
<rect x="825.8" y="895.9" width="15.1" height="15.1" fill="#f54dd5"/>
<rect x="842.8" y="929.0" width="15.1" height="15.1" fill="#f54dd5"/>
<rect x="808.8" y="907.0" width="15.1" height="15.1" fill="#f54dd5"/>
<rect x="858.6" y="889.2" width="15.1" height="15.1" fill="#f54dd5"/>
<rect x="843.1" y="878.6" width="15.1" height="15.1" fill="#f54dd5"/>
<rect x="869.0" y="883.2" width="15.1" height="15.1" fill="#f54dd5"/>
<rect x="856.7" y="977.3" width="15.1" height="15.1" fill="#f54dd5"/>
<rect x="856.1" y="895.3" width="15.1" height="15.1" fill="#f54dd5"/>
<rect x="808.5" y="932.5" width="15.1" height="15.1" fill="#f54dd5"/>
<rect x="866.7" y="997.8" width="15.1" height="15.1" fill="#f54dd5"/>
<rect x="875.5" y="872.9" width="15.1" height="15.1" fill="#f54dd5"/>
<rect x="851.2" y="1020.0" width="15.1" height="15.1" fill="#f54dd5"/>
<rect x="859.8" y="890.6" width="15.1" height="15.1" fill="#f54dd5"/>
<rect x="819.3" y="919.0" width="15.1" height="15.1" fill="#f54dd5"/>
<rect x="828.8" y="876.3" width="15.1" height="15.1" fill="#f54dd5"/>
<rect x="808.20" y="943.00" width="82.60" height="7.40" fill="#000" />
<text x="129.11" y="1118.10" font-size="37.5" fill="#000" style="letter-spacing:0.913px" >HU</text>
<rect x="222.00" y="1105.50" width="24.00" height="5.60" fill="#000" />
<rect x="472.20" y="1105.50" width="24.00" height="5.60" fill="#000" />
<rect x="718.50" y="1105.50" width="24.00" height="5.60" fill="#000" />
<rect x="345.30" y="1102.60" width="22.80" height="4.40" fill="#000" />
<rect x="354.50" y="1093.40" width="4.40" height="22.80" fill="#000" />
<rect x="592.80" y="1102.60" width="22.80" height="4.40" fill="#000" />
<rect x="602.00" y="1093.40" width="4.40" height="22.80" fill="#000" />
<rect x="839.10" y="1102.60" width="22.80" height="4.40" fill="#000" />
<rect x="848.30" y="1093.40" width="4.40" height="22.80" fill="#000" />
<rect x="472.00" y="1157.70" width="22.80" height="4.40" fill="#000" />
<rect x="481.20" y="1148.50" width="4.40" height="22.80" fill="#000" />
<rect x="592.80" y="1157.70" width="22.80" height="4.40" fill="#000" />
<rect x="602.00" y="1148.50" width="4.40" height="22.80" fill="#000" />
<rect x="721.10" y="1206.10" width="22.80" height="4.40" fill="#000" />
<rect x="730.30" y="1196.90" width="4.40" height="22.80" fill="#000" />
<rect x="839.10" y="1206.10" width="22.80" height="4.40" fill="#000" />
<rect x="848.30" y="1196.90" width="4.40" height="22.80" fill="#000" />
<text x="57.64" y="1172.10" font-size="37" fill="#a00000" style="letter-spacing:-0.216px" >+BRCv</text>
<rect x="176.90" y="1153.40" width="5.30" height="1.80" fill="#a00000" />
<text x="93.34" y="1221.50" font-size="37" fill="#f54bd5" style="letter-spacing:0.061px" >+WA</text>
<rect x="174.20" y="1202.20" width="5.40" height="1.80" fill="#f54bd5" />
<rect x="188.90" y="1229.00" width="706.30" height="3.60" fill="#000" />
<rect x="44.70" y="1128.30" width="3.40" height="103.20" fill="#000" />
<text transform="translate(38.70,1231.50) rotate(-90)" x="-3.18" y="0" font-size="38.5" fill="#f44040" style="letter-spacing:-0.959px">MCM9</text>
<text x="515.57" y="1268.80" font-size="38.5" fill="#f44040" >9</text>
<text x="536.33" y="1256.50" font-size="22.7" fill="#f44040" style="letter-spacing:-0.551px" >KO</text>
<text x="1310.71" y="588.40" font-size="37.5" fill="#000" style="letter-spacing:0.612px" >HU</text>
<rect x="1329.00" y="647.20" width="24.00" height="5.60" fill="#000" />
<rect x="1327.10" y="735.80" width="22.80" height="4.40" fill="#000" />
<rect x="1336.30" y="726.60" width="4.40" height="22.80" fill="#000" />
<rect x="1329.00" y="828.70" width="24.00" height="5.60" fill="#000" />
<rect x="1327.10" y="916.10" width="22.80" height="4.40" fill="#000" />
<rect x="1336.30" y="906.90" width="4.40" height="22.80" fill="#000" />
<rect x="1329.00" y="1006.40" width="24.00" height="5.60" fill="#000" />
<rect x="1327.10" y="1099.60" width="22.80" height="4.40" fill="#000" />
<rect x="1336.30" y="1090.40" width="4.40" height="22.80" fill="#000" />
<rect x="1429.30" y="599.80" width="3.50" height="536.90" fill="#000" />
<rect x="1367.70" y="780.00" width="3.40" height="174.70" fill="#000" />
<rect x="1367.60" y="962.90" width="3.40" height="173.80" fill="#000" />
<text transform="translate(1381.30,817.10) rotate(90)" x="-1.76" y="0" font-size="37" fill="#a00000" style="letter-spacing:-0.891px">+BRCv</text>
<rect x="1397.80" y="934.60" width="2.00" height="5.40" fill="#a00000" />
<text transform="translate(1380.80,1012.20) rotate(90)" x="-1.76" y="0" font-size="37" fill="#f54bd5" style="letter-spacing:0.011px">+WA</text>
<rect x="1397.80" y="1091.10" width="2.00" height="5.70" fill="#f54bd5" />
<text x="1445.35" y="882.20" font-size="39" fill="#f44040" >9</text>
<text x="1466.10" y="869.80" font-size="23" fill="#f44040" style="letter-spacing:-1.145px" >KO</text>
<g clip-path="url(#cp0)">
<rect x="949.00" y="599.60" width="355.50" height="84.20" fill="#0a0428" />
<rect x="949" y="599.6" width="355.5" height="84.2" filter="url(#n0)" opacity="0.45"/>
<ellipse cx="1000.0" cy="606.0" rx="20" ry="12" fill="#b02a90" opacity="0.75" filter="url(#b6)"/>
<ellipse cx="1002.0" cy="603.0" rx="11" ry="6" fill="#eeffb8" opacity="1.0" filter="url(#b2)"/>
<ellipse cx="993.0" cy="609.0" rx="6" ry="4" fill="#f0a8c8" opacity="0.9" filter="url(#b2)"/>
<ellipse cx="1011.0" cy="604.0" rx="3" ry="5" fill="#70f060" opacity="0.9" filter="url(#b2)"/>
<ellipse cx="963.0" cy="647.3" rx="9" ry="8" fill="#1a6a2a" opacity="0.7" filter="url(#b3)"/>
<ellipse cx="963.0" cy="647.3" rx="4" ry="4" fill="#22f03a" opacity="1.0" filter="url(#b2)"/>
<ellipse cx="985.3" cy="647.3" rx="9" ry="8" fill="#1a6a2a" opacity="0.7" filter="url(#b3)"/>
<ellipse cx="985.3" cy="647.3" rx="4" ry="4" fill="#22f03a" opacity="1.0" filter="url(#b2)"/>
<ellipse cx="1000.9" cy="648.5" rx="9" ry="8" fill="#1a6a2a" opacity="0.7" filter="url(#b3)"/>
<ellipse cx="1000.9" cy="648.5" rx="4" ry="4" fill="#22f03a" opacity="1.0" filter="url(#b2)"/>
<ellipse cx="1027.9" cy="649.7" rx="9" ry="8" fill="#1a6a2a" opacity="0.7" filter="url(#b3)"/>
<ellipse cx="1027.9" cy="649.7" rx="4" ry="4" fill="#22f03a" opacity="1.0" filter="url(#b2)"/>
<ellipse cx="1059.2" cy="649.1" rx="9" ry="8" fill="#1a6a2a" opacity="0.7" filter="url(#b3)"/>
<ellipse cx="1059.2" cy="649.1" rx="4" ry="4" fill="#22f03a" opacity="1.0" filter="url(#b2)"/>
<ellipse cx="1082.6" cy="646.1" rx="9" ry="8" fill="#1a6a2a" opacity="0.7" filter="url(#b3)"/>
<ellipse cx="1082.6" cy="646.1" rx="4" ry="4" fill="#22f03a" opacity="1.0" filter="url(#b2)"/>
<ellipse cx="1097.6" cy="644.5" rx="4" ry="8" fill="#22f03a" opacity="1.0" filter="url(#b2)"/>
<ellipse cx="1113.0" cy="631.0" rx="2.5" ry="6" fill="#22f03a" opacity="0.9" filter="url(#b2)"/>
<ellipse cx="1112.0" cy="637.0" rx="4" ry="3" fill="#60d060" opacity="0.9" filter="url(#b2)"/>
<ellipse cx="1210.0" cy="638.0" rx="88" ry="14" fill="#a01e90" opacity="0.75" filter="url(#b6)"/>
<ellipse cx="1125.0" cy="637.0" rx="8.0" ry="9" fill="#d040c0" opacity="0.8" filter="url(#b3)"/>
<ellipse cx="1125.0" cy="637.0" rx="4.0" ry="4" fill="#eeffb8" opacity="0.95" filter="url(#b2)"/>
<ellipse cx="1150.5" cy="638.0" rx="13.5" ry="9" fill="#d040c0" opacity="0.8" filter="url(#b3)"/>
<ellipse cx="1150.5" cy="638.0" rx="9.5" ry="4" fill="#eeffb8" opacity="0.95" filter="url(#b2)"/>
<ellipse cx="1188.0" cy="636.0" rx="22.0" ry="9" fill="#d040c0" opacity="0.8" filter="url(#b3)"/>
<ellipse cx="1188.0" cy="636.0" rx="18.0" ry="4" fill="#eeffb8" opacity="0.95" filter="url(#b2)"/>
<ellipse cx="1228.5" cy="637.0" rx="19.5" ry="9" fill="#d040c0" opacity="0.8" filter="url(#b3)"/>
<ellipse cx="1228.5" cy="637.0" rx="15.5" ry="4" fill="#eeffb8" opacity="0.95" filter="url(#b2)"/>
<ellipse cx="1258.8" cy="639.5" rx="12.25" ry="9" fill="#d040c0" opacity="0.8" filter="url(#b3)"/>
<ellipse cx="1258.8" cy="639.5" rx="8.25" ry="4" fill="#eeffb8" opacity="0.95" filter="url(#b2)"/>
<ellipse cx="1279.7" cy="640.0" rx="10.050000000000068" ry="9" fill="#d040c0" opacity="0.8" filter="url(#b3)"/>
<ellipse cx="1279.7" cy="640.0" rx="6.050000000000068" ry="4" fill="#eeffb8" opacity="0.95" filter="url(#b2)"/>
<ellipse cx="1296.0" cy="641.0" rx="3" ry="2.5" fill="#22f03a" opacity="0.6" filter="url(#b2)"/>
</g>
<g clip-path="url(#cp1)">
<rect x="949.00" y="690.40" width="355.50" height="84.20" fill="#030603" />
<rect x="949" y="690.4" width="355.5" height="84.2" filter="url(#n1)" opacity="0.4"/>
<ellipse cx="969.9" cy="728.2" rx="10.300000000000011" ry="3.2" fill="#22f03a" opacity="1.0" filter="url(#b2)"/>
<ellipse cx="987.0" cy="728.2" rx="5.25" ry="3.2" fill="#22f03a" opacity="1.0" filter="url(#b2)"/>
<ellipse cx="999.6" cy="731.2" rx="4.649999999999977" ry="3.2" fill="#22f03a" opacity="1.0" filter="url(#b2)"/>
<ellipse cx="1009.3" cy="729.4" rx="3.400000000000034" ry="3.2" fill="#22f03a" opacity="1.0" filter="url(#b2)"/>
<ellipse cx="1028.2" cy="733.6" rx="4.899999999999977" ry="3.2" fill="#22f03a" opacity="1.0" filter="url(#b2)"/>
<ellipse cx="1048.9" cy="735.4" rx="8.199999999999932" ry="3.2" fill="#22f03a" opacity="1.0" filter="url(#b2)"/>
<ellipse cx="1090.4" cy="735.6" rx="8.800000000000068" ry="3.2" fill="#22f03a" opacity="1.0" filter="url(#b2)"/>
<path d="M1056.0 735.4 L1080.0 735.6" stroke="#18b028" stroke-width="4" fill="none" opacity="0.9" stroke-linecap="round" stroke-linejoin="round" filter="url(#b2)"/>
<path d="M1100.0 737.5 L1117.0 737.8" stroke="#f070f0" stroke-width="5" fill="none" opacity="1.0" stroke-linecap="round" stroke-linejoin="round" filter="url(#b2)"/>
<ellipse cx="1116.0" cy="738.0" rx="3" ry="3" fill="#f0fff0" opacity="1.0" filter="url(#b2)"/>
<ellipse cx="1178.0" cy="737.5" rx="47" ry="7" fill="#c828c8" opacity="0.8" filter="url(#b3)"/>
<path d="M1135.0 737.0 L1221.0 737.5" stroke="#f060f0" stroke-width="6" fill="none" opacity="1.0" stroke-linecap="round" stroke-linejoin="round" filter="url(#b2)"/>
<path d="M1140.0 736.0 L1200.0 736.2" stroke="#f8e0f8" stroke-width="2.5" fill="none" opacity="0.9" stroke-linecap="round" stroke-linejoin="round" filter="url(#b1)"/>
<ellipse cx="1209.0" cy="736.0" rx="9" ry="5" fill="#e8ffe8" opacity="1.0" filter="url(#b2)"/>
<ellipse cx="1043.0" cy="713.2" rx="2.5" ry="3" fill="#ec2ee0" opacity="0.9" filter="url(#b1)"/>
</g>
<g clip-path="url(#cp2)">
<rect x="949.00" y="781.40" width="355.50" height="84.20" fill="#0f0d0c" />
<rect x="949" y="781.4" width="355.5" height="84.2" filter="url(#n2)" opacity="0.35"/>
<path d="M966.0 853.3 L965.4 845.5 L964.8 832.9 L967.8 829.3 L972.0 826.9 L981.6 828.1 L987.7 822.1 L992.5 818.5 L1003.3 821.5 L1012.9 826.9 L1022.5 820.9" stroke="#22f03a" stroke-width="5" fill="none" opacity="1.0" stroke-linecap="round" stroke-linejoin="round" filter="url(#b2)"/>
<path d="M1021.3 836.5 L1026.1 844.9 L1032.1 852.1 L1039.3 856.9 L1044.1 863.5" stroke="#22f03a" stroke-width="5" fill="none" opacity="1.0" stroke-linecap="round" stroke-linejoin="round" filter="url(#b2)"/>
<ellipse cx="981.6" cy="828.5" rx="3" ry="3" fill="#c0ffc0" opacity="0.9" filter="url(#b1)"/>
<ellipse cx="964.2" cy="789.6" rx="3" ry="4" fill="#20a030" opacity="0.6" filter="url(#b2)"/>
<ellipse cx="975.6" cy="802.8" rx="3" ry="4" fill="#20a030" opacity="0.6" filter="url(#b2)"/>
<ellipse cx="1056.1" cy="817.9" rx="3" ry="3.5" fill="#20c030" opacity="0.8" filter="url(#b2)"/>
<ellipse cx="1063.4" cy="817.9" rx="3" ry="3.5" fill="#20c030" opacity="0.8" filter="url(#b2)"/>
<ellipse cx="1077.8" cy="817.9" rx="3" ry="3.5" fill="#20c030" opacity="0.8" filter="url(#b2)"/>
<ellipse cx="1085.0" cy="817.9" rx="3" ry="3.5" fill="#20c030" opacity="0.8" filter="url(#b2)"/>
<ellipse cx="1100.6" cy="817.9" rx="3" ry="3.5" fill="#20c030" opacity="0.8" filter="url(#b2)"/>
<ellipse cx="1112.6" cy="817.9" rx="3" ry="3.5" fill="#20c030" opacity="0.8" filter="url(#b2)"/>
<ellipse cx="1124.6" cy="821.5" rx="3" ry="3" fill="#c0f0b0" opacity="0.9" filter="url(#b2)"/>
<ellipse cx="1132.4" cy="821.6" rx="3" ry="3.5" fill="#c020b0" opacity="0.9" filter="url(#b2)"/>
<ellipse cx="1139.9" cy="821.6" rx="3" ry="3.5" fill="#c020b0" opacity="0.9" filter="url(#b2)"/>
<ellipse cx="1149.8" cy="821.6" rx="3" ry="3.5" fill="#c020b0" opacity="0.9" filter="url(#b2)"/>
<ellipse cx="1168.4" cy="821.6" rx="3" ry="3.5" fill="#c020b0" opacity="0.9" filter="url(#b2)"/>
<ellipse cx="1174.6" cy="821.6" rx="3" ry="3.5" fill="#c020b0" opacity="0.9" filter="url(#b2)"/>
<ellipse cx="1180.8" cy="821.6" rx="3" ry="3.5" fill="#c020b0" opacity="0.9" filter="url(#b2)"/>
<ellipse cx="1193.9" cy="823.5" rx="3" ry="3.5" fill="#c020b0" opacity="0.9" filter="url(#b2)"/>
<ellipse cx="1211.9" cy="823.5" rx="3" ry="3.5" fill="#c020b0" opacity="0.9" filter="url(#b2)"/>
<ellipse cx="1257.8" cy="824.7" rx="3" ry="3.5" fill="#c020b0" opacity="0.9" filter="url(#b2)"/>
<ellipse cx="1269.0" cy="828.4" rx="3" ry="3.5" fill="#c020b0" opacity="0.9" filter="url(#b2)"/>
<ellipse cx="1280.2" cy="828.4" rx="3" ry="3.5" fill="#c020b0" opacity="0.9" filter="url(#b2)"/>
<ellipse cx="1293.8" cy="830.9" rx="3" ry="3.5" fill="#c020b0" opacity="0.9" filter="url(#b2)"/>
<ellipse cx="1239.8" cy="824.0" rx="12" ry="4.5" fill="#ec2ee0" opacity="1.0" filter="url(#b2)"/>
<ellipse cx="1275.2" cy="836.0" rx="2.5" ry="5" fill="#a01a90" opacity="0.8" filter="url(#b2)"/>
<ellipse cx="1153.5" cy="850.8" rx="2.8" ry="4.5" fill="#ffd8ff" opacity="1.0" filter="url(#b1)"/>
<ellipse cx="1058.5" cy="852.1" rx="2.5" ry="4" fill="#a01a90" opacity="0.8" filter="url(#b2)"/>
<ellipse cx="1092.2" cy="856.9" rx="2.5" ry="4" fill="#a01a90" opacity="0.8" filter="url(#b2)"/>
<ellipse cx="997.3" cy="854.5" rx="2.5" ry="4" fill="#a01a90" opacity="0.8" filter="url(#b2)"/>
</g>
<g clip-path="url(#cp3)">
<rect x="949.00" y="872.30" width="355.50" height="84.20" fill="#042004" />
<rect x="949" y="872.3" width="355.5" height="84.2" filter="url(#n3)" opacity="0.45"/>
<ellipse cx="1040.0" cy="919.0" rx="80" ry="14" fill="#0a6a0a" opacity="0.8" filter="url(#b6)"/>
<ellipse cx="966.6" cy="912.1" rx="4" ry="3.5" fill="#22f03a" opacity="0.9" filter="url(#b2)"/>
<ellipse cx="994.0" cy="922.0" rx="11" ry="7" fill="#22f03a" opacity="1.0" filter="url(#b2)"/>
<path d="M1015.3 919.0 L1092.2 919.0" stroke="#22f03a" stroke-width="6" fill="none" opacity="1.0" stroke-linecap="round" stroke-linejoin="round" filter="url(#b2)"/>
<ellipse cx="1103.0" cy="915.7" rx="4" ry="3.5" fill="#30c030" opacity="0.9" filter="url(#b2)"/>
<ellipse cx="1116.2" cy="912.1" rx="3" ry="3" fill="#b020a0" opacity="0.8" filter="url(#b2)"/>
<ellipse cx="1129.9" cy="909.7" rx="6" ry="7" fill="#ec2ee0" opacity="1.0" filter="url(#b2)"/>
<ellipse cx="1144.8" cy="904.8" rx="3" ry="3" fill="#a02090" opacity="0.7" filter="url(#b2)"/>
<ellipse cx="1180.0" cy="912.2" rx="24" ry="6.5" fill="#ec2ee0" opacity="0.95" filter="url(#b2)"/>
<ellipse cx="1221.8" cy="921.5" rx="3" ry="3" fill="#20a020" opacity="0.8" filter="url(#b2)"/>
<ellipse cx="1234.2" cy="921.5" rx="3" ry="3" fill="#20a020" opacity="0.8" filter="url(#b2)"/>
<ellipse cx="1248.5" cy="921.5" rx="3" ry="3" fill="#20a020" opacity="0.8" filter="url(#b2)"/>
<ellipse cx="1293.8" cy="945.0" rx="11" ry="11" fill="#40b040" opacity="0.8" filter="url(#b3)"/>
<ellipse cx="1293.8" cy="904.8" rx="3" ry="4" fill="#a02090" opacity="0.7" filter="url(#b2)"/>
<ellipse cx="993.7" cy="877.2" rx="3.5" ry="4" fill="#c030b0" opacity="0.8" filter="url(#b2)"/>
</g>
<g clip-path="url(#cp4)">
<rect x="949.00" y="963.20" width="355.50" height="84.20" fill="#020202" />
<path d="M954.0 1020.1 L976.8 1017.1 L992.5 1009.3 L1005.7 1005.1 L1018.9 1000.9 L1032.1 993.6 L1050.1 991.8 L1068.2 991.2 L1086.2 992.4 L1110.2 994.2 L1125.8 996.6 L1132.4 997.2" stroke="#18c018" stroke-width="5.5" fill="none" opacity="1.0" stroke-linecap="round" stroke-linejoin="round" filter="url(#b2)"/>
<ellipse cx="1146.0" cy="1001.0" rx="14" ry="5.5" fill="#d050d0" opacity="1.0" filter="url(#b2)"/>
<ellipse cx="1147.3" cy="1001.0" rx="2.5" ry="2.5" fill="#f0fff0" opacity="1.0" filter="url(#b1)"/>
<ellipse cx="1154.8" cy="1001.0" rx="2.5" ry="2.5" fill="#f0fff0" opacity="1.0" filter="url(#b1)"/>
<ellipse cx="1170.9" cy="997.2" rx="2.5" ry="3.5" fill="#c020c0" opacity="0.9" filter="url(#b2)"/>
<ellipse cx="1176.5" cy="997.2" rx="2.5" ry="3.5" fill="#c020c0" opacity="0.9" filter="url(#b2)"/>
<ellipse cx="1187.7" cy="996.0" rx="3.5" ry="5" fill="#22f03a" opacity="1.0" filter="url(#b2)"/>
<ellipse cx="1207.0" cy="989.0" rx="12" ry="10" fill="#ec2ee0" opacity="1.0" filter="url(#b2)"/>
<ellipse cx="1215.6" cy="988.6" rx="3" ry="4" fill="#fff0ff" opacity="1.0" filter="url(#b1)"/>
<ellipse cx="1255.3" cy="1024.0" rx="3.5" ry="4" fill="#ec2ee0" opacity="1.0" filter="url(#b2)"/>
<ellipse cx="1255.3" cy="1031.0" rx="3.5" ry="4" fill="#d0ffc8" opacity="1.0" filter="url(#b2)"/>
<ellipse cx="1132.4" cy="1039.0" rx="3" ry="5.5" fill="#f070f0" opacity="1.0" filter="url(#b2)"/>
<ellipse cx="960.0" cy="973.2" rx="3.5" ry="4.5" fill="#f060e8" opacity="1.0" filter="url(#b2)"/>
<ellipse cx="950.4" cy="979.2" rx="2.5" ry="4" fill="#a020a0" opacity="0.8" filter="url(#b2)"/>
</g>
<g clip-path="url(#cp5)">
<rect x="949.00" y="1054.10" width="355.50" height="84.20" fill="#052405" />
<rect x="949" y="1054.1" width="355.5" height="84.2" filter="url(#n5)" opacity="0.5"/>
<path d="M964.2 1110.3 L980.4 1109.7 L992.5 1107.9 L1010.5 1107.3 L1029.7 1104.9 L1051.3 1103.1 L1074.2 1101.3 L1089.8 1101.3 L1103.0 1098.9 L1121.0 1097.1 L1125.0 1097.5" stroke="#10e020" stroke-width="6.2" fill="none" opacity="1.0" stroke-linecap="round" stroke-linejoin="round" filter="url(#b2)"/>
<ellipse cx="964.2" cy="1110.3" rx="5" ry="5" fill="#22f03a" opacity="1.0" filter="url(#b2)"/>
<path d="M1138.0 1094.8 L1228.0 1094.8" stroke="#e040d8" stroke-width="7" fill="none" opacity="0.95" stroke-linecap="round" stroke-linejoin="round" filter="url(#b2)"/>
<path d="M1242.9 1093.6 L1256.6 1086.8 L1266.5 1081.2" stroke="#e870e8" stroke-width="8" fill="none" opacity="1.0" stroke-linecap="round" stroke-linejoin="round" filter="url(#b2)"/>
<ellipse cx="1247.9" cy="1091.5" rx="3" ry="3" fill="#f0e0f0" opacity="0.9" filter="url(#b1)"/>
<ellipse cx="1265.3" cy="1065.7" rx="3" ry="4" fill="#22f03a" opacity="1.0" filter="url(#b2)"/>
<ellipse cx="1301.3" cy="1078.7" rx="3.5" ry="4" fill="#d020c8" opacity="0.9" filter="url(#b2)"/>
<ellipse cx="951.6" cy="1082.0" rx="3" ry="3.5" fill="#a020a0" opacity="0.8" filter="url(#b2)"/>
<ellipse cx="1187.7" cy="1135.2" rx="2.5" ry="3" fill="#20c020" opacity="0.8" filter="url(#b2)"/>
</g>
</svg></body></html>
